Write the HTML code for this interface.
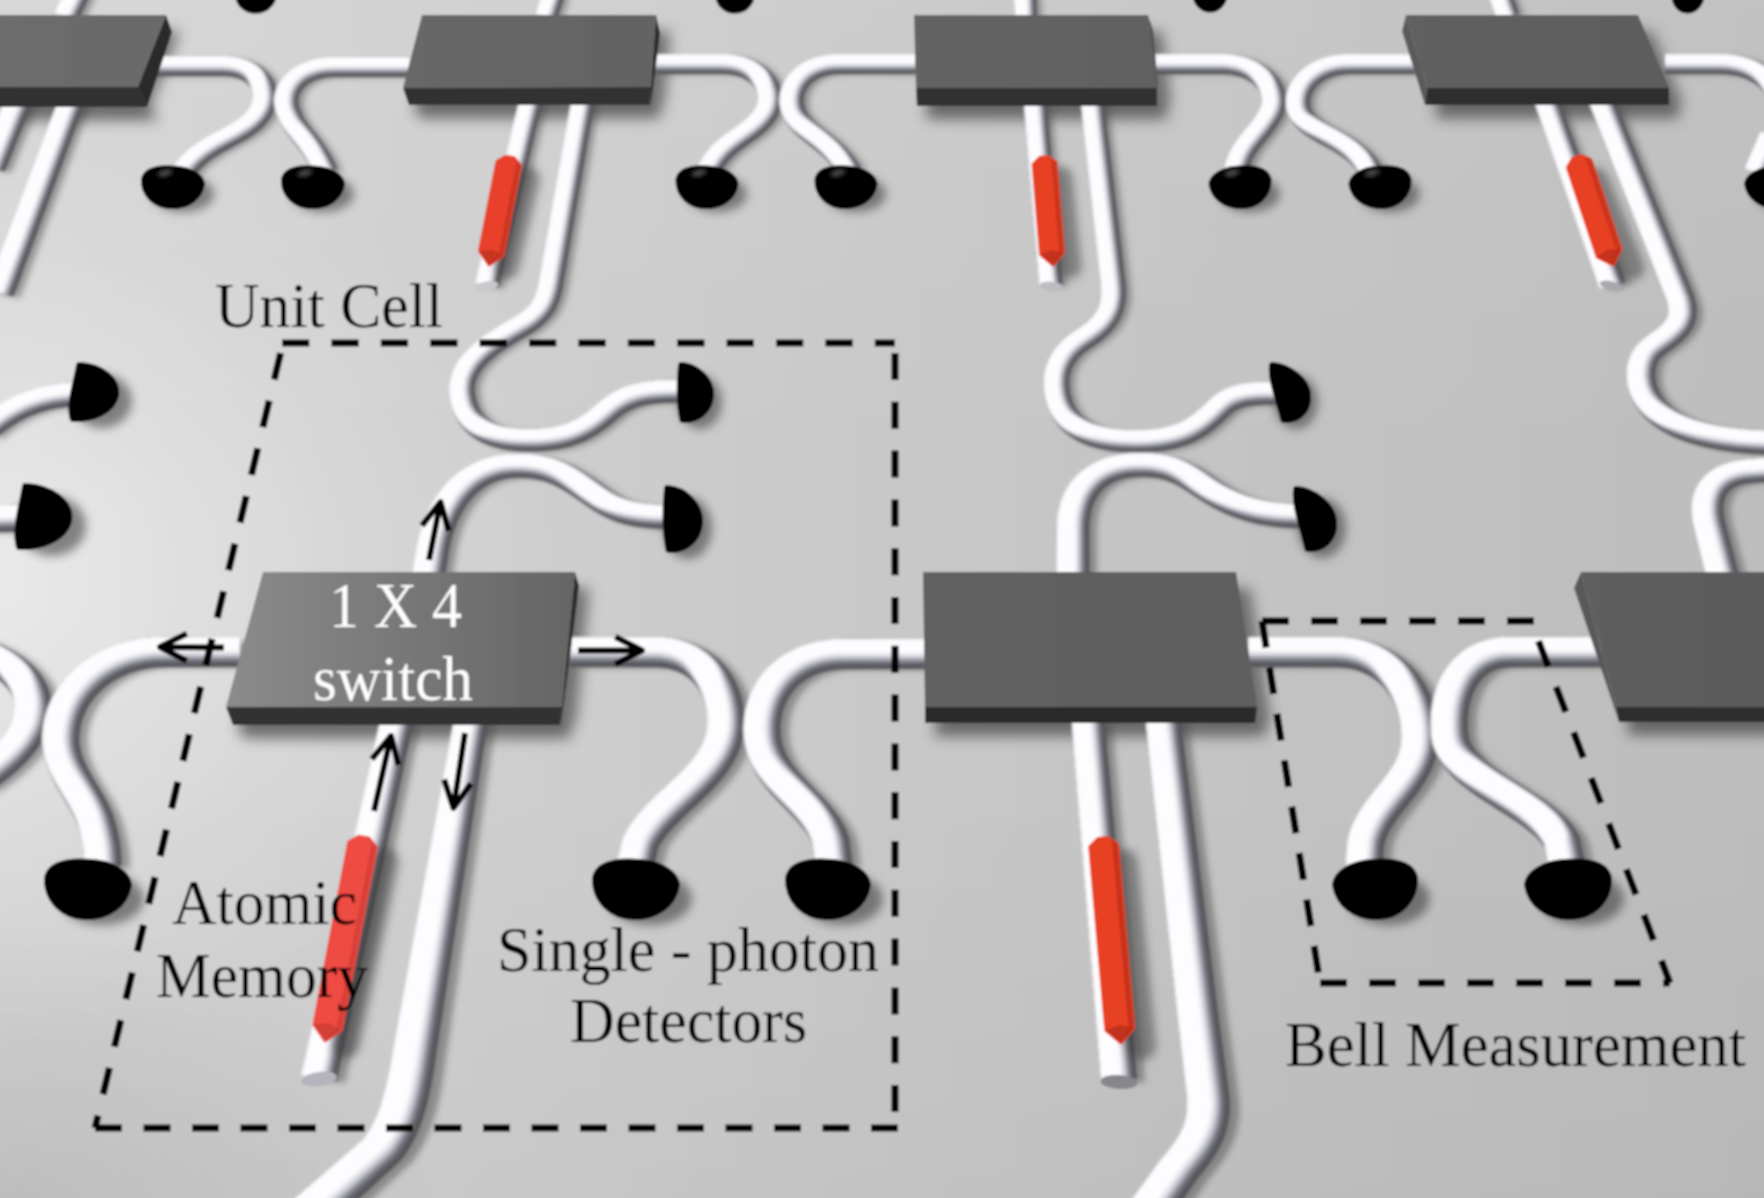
<!DOCTYPE html>
<html><head><meta charset="utf-8"><title>Photonic circuit unit cell</title>
<style>
html,body{margin:0;padding:0;background:#c4c4c4;}
body{width:1764px;height:1198px;overflow:hidden;font-family:"Liberation Serif",serif;}
svg{display:block;}
</style></head><body>
<svg width="1764" height="1198" viewBox="0 0 1764 1198">
<defs>
<linearGradient id="bg" x1="0" y1="0" x2="1" y2="0"><stop offset="0" stop-color="#d5d5d5"/><stop offset="0.3" stop-color="#cecece"/><stop offset="0.55" stop-color="#c7c7c7"/><stop offset="0.8" stop-color="#c1c1c1"/><stop offset="1" stop-color="#bdbdbd"/></linearGradient>
<radialGradient id="bgh" gradientUnits="userSpaceOnUse" cx="0" cy="0" r="1" gradientTransform="translate(-30 575) scale(600 470)"><stop offset="0" stop-color="#fff" stop-opacity="0.5"/><stop offset="0.35" stop-color="#fff" stop-opacity="0.3"/><stop offset="0.7" stop-color="#fff" stop-opacity="0.1"/><stop offset="1" stop-color="#fff" stop-opacity="0"/></radialGradient>
<linearGradient id="bg2" x1="0" y1="0" x2="0" y2="1"><stop offset="0" stop-color="#fff" stop-opacity="0.07"/><stop offset="0.4" stop-color="#fff" stop-opacity="0"/><stop offset="0.65" stop-color="#000" stop-opacity="0"/><stop offset="1" stop-color="#000" stop-opacity="0.03"/></linearGradient>
<radialGradient id="bg3" gradientUnits="userSpaceOnUse" cx="0" cy="0" r="1" gradientTransform="translate(-50 1250) scale(500 350)"><stop offset="0" stop-color="#000" stop-opacity="0.1"/><stop offset="1" stop-color="#000" stop-opacity="0"/></radialGradient>
<filter id="b4" x="-20%" y="-20%" width="140%" height="140%"><feGaussianBlur stdDeviation="4"/></filter>
<filter id="b3" x="-20%" y="-20%" width="140%" height="140%"><feGaussianBlur stdDeviation="3"/></filter>
<filter id="b5" x="-20%" y="-20%" width="140%" height="140%"><feGaussianBlur stdDeviation="5"/></filter>
<filter id="b7" x="-20%" y="-20%" width="140%" height="140%"><feGaussianBlur stdDeviation="7"/></filter>
<filter id="b1" x="-5%" y="-5%" width="110%" height="110%"><feGaussianBlur stdDeviation="1.1"/></filter>
<filter id="b2" x="-5%" y="-5%" width="110%" height="110%"><feGaussianBlur stdDeviation="2"/></filter>
<filter id="soft" x="0" y="0" width="100%" height="100%"><feGaussianBlur stdDeviation="0.9"/></filter>
</defs>
<g filter="url(#soft)">
<rect x="-5" y="-5" width="1774" height="1208" fill="url(#bg)"/>
<rect x="-5" y="-5" width="1774" height="1208" fill="url(#bg2)"/>
<rect x="-5" y="-5" width="1774" height="1208" fill="url(#bgh)"/>
<rect x="-5" y="-5" width="1774" height="1208" fill="url(#bg3)"/>
<g filter="url(#b7)" opacity="0.7">
<polygon points="9,31 180,31 152,103 9,103" fill="#4a4a4a"/>
<polygon points="5,100 148,100 157,120 5,120" fill="#3a3a3a"/>
<polygon points="436,31 670,31 665,103 417,104" fill="#4a4a4a"/>
<polygon points="413,101 661,100 660,118 419,118" fill="#3a3a3a"/>
<polygon points="928,31 1162,31 1171,104 930,104" fill="#4a4a4a"/>
<polygon points="926,101 1167,101 1167,119 927,119" fill="#3a3a3a"/>
<polygon points="1420,31 1652,31 1683,104 1441,104" fill="#4a4a4a"/>
<polygon points="1437,101 1679,101 1679,118 1435,118" fill="#3a3a3a"/>
<polygon points="277,588 589,588 576,723 240,723" fill="#4a4a4a"/>
<polygon points="236,720 572,720 570,738 243,738" fill="#3a3a3a"/>
<polygon points="937,588 1250,588 1271,723 939,723" fill="#4a4a4a"/>
<polygon points="935,720 1267,720 1265,736 935,736" fill="#3a3a3a"/>
<polygon points="1595,588 1784,588 1784,723 1630,723" fill="#4a4a4a"/>
<polygon points="1626,720 1780,720 1780,735 1629,735" fill="#3a3a3a"/>
</g>
<g filter="url(#b3)" opacity="0.5" fill="#4c4c4c">
<path d="M83.3,22.6L95.3,-2.4L75.7,-9.7L63.7,15.3Z"/>
<path d="M561.5,21.8L569.5,-3.2L551.7,-8.9L543.7,16.1Z"/>
<path d="M1041.9,18.6L1040.9,-6.4L1022.3,-5.6L1023.3,19.4Z"/>
<path d="M1524.1,15.9L1515.1,-9.1L1496.7,-3.0L1505.7,22.0Z"/>
<path d="M157.2,76.3L229.2,76.3L235.7,76.6L241.2,77.4L246.0,78.7L250.0,80.3L253.2,82.2L255.9,84.3L258.1,86.7L259.7,89.2L260.9,92.0L261.6,95.0L261.8,98.2L261.5,101.5L260.6,104.9L259.2,108.3L257.3,111.7L255.0,114.8L252.3,117.5L249.2,120.2L245.7,122.8L241.8,125.3L237.5,127.8L232.8,130.3L227.9,132.9L222.7,135.6L217.4,138.6L212.0,141.7L206.6,145.2L201.1,149.1L195.8,153.4L190.7,158.2L185.9,163.6L181.3,169.6L199.1,178.0L202.6,173.3L206.5,169.0L210.6,165.2L214.9,161.7L219.4,158.5L224.1,155.5L228.9,152.6L233.8,149.9L238.8,147.3L243.8,144.6L248.8,141.9L253.8,139.0L258.6,135.9L263.2,132.6L267.6,128.8L271.6,124.6L275.1,119.9L278.1,114.8L280.3,109.4L281.7,104.0L282.2,98.5L281.8,93.0L280.6,87.6L278.4,82.4L275.3,77.5L271.2,73.0L266.1,69.0L260.2,65.6L253.5,62.9L246.1,60.9L238.0,59.7L229.2,59.3L157.2,59.3Z"/>
<path d="M417.2,60.3L342.2,60.3L333.6,60.7L325.6,61.8L318.1,63.6L311.2,66.0L305.0,69.1L299.4,72.7L294.7,76.8L290.7,81.4L287.5,86.3L285.2,91.4L283.8,96.8L283.2,102.3L283.5,107.8L284.6,113.4L286.5,118.6L288.7,123.5L291.3,128.3L294.1,132.8L297.2,137.0L300.4,141.0L303.6,145.0L306.9,149.2L310.2,153.6L313.6,158.4L316.9,163.8L320.3,169.9L323.7,176.8L342.7,170.8L339.0,163.1L335.2,156.3L331.4,150.2L327.7,144.8L324.0,140.0L320.6,135.6L317.3,131.6L314.4,127.8L311.8,124.3L309.5,120.8L307.6,117.2L305.9,113.0L304.5,109.4L303.8,106.0L303.6,102.7L303.9,99.4L304.8,96.3L306.1,93.3L308.0,90.4L310.3,87.8L313.1,85.3L316.5,83.1L320.4,81.2L324.9,79.6L330.0,78.4L335.8,77.6L342.2,77.3L417.2,77.3Z"/>
<path d="M662.2,74.3L729.2,74.3L735.3,74.6L740.8,75.3L745.7,76.5L750.0,78.1L753.8,79.9L757.0,82.1L759.8,84.5L762.1,87.1L764.0,89.8L765.4,92.7L766.4,95.7L766.8,98.8L766.8,102.0L766.4,105.1L765.4,108.2L764.0,111.1L761.6,114.6L758.8,117.8L755.6,120.9L752.1,123.9L748.3,126.8L744.2,129.8L739.8,132.9L735.3,136.1L730.6,139.7L725.9,143.5L721.3,147.9L716.9,152.7L712.8,158.1L709.0,164.2L705.6,170.9L724.8,176.7L727.4,171.4L730.4,166.7L733.6,162.5L737.1,158.7L740.8,155.2L744.6,152.0L748.7,148.9L753.0,145.8L757.4,142.8L761.8,139.6L766.3,136.2L770.6,132.5L774.8,128.3L778.8,123.8L782.4,118.5L784.8,113.4L786.4,108.3L787.2,103.0L787.2,97.7L786.4,92.5L784.8,87.4L782.4,82.5L779.3,77.8L775.3,73.4L770.7,69.4L765.3,65.9L759.3,62.9L752.6,60.5L745.3,58.8L737.5,57.7L729.2,57.3L662.2,57.3Z"/>
<path d="M923.2,57.3L847.2,57.3L838.3,57.7L830.1,59.0L822.5,61.0L815.5,63.7L809.3,67.1L803.9,71.0L799.3,75.4L795.5,80.2L792.6,85.2L790.4,90.5L789.0,96.0L788.5,101.4L788.7,106.9L789.8,112.4L791.6,117.7L794.3,122.9L797.7,127.7L801.5,132.1L805.6,136.0L809.9,139.7L814.4,143.3L818.9,146.8L823.4,150.3L827.8,154.0L832.2,157.9L836.4,162.1L840.5,166.7L844.4,171.8L848.0,177.5L866.4,170.1L862.0,163.2L857.3,157.1L852.4,151.5L847.4,146.6L842.4,142.1L837.5,138.0L832.8,134.3L828.3,130.9L824.2,127.6L820.6,124.5L817.4,121.4L814.7,118.4L812.5,115.3L810.8,111.9L809.7,108.7L809.0,105.3L808.9,101.8L809.2,98.4L810.1,95.0L811.4,91.7L813.2,88.6L815.6,85.7L818.3,83.0L821.6,80.6L825.5,78.5L829.9,76.8L835.0,75.5L840.7,74.6L847.2,74.3L923.2,74.3Z"/>
<path d="M1162.2,74.3L1229.2,74.3L1235.4,74.6L1241.0,75.3L1246.2,76.6L1250.8,78.2L1255.0,80.1L1258.7,82.3L1261.9,84.8L1264.7,87.5L1266.9,90.4L1268.7,93.3L1269.9,96.4L1270.7,99.5L1271.0,102.6L1270.8,105.6L1270.1,108.5L1268.8,111.4L1266.0,116.4L1263.0,120.9L1259.7,125.3L1256.3,129.5L1252.8,133.7L1249.2,138.1L1245.7,142.7L1242.3,147.7L1239.3,153.1L1236.6,159.1L1234.5,165.6L1233.1,172.8L1253.3,174.8L1254.5,169.2L1256.1,164.2L1258.1,159.7L1260.4,155.5L1263.2,151.5L1266.2,147.5L1269.5,143.4L1273.1,139.1L1276.8,134.6L1280.5,129.6L1284.1,124.2L1287.6,118.2L1289.7,113.0L1291.0,107.7L1291.4,102.4L1290.9,97.1L1289.6,91.9L1287.5,86.8L1284.6,81.9L1281.0,77.3L1276.7,73.1L1271.7,69.2L1266.0,65.8L1259.7,62.9L1252.9,60.5L1245.5,58.7L1237.6,57.7L1229.2,57.3L1162.2,57.3Z"/>
<path d="M1422.2,57.3L1357.2,57.3L1348.9,57.7L1341.0,58.7L1333.6,60.5L1326.8,62.9L1320.5,65.8L1314.9,69.2L1309.9,73.1L1305.7,77.3L1302.0,81.9L1299.1,86.7L1297.0,91.7L1295.5,96.9L1294.9,102.1L1295.0,107.3L1295.9,112.6L1297.7,117.8L1300.7,123.0L1304.3,127.4L1308.5,131.4L1313.0,134.9L1317.8,138.1L1322.7,141.1L1327.7,143.9L1332.7,146.7L1337.7,149.4L1342.6,152.2L1347.3,155.0L1351.7,158.1L1355.8,161.3L1359.7,164.7L1363.1,168.4L1366.2,172.5L1368.8,177.1L1387.6,170.5L1384.0,164.3L1379.9,158.7L1375.2,153.7L1370.3,149.2L1365.0,145.2L1359.7,141.6L1354.3,138.3L1349.0,135.3L1343.9,132.4L1338.9,129.7L1334.3,127.1L1330.1,124.6L1326.3,122.1L1323.1,119.5L1320.4,117.0L1318.3,114.4L1316.7,111.8L1315.8,109.0L1315.3,106.0L1315.2,102.9L1315.6,99.7L1316.5,96.5L1317.9,93.4L1319.7,90.4L1322.0,87.5L1324.7,84.8L1327.9,82.3L1331.6,80.1L1335.7,78.1L1340.3,76.5L1345.4,75.3L1351.0,74.6L1357.2,74.3L1422.2,74.3Z"/>
<path d="M1672.2,74.3L1727.2,74.3L1733.5,74.5L1739.5,75.2L1745.1,76.4L1750.3,77.9L1755.1,79.7L1759.6,81.9L1763.6,84.4L1767.1,87.1L1770.1,90.0L1772.6,93.1L1774.7,96.4L1776.2,99.7L1777.1,103.2L1797.3,100.4L1795.7,94.8L1793.3,89.4L1790.1,84.4L1786.3,79.6L1781.7,75.3L1776.6,71.3L1770.9,67.8L1764.6,64.7L1757.9,62.1L1750.8,60.1L1743.3,58.5L1735.4,57.6L1727.2,57.3L1672.2,57.3Z"/>
<path d="M1769.6,133.9L1753.6,170.9L1772.8,176.7L1788.8,139.7Z"/>
<path d="M16.2,99.1L-10.8,167.1L11.0,172.9L38.0,104.9Z"/>
<path d="M69.3,99.2L45.2,163.5L21.1,227.9L-3.0,292.2L19.8,297.9L43.3,233.6L66.8,169.2L90.3,104.8Z"/>
<path d="M528.3,100.0L513.6,161.7L498.9,223.4L484.2,285.1L504.2,288.7L518.6,227.1L533.0,165.4L547.5,103.8Z"/>
<path d="M1032.2,102.6L1037.5,164.3L1042.8,225.9L1048.2,287.6L1067.6,286.2L1062.3,224.5L1057.0,162.9L1051.6,101.2Z"/>
<path d="M1543.4,104.5L1565.3,166.2L1587.1,227.9L1609.0,289.5L1631.5,284.4L1608.8,222.7L1586.0,161.0L1563.3,99.3Z"/>
<path d="M580.2,100.5L569.5,161.5L558.8,222.5L548.1,283.5L546.9,289.3L545.5,294.4L543.9,298.9L542.0,302.8L539.8,306.3L537.2,309.5L534.1,312.6L530.2,315.6L525.5,318.8L519.9,322.1L512.7,326.1L506.0,330.1L499.7,334.2L493.8,338.2L488.2,342.3L483.1,346.5L478.4,350.8L474.2,355.2L470.4,359.7L467.1,364.4L464.3,369.2L462.0,374.2L460.3,379.4L459.2,384.7L458.7,390.1L458.9,395.7L459.9,402.9L461.5,409.6L463.9,415.9L466.9,421.6L470.5,426.9L474.7,431.7L479.4,435.9L484.6,439.6L490.2,442.8L496.2,445.4L502.4,447.5L508.9,449.1L515.5,450.3L522.4,451.1L529.3,451.5L538.8,451.7L547.8,451.5L556.1,450.9L563.9,449.8L571.2,448.4L578.0,446.7L584.3,444.6L590.2,442.2L595.7,439.6L600.8,436.8L605.5,433.8L610.0,430.7L614.2,427.5L618.2,424.3L622.1,421.1L625.7,418.0L629.7,415.1L633.6,412.6L637.6,410.5L641.6,408.7L645.8,407.2L650.2,406.0L654.9,405.0L659.9,404.2L665.4,403.7L671.3,403.3L677.7,403.0L684.6,402.9L692.1,402.8L692.1,383.3L684.3,383.3L676.9,383.5L669.8,383.8L663.1,384.3L656.5,385.0L650.1,386.0L644.0,387.3L637.9,389.0L632.1,391.1L626.4,393.7L620.9,396.6L615.5,400.1L610.1,404.1L606.3,407.3L602.7,410.4L599.1,413.3L595.5,416.0L591.8,418.6L588.1,420.9L584.2,423.1L580.0,425.1L575.6,426.9L570.8,428.5L565.5,429.9L559.8,431.0L553.4,431.9L546.4,432.4L538.7,432.6L530.2,432.5L524.5,432.2L519.1,431.6L514.1,430.7L509.4,429.5L505.0,428.0L501.0,426.3L497.3,424.3L494.0,422.0L491.0,419.3L488.4,416.3L486.0,412.9L484.0,409.1L482.3,404.7L481.1,399.8L480.3,394.3L480.2,390.6L480.5,387.1L481.1,383.6L482.2,380.3L483.7,376.9L485.6,373.6L488.0,370.2L490.8,366.8L494.1,363.4L497.9,359.9L502.2,356.3L507.0,352.7L512.3,349.1L518.0,345.4L524.3,341.6L530.9,337.8L537.6,334.0L543.5,329.9L548.8,325.6L553.4,321.1L557.4,316.2L560.6,310.9L563.3,305.3L565.4,299.4L567.1,293.1L568.5,286.4L578.8,225.3L589.2,164.3L599.6,103.3Z"/>
<path d="M1089.2,102.8L1096.1,163.8L1103.1,224.9L1110.0,285.9L1110.5,293.3L1110.2,299.7L1109.2,305.2L1107.7,310.0L1105.7,314.1L1103.2,317.8L1100.4,321.2L1097.2,324.3L1093.7,327.1L1090.0,329.9L1086.3,332.4L1079.8,336.7L1073.9,341.4L1068.8,346.4L1064.3,351.6L1060.6,357.2L1057.7,363.0L1055.5,369.0L1054.1,375.1L1053.4,381.4L1053.3,387.7L1053.9,394.1L1054.9,400.3L1056.5,406.3L1058.5,412.1L1061.1,417.4L1064.2,422.5L1067.8,427.1L1071.9,431.4L1076.5,435.3L1081.5,438.7L1086.8,441.7L1092.5,444.4L1098.6,446.6L1104.9,448.5L1111.6,450.0L1118.5,451.1L1125.7,452.0L1133.1,452.5L1143.1,452.9L1152.4,452.8L1161.1,452.2L1169.2,451.4L1176.7,450.1L1183.7,448.5L1190.2,446.6L1196.2,444.4L1201.7,441.9L1206.9,439.2L1211.6,436.4L1215.9,433.4L1219.9,430.4L1223.6,427.3L1227.0,424.3L1230.3,421.3L1233.4,418.4L1236.3,415.6L1239.3,413.1L1242.3,411.1L1245.5,409.4L1248.8,408.2L1252.6,407.1L1256.9,406.3L1261.9,405.7L1267.5,405.2L1273.9,405.0L1281.1,404.9L1289.1,404.8L1289.1,385.3L1280.9,385.3L1273.2,385.5L1266.0,385.8L1259.2,386.3L1252.8,387.2L1246.6,388.4L1240.6,390.1L1234.9,392.3L1229.5,395.1L1224.4,398.5L1219.6,402.5L1216.6,405.4L1213.6,408.3L1210.6,411.1L1207.6,413.7L1204.6,416.3L1201.4,418.7L1198.1,421.0L1194.6,423.2L1190.8,425.2L1186.7,427.0L1182.1,428.7L1177.2,430.2L1171.7,431.4L1165.6,432.5L1158.9,433.2L1151.5,433.7L1143.3,433.8L1134.4,433.5L1128.0,433.1L1122.0,432.4L1116.4,431.4L1111.1,430.3L1106.3,428.9L1101.8,427.2L1097.8,425.4L1094.1,423.3L1090.7,421.0L1087.7,418.5L1085.1,415.7L1082.7,412.7L1080.5,409.3L1078.7,405.6L1077.2,401.5L1076.0,396.9L1075.2,391.9L1074.7,386.9L1074.7,382.3L1075.1,377.9L1076.1,373.7L1077.5,369.6L1079.5,365.7L1082.0,361.9L1085.1,358.2L1088.8,354.6L1093.2,351.1L1098.6,347.5L1103.1,344.4L1107.6,341.1L1112.1,337.3L1116.5,333.0L1120.6,328.1L1124.2,322.5L1127.3,316.2L1129.5,309.2L1130.9,301.5L1131.2,293.1L1130.5,284.0L1123.2,223.0L1115.9,162.0L1108.6,101.0Z"/>
<path d="M1598.3,104.6L1624.6,170.7L1650.8,236.8L1677.1,302.9L1678.7,308.3L1679.2,312.9L1678.9,316.7L1677.8,320.1L1676.2,323.2L1673.9,326.1L1671.1,329.0L1667.7,331.9L1663.8,334.8L1659.7,337.8L1655.5,340.8L1649.4,345.9L1644.6,351.8L1641.1,358.1L1638.8,364.7L1637.6,371.4L1637.3,378.2L1637.9,384.9L1639.3,391.5L1641.5,398.0L1644.4,404.1L1648.0,409.9L1651.1,414.0L1654.6,418.0L1658.4,421.7L1662.5,425.1L1667.0,428.4L1671.7,431.4L1676.6,434.2L1681.8,436.7L1687.2,439.1L1692.9,441.3L1698.7,443.2L1704.7,445.0L1710.9,446.7L1717.3,448.1L1723.8,449.5L1730.5,450.6L1737.3,451.6L1744.3,452.5L1751.4,453.3L1758.7,453.9L1766.0,454.4L1773.5,454.9L1781.1,455.2L1788.7,455.4L1789.3,435.0L1782.0,434.8L1774.9,434.6L1767.9,434.2L1761.1,433.8L1754.4,433.2L1747.9,432.6L1741.5,431.8L1735.4,430.9L1729.4,429.9L1723.7,428.8L1718.2,427.5L1712.9,426.2L1707.8,424.7L1703.0,423.1L1698.5,421.4L1694.2,419.5L1690.2,417.6L1686.4,415.5L1682.9,413.3L1679.7,411.0L1676.7,408.5L1674.0,405.9L1671.6,403.2L1669.3,400.3L1666.8,396.3L1664.7,391.9L1663.1,387.3L1662.1,382.5L1661.6,377.7L1661.7,373.0L1662.5,368.6L1663.8,364.6L1665.8,361.0L1668.2,358.0L1671.4,355.3L1675.6,352.2L1680.0,349.1L1684.6,345.5L1689.1,341.6L1693.5,337.1L1697.3,332.0L1700.4,326.2L1702.3,319.8L1702.9,312.7L1702.0,305.2L1699.6,297.2L1672.8,231.1L1646.1,165.1L1619.3,99.2Z"/>
<path d="M451.8,581.4L456.6,551.5L457.6,546.6L458.7,541.7L460.0,536.8L461.5,532.0L463.2,527.2L465.1,522.6L467.2,518.0L469.5,513.7L472.0,509.5L474.6,505.5L477.5,501.7L480.5,498.1L483.7,494.9L487.1,491.8L490.6,489.1L494.4,486.7L498.2,484.5L502.3,482.7L506.6,481.1L511.1,479.9L515.8,478.9L520.8,478.3L527.4,478.1L533.5,478.2L539.2,478.6L544.5,479.3L549.4,480.3L554.1,481.6L558.5,483.1L562.8,484.9L567.0,486.9L571.1,489.1L575.2,491.5L579.3,494.1L583.4,496.8L587.5,499.7L591.8,502.7L596.1,505.7L600.6,508.8L606.1,512.5L611.9,515.8L617.8,518.7L623.9,521.2L630.1,523.4L636.5,525.2L643.1,526.6L649.9,527.7L656.8,528.4L663.9,529.0L671.3,529.3L679.0,529.4L679.0,509.0L672.1,508.9L665.7,508.6L659.8,508.2L654.2,507.6L649.0,506.7L644.2,505.7L639.6,504.4L635.1,502.9L630.8,501.0L626.5,498.9L622.2,496.4L617.8,493.5L613.6,490.5L609.4,487.6L605.1,484.5L600.7,481.5L596.2,478.4L591.5,475.5L586.6,472.6L581.4,469.8L575.9,467.2L570.1,464.8L563.9,462.7L557.3,460.9L550.3,459.4L542.9,458.4L535.1,457.8L526.9,457.7L518.2,458.0L510.4,458.9L503.0,460.4L496.1,462.3L489.5,464.7L483.2,467.5L477.4,470.7L472.0,474.3L467.0,478.1L462.3,482.2L458.0,486.6L454.1,491.1L450.5,495.9L447.2,500.8L444.1,505.8L441.4,511.0L438.9,516.2L436.7,521.6L434.7,527.0L433.0,532.4L431.5,537.9L430.1,543.3L429.0,548.9L424.0,578.9Z"/>
<path d="M1096.9,580.2L1096.6,532.2L1096.8,526.1L1097.3,520.5L1098.1,515.2L1099.3,510.3L1100.9,505.7L1102.7,501.6L1104.8,497.8L1107.1,494.4L1109.7,491.3L1112.6,488.6L1115.6,486.3L1118.9,484.2L1122.5,482.4L1126.3,480.8L1130.5,479.5L1135.1,478.5L1140.0,477.8L1145.3,477.3L1152.5,477.2L1158.9,477.5L1164.6,478.1L1169.7,479.0L1174.4,480.2L1178.8,481.7L1183.0,483.4L1187.0,485.4L1191.1,487.7L1195.1,490.2L1199.3,492.9L1203.7,495.8L1208.2,498.8L1213.1,502.0L1218.4,505.3L1224.9,508.9L1231.3,512.1L1237.7,515.0L1244.1,517.5L1250.5,519.8L1256.9,521.7L1263.4,523.4L1270.0,524.8L1276.6,526.0L1283.3,526.9L1290.0,527.6L1296.9,528.0L1303.9,528.3L1311.0,528.4L1311.0,508.0L1304.6,507.9L1298.5,507.7L1292.7,507.3L1287.0,506.7L1281.5,506.0L1276.1,505.0L1270.8,503.9L1265.6,502.5L1260.5,501.0L1255.3,499.1L1250.1,497.0L1244.8,494.6L1239.5,492.0L1234.1,489.0L1229.7,486.3L1225.3,483.4L1220.9,480.4L1216.5,477.4L1211.9,474.4L1207.0,471.4L1201.9,468.6L1196.4,465.8L1190.5,463.4L1184.0,461.2L1177.0,459.4L1169.5,458.0L1161.5,457.2L1152.9,456.8L1143.6,457.0L1136.0,457.6L1128.7,458.7L1121.6,460.3L1114.9,462.3L1108.5,464.8L1102.6,467.9L1097.1,471.3L1092.0,475.2L1087.5,479.5L1083.5,484.1L1080.0,489.1L1077.0,494.4L1074.5,500.0L1072.5,505.9L1070.9,512.0L1069.8,518.5L1069.2,525.2L1068.9,532.2L1068.9,580.2Z"/>
<path d="M1746.7,578.3L1733.0,527.2L1731.7,521.8L1730.8,516.7L1730.4,512.0L1730.5,507.6L1731.1,503.6L1732.0,500.0L1733.3,496.9L1735.0,494.2L1737.0,491.8L1739.4,489.8L1742.2,488.0L1745.6,486.4L1749.7,485.1L1754.6,484.0L1760.4,483.3L1790.1,481.3L1787.9,461.0L1758.0,463.0L1749.3,464.0L1741.3,465.7L1733.9,468.1L1727.2,471.2L1721.2,474.9L1716.1,479.2L1711.9,484.0L1708.6,489.2L1706.2,494.7L1704.6,500.3L1703.7,506.2L1703.5,512.2L1703.9,518.4L1704.8,524.7L1706.2,531.1L1719.1,582.0Z"/>
<path d="M2.1,439.5L5.8,436.3L9.6,433.3L13.5,430.3L17.6,427.5L21.7,424.8L26.0,422.3L30.5,419.9L35.1,417.7L39.9,415.6L45.0,413.7L50.3,412.0L55.8,410.5L61.7,409.2L67.8,408.1L74.3,407.2L81.2,406.7L88.4,406.4L87.8,386.0L79.5,386.3L71.6,387.0L64.0,388.0L56.7,389.2L49.7,390.8L43.0,392.6L36.6,394.7L30.4,397.0L24.6,399.5L19.0,402.2L13.7,405.1L8.6,408.1L3.7,411.3L-1.0,414.6L-5.5,417.9L-9.8,421.4L-13.9,424.8Z"/>
<path d="M-2.6,532.9L35.4,531.9L34.6,509.0L-3.4,510.0Z"/>
<path d="M-18.8,666.8L-13.8,668.3L-8.8,670.1L-3.9,672.1L0.7,674.3L5.2,676.8L9.3,679.4L13.1,682.2L16.6,685.2L19.6,688.3L22.2,691.5L24.4,694.8L26.1,698.1L27.4,701.5L28.1,705.1L28.4,708.7L28.2,713.2L27.5,717.6L26.5,721.8L25.1,725.9L23.2,729.9L21.0,733.9L18.4,737.8L15.5,741.7L12.1,745.6L8.4,749.5L4.3,753.4L-0.2,757.2L-4.9,761.2L-10.0,765.1L-15.4,769.0L-21.1,773.0L-0.7,792.4L5.4,788.1L11.3,783.8L17.0,779.4L22.5,774.9L27.8,770.3L32.7,765.6L37.4,760.7L41.7,755.7L45.7,750.5L49.2,745.1L52.3,739.6L55.0,733.8L57.1,727.8L58.6,721.6L59.5,715.2L59.8,708.7L59.4,702.1L58.0,695.7L55.8,689.6L52.8,683.8L49.2,678.4L45.0,673.2L40.3,668.5L35.2,664.0L29.6,659.9L23.8,656.2L17.6,652.8L11.2,649.7L4.6,647.0L-2.1,644.6L-9.0,642.6Z"/>
<path d="M251.1,642.0L176.1,641.8L168.3,642.0L160.7,642.5L153.3,643.5L146.1,644.7L139.0,646.3L132.2,648.3L125.7,650.5L119.3,653.1L113.2,655.9L107.4,659.1L101.9,662.5L96.6,666.1L91.6,670.0L87.0,674.1L82.6,678.4L78.5,682.9L74.8,687.6L71.3,692.4L68.2,697.5L65.5,702.6L63.1,707.9L61.0,713.4L59.3,718.9L58.0,724.5L57.0,730.3L56.4,736.0L56.2,743.3L56.7,750.4L57.8,757.3L59.5,763.9L61.7,770.2L64.2,776.3L67.0,782.1L69.9,787.7L73.0,793.1L76.1,798.3L79.1,803.4L82.0,808.3L84.8,813.1L87.3,817.8L89.5,822.3L91.4,826.8L92.8,831.1L94.1,836.1L95.3,840.9L96.2,845.5L97.0,849.8L97.6,854.2L98.0,858.7L98.3,863.5L98.4,868.9L129.8,868.9L129.7,862.7L129.4,857.0L128.9,851.5L128.2,846.2L127.3,841.0L126.2,835.8L124.9,830.4L123.4,824.7L121.2,818.4L118.8,812.6L116.1,806.9L113.2,801.5L110.1,796.2L107.1,791.1L104.1,786.1L101.2,781.2L98.4,776.3L95.9,771.5L93.6,766.8L91.6,762.1L90.0,757.3L88.8,752.6L88.0,747.8L87.6,742.8L87.8,737.7L88.2,733.3L89.0,729.0L90.0,724.8L91.2,720.7L92.8,716.7L94.5,712.7L96.6,708.9L98.9,705.2L101.4,701.6L104.2,698.1L107.2,694.8L110.4,691.6L113.8,688.6L117.4,685.7L121.3,683.1L125.3,680.6L129.6,678.3L134.0,676.2L138.6,674.3L143.4,672.6L148.4,671.2L153.6,669.9L158.9,669.0L164.5,668.3L170.2,667.8L176.1,667.7L251.1,667.5Z"/>
<path d="M581.1,667.5L666.1,667.7L671.0,667.9L675.7,668.4L680.1,669.2L684.3,670.2L688.3,671.6L692.1,673.2L695.7,675.1L699.1,677.3L702.4,679.8L705.4,682.5L708.2,685.5L710.7,688.7L713.1,692.3L715.2,696.1L717.0,700.2L718.5,704.6L719.7,709.3L720.6,714.2L721.2,719.4L721.4,724.8L721.2,729.4L720.6,733.8L719.7,738.1L718.4,742.2L716.8,746.2L714.9,750.1L712.8,754.0L710.3,757.8L707.6,761.5L704.6,765.3L701.4,769.0L698.0,772.7L694.4,776.4L690.6,780.2L686.7,783.9L682.8,787.6L678.7,791.4L674.6,795.2L670.4,799.1L666.3,803.1L662.2,807.2L658.2,811.3L654.3,815.6L650.5,820.0L647.0,824.6L643.6,829.4L640.5,834.3L637.1,840.8L630.7,866.0L661.5,871.8L667.1,849.0L668.6,846.5L670.9,842.8L673.4,839.2L676.3,835.5L679.4,831.9L682.7,828.2L686.3,824.5L690.0,820.8L693.8,817.1L697.8,813.3L701.9,809.5L706.0,805.7L710.2,801.8L714.3,797.8L718.5,793.6L722.5,789.4L726.5,785.1L730.4,780.6L734.0,775.9L737.5,771.1L740.8,766.1L743.7,760.8L746.3,755.4L748.6,749.7L750.4,743.8L751.7,737.7L752.5,731.3L752.8,724.8L752.6,717.8L751.9,711.0L750.7,704.5L749.0,698.1L746.8,692.0L744.2,686.1L741.2,680.5L737.7,675.2L733.7,670.2L729.3,665.6L724.5,661.2L719.3,657.3L713.7,653.8L707.8,650.6L701.5,648.0L694.9,645.8L688.0,644.0L680.9,642.8L673.6,642.0L666.1,641.8L581.1,642.0Z"/>
<path d="M938.1,644.0L856.1,643.8L848.6,644.0L841.3,644.6L834.2,645.6L827.3,647.0L820.7,648.8L814.2,650.9L808.1,653.5L802.2,656.4L796.6,659.6L791.4,663.2L786.5,667.1L781.9,671.3L777.8,675.7L773.9,680.5L770.5,685.5L767.5,690.7L764.8,696.2L762.5,701.8L760.7,707.7L759.2,713.7L758.2,719.9L757.6,726.3L757.4,732.8L757.7,739.9L758.6,746.7L760.0,753.2L761.9,759.4L764.3,765.3L767.1,770.9L770.2,776.3L773.5,781.4L777.1,786.3L780.8,790.9L784.6,795.4L788.5,799.7L792.4,803.8L796.3,807.8L800.1,811.7L803.8,815.5L807.4,819.3L810.7,823.0L813.9,826.6L816.8,830.3L819.5,833.9L821.8,837.5L823.8,841.1L825.6,844.8L826.7,847.4L829.5,870.3L860.7,867.4L857.5,842.3L855.1,835.5L852.6,830.1L849.7,825.0L846.5,820.1L843.1,815.4L839.5,810.9L835.7,806.6L831.9,802.5L828.1,798.5L824.3,794.5L820.5,790.6L816.8,786.8L813.2,783.0L809.7,779.3L806.5,775.5L803.4,771.7L800.6,767.8L798.0,763.9L795.7,760.0L793.7,755.9L792.1,751.7L790.7,747.3L789.7,742.7L789.0,737.9L788.8,732.8L789.0,727.7L789.5,722.8L790.3,718.2L791.3,713.7L792.7,709.4L794.3,705.3L796.2,701.4L798.3,697.8L800.7,694.3L803.2,691.1L806.0,688.1L809.1,685.3L812.3,682.7L815.7,680.4L819.3,678.2L823.2,676.3L827.2,674.6L831.5,673.2L835.9,672.0L840.6,671.0L845.6,670.3L850.7,669.8L856.1,669.7L938.1,669.5Z"/>
<path d="M1259.1,667.5L1346.1,667.7L1351.5,667.9L1356.5,668.3L1361.4,669.1L1365.9,670.1L1370.3,671.4L1374.4,672.9L1378.4,674.7L1382.1,676.7L1385.7,678.9L1389.1,681.3L1392.3,684.0L1395.3,686.9L1398.1,690.0L1400.8,693.3L1403.2,696.7L1405.5,700.4L1407.5,704.3L1409.3,708.3L1410.9,712.4L1412.2,716.7L1413.4,721.2L1414.2,725.7L1414.9,730.3L1415.2,735.0L1415.4,739.8L1415.2,744.8L1414.5,749.5L1413.5,753.9L1412.1,758.2L1410.4,762.4L1408.4,766.5L1406.1,770.5L1403.5,774.5L1400.7,778.6L1397.6,782.6L1394.4,786.7L1391.1,790.9L1387.7,795.1L1384.2,799.5L1380.8,804.1L1377.4,808.8L1374.1,813.7L1371.0,818.8L1368.1,824.3L1365.5,830.0L1363.4,836.0L1361.5,843.1L1359.4,867.9L1390.8,869.9L1392.7,846.6L1393.7,843.1L1395.2,838.9L1397.1,834.7L1399.2,830.7L1401.7,826.6L1404.4,822.6L1407.3,818.5L1410.4,814.4L1413.7,810.3L1417.1,806.1L1420.5,801.7L1424.0,797.2L1427.4,792.6L1430.8,787.8L1434.0,782.8L1437.0,777.5L1439.8,771.9L1442.1,766.1L1444.1,760.0L1445.6,753.5L1446.5,746.8L1446.8,739.8L1446.7,733.8L1446.2,727.9L1445.4,722.1L1444.3,716.3L1442.8,710.6L1441.1,705.0L1439.0,699.6L1436.6,694.3L1433.9,689.1L1430.8,684.1L1427.4,679.3L1423.7,674.7L1419.6,670.2L1415.2,666.1L1410.5,662.1L1405.4,658.5L1400.0,655.2L1394.2,652.1L1388.2,649.5L1381.8,647.2L1375.2,645.2L1368.3,643.7L1361.1,642.7L1353.7,642.0L1346.1,641.8L1259.1,642.0Z"/>
<path d="M1613.1,642.0L1521.1,641.8L1513.5,642.1L1506.2,643.0L1499.2,644.5L1492.6,646.7L1486.3,649.3L1480.5,652.5L1475.2,656.1L1470.3,660.2L1465.9,664.6L1462.0,669.3L1458.5,674.3L1455.4,679.5L1452.8,684.9L1450.5,690.6L1448.6,696.4L1447.1,702.4L1446.0,708.6L1445.2,714.9L1444.7,721.3L1444.6,727.8L1444.9,734.4L1445.5,741.1L1446.6,747.2L1448.4,752.8L1450.9,758.3L1453.8,763.4L1457.2,768.2L1461.0,772.9L1465.1,777.2L1469.5,781.4L1474.1,785.4L1478.8,789.2L1483.8,792.8L1488.8,796.4L1493.9,799.9L1499.1,803.2L1504.3,806.6L1509.4,809.8L1514.5,813.0L1519.5,816.2L1524.4,819.4L1529.1,822.6L1533.6,825.7L1537.9,828.9L1541.9,832.0L1545.7,835.1L1549.1,838.3L1552.1,841.4L1554.7,844.5L1557.0,847.6L1558.1,849.0L1562.6,871.3L1593.6,866.5L1588.1,840.8L1584.2,834.0L1580.7,829.2L1576.8,824.7L1572.6,820.4L1568.2,816.3L1563.5,812.4L1558.7,808.6L1553.7,805.0L1548.7,801.5L1543.5,798.1L1538.4,794.8L1533.2,791.5L1528.1,788.3L1523.0,785.1L1518.1,781.9L1513.2,778.8L1508.6,775.7L1504.2,772.5L1500.0,769.4L1496.0,766.3L1492.4,763.2L1489.1,760.1L1486.2,757.0L1483.7,753.9L1481.5,750.8L1479.8,747.8L1478.4,744.7L1477.4,741.6L1476.7,738.4L1476.3,733.0L1476.1,727.6L1476.2,722.2L1476.5,717.0L1477.2,712.0L1478.1,707.1L1479.2,702.5L1480.6,698.1L1482.3,694.0L1484.1,690.1L1486.2,686.5L1488.5,683.3L1491.0,680.3L1493.6,677.7L1496.3,675.4L1499.2,673.4L1502.3,671.8L1505.5,670.4L1509.0,669.2L1512.7,668.4L1516.7,667.9L1521.1,667.7L1613.1,667.5Z"/>
<path d="M393.1,720.4L380.0,780.0L367.0,839.7L353.9,899.4L340.9,959.1L327.8,1018.7L314.7,1078.4L344.9,1083.0L357.5,1023.3L370.1,963.5L382.8,903.8L395.4,844.1L408.1,784.4L420.7,724.7Z"/>
<path d="M466.9,720.9L455.5,786.9L444.0,853.0L432.6,919.0L421.2,985.1L409.7,1051.3L408.7,1057.9L407.6,1064.4L406.5,1070.7L405.4,1076.8L404.2,1082.9L402.9,1088.7L401.6,1094.5L400.2,1100.0L398.6,1105.4L397.0,1110.6L395.2,1115.6L393.3,1120.5L391.3,1125.1L389.2,1129.5L386.9,1133.7L384.5,1137.7L381.9,1141.5L380.1,1144.1L309.0,1206.8L340.4,1228.0L411.7,1162.4L416.2,1156.5L419.5,1151.4L422.5,1146.1L425.3,1140.8L427.8,1135.3L430.1,1129.7L432.2,1123.9L434.1,1118.1L435.8,1112.2L437.4,1106.2L438.8,1100.1L440.1,1093.8L441.4,1087.5L442.5,1081.2L443.5,1074.7L444.5,1068.1L445.4,1061.5L446.3,1054.9L456.1,988.8L466.0,922.7L475.8,856.5L485.7,790.3L495.5,724.2Z"/>
<path d="M1083.9,723.4L1089.0,783.4L1094.1,843.5L1099.2,903.5L1104.3,963.5L1109.4,1023.6L1114.5,1083.6L1145.1,1081.8L1139.5,1021.8L1134.0,961.7L1128.5,901.7L1122.9,841.7L1117.4,781.7L1111.9,721.7Z"/>
<path d="M1158.7,723.6L1167.3,797.8L1175.8,871.9L1184.4,946.0L1193.0,1020.2L1202.8,1099.3L1203.2,1105.6L1203.2,1111.6L1202.7,1117.1L1201.7,1122.2L1200.4,1127.0L1198.8,1131.5L1196.9,1135.8L1194.7,1140.0L1192.3,1144.0L1189.7,1147.9L1186.8,1151.7L1183.8,1155.5L1180.7,1159.3L1177.2,1163.6L1144.8,1209.0L1178.2,1223.3L1209.2,1178.6L1212.0,1175.1L1215.4,1170.9L1218.7,1166.5L1222.1,1161.8L1225.3,1156.8L1228.4,1151.6L1231.3,1146.0L1233.8,1140.0L1235.9,1133.7L1237.6,1127.1L1238.8,1120.1L1239.4,1112.7L1239.3,1104.9L1238.6,1096.7L1227.5,1017.6L1217.7,943.6L1207.9,869.5L1198.1,795.5L1188.3,721.4Z"/>
</g>
<g filter="url(#b5)" opacity="0.55" fill="#333">
<ellipse cx="183" cy="194" rx="31" ry="18"/>
<ellipse cx="323" cy="194" rx="31" ry="18"/>
<ellipse cx="717" cy="194" rx="30" ry="18"/>
<ellipse cx="856" cy="194" rx="30" ry="18"/>
<ellipse cx="1250" cy="194" rx="30" ry="18"/>
<ellipse cx="1390" cy="194" rx="30" ry="18"/>
<ellipse cx="1788" cy="194" rx="32" ry="18"/>
<ellipse cx="102" cy="899" rx="42" ry="26"/>
<ellipse cx="650" cy="899" rx="42" ry="26"/>
<ellipse cx="842" cy="899" rx="41" ry="26"/>
<ellipse cx="1389" cy="899" rx="41" ry="26"/>
<ellipse cx="1582" cy="899" rx="42" ry="26"/>
<ellipse cx="102" cy="401" rx="30" ry="27"/>
<ellipse cx="52" cy="526" rx="34" ry="30"/>
<ellipse cx="700" cy="402" rx="22" ry="27"/>
<ellipse cx="688" cy="528" rx="24" ry="31"/>
<ellipse cx="1296" cy="402" rx="22" ry="27"/>
<ellipse cx="1322" cy="528" rx="24" ry="30"/>
</g>
<g filter="url(#b1)">
<g fill="#525258">
<path d="M77.5,21.3L89.5,-3.7L66.5,-12.3L54.5,12.7Z"/>
<path d="M556.5,20.4L564.5,-4.6L543.5,-11.4L535.5,13.6Z"/>
<path d="M1037.0,16.6L1036.0,-8.4L1014.0,-7.6L1015.0,17.4Z"/>
<path d="M1518.9,13.4L1509.9,-11.6L1488.1,-4.4L1497.1,20.6Z"/>
<path d="M150.0,76.0L222.0,76.0L228.2,76.3L233.6,77.1L238.1,78.3L241.8,79.8L244.9,81.5L247.4,83.5L249.3,85.7L250.9,88.0L252.0,90.6L252.6,93.4L252.8,96.4L252.5,99.5L251.7,102.7L250.4,105.9L248.5,109.2L246.3,112.1L243.8,114.8L240.8,117.3L237.4,119.8L233.5,122.3L229.3,124.7L224.7,127.2L219.7,129.8L214.6,132.6L209.2,135.5L203.8,138.7L198.2,142.3L192.7,146.2L187.3,150.6L182.1,155.5L177.2,161.0L172.6,167.0L193.4,177.0L196.9,172.3L200.7,168.2L204.7,164.4L208.9,161.0L213.3,157.8L217.9,154.9L222.7,152.1L227.6,149.4L232.6,146.7L237.6,144.1L242.6,141.3L247.6,138.4L252.5,135.3L257.3,131.8L261.8,128.0L265.9,123.6L269.5,118.8L272.6,113.5L274.8,108.0L276.2,102.4L276.8,96.7L276.4,91.0L275.1,85.4L272.9,80.0L269.6,74.9L265.3,70.2L260.1,66.0L253.9,62.5L247.0,59.7L239.3,57.6L231.0,56.4L222.0,56.0L150.0,56.0Z"/>
<path d="M410.0,57.0L335.0,57.0L326.2,57.4L318.0,58.5L310.3,60.4L303.2,62.9L296.7,66.0L291.0,69.8L286.1,74.1L282.0,78.8L278.7,83.8L276.3,89.2L274.8,94.7L274.2,100.4L274.5,106.2L275.7,111.9L277.6,117.2L279.8,122.3L282.5,127.2L285.4,131.7L288.5,136.0L291.7,140.0L294.9,144.1L298.2,148.2L301.5,152.6L304.8,157.4L308.1,162.7L311.5,168.7L314.8,175.5L337.2,168.5L333.5,160.7L329.6,153.8L325.8,147.7L322.0,142.2L318.3,137.3L314.8,132.9L311.6,128.9L308.7,125.2L306.2,121.7L303.9,118.3L302.1,114.8L300.4,110.8L299.0,107.2L298.4,104.0L298.2,100.9L298.5,97.8L299.3,94.9L300.6,92.1L302.3,89.4L304.5,86.9L307.1,84.6L310.3,82.5L314.0,80.7L318.3,79.2L323.2,78.0L328.8,77.3L335.0,77.0L410.0,77.0Z"/>
<path d="M655.0,74.0L722.0,74.0L727.9,74.3L733.2,75.0L737.9,76.1L742.0,77.6L745.6,79.4L748.6,81.4L751.3,83.6L753.4,86.1L755.2,88.7L756.5,91.4L757.4,94.2L757.8,97.1L757.8,100.1L757.4,103.0L756.5,105.9L755.2,108.6L752.9,111.9L750.2,115.1L747.1,118.1L743.7,121.0L739.9,123.9L735.8,126.9L731.4,129.9L726.9,133.2L722.2,136.8L717.4,140.7L712.8,145.1L708.2,150.0L704.0,155.6L700.1,161.7L696.7,168.6L719.3,175.4L721.9,170.2L724.8,165.6L727.9,161.5L731.3,157.9L734.9,154.5L738.7,151.3L742.7,148.2L747.0,145.2L751.3,142.1L755.8,138.9L760.3,135.5L764.8,131.7L769.1,127.5L773.1,122.8L776.8,117.4L779.3,112.1L781.0,106.7L781.8,101.3L781.8,95.8L780.9,90.4L779.3,85.1L776.8,80.0L773.6,75.2L769.5,70.7L764.7,66.5L759.1,62.9L752.9,59.8L746.0,57.3L738.5,55.5L730.5,54.4L722.0,54.0L655.0,54.0Z"/>
<path d="M916.0,54.0L840.0,54.0L830.9,54.4L822.5,55.7L814.6,57.8L807.5,60.6L801.1,64.1L795.5,68.1L790.7,72.7L786.8,77.6L783.7,82.9L781.5,88.3L780.1,93.9L779.5,99.6L779.7,105.3L780.8,110.9L782.7,116.4L785.5,121.8L789.0,126.8L792.9,131.2L797.1,135.3L801.5,139.0L805.9,142.6L810.4,146.1L814.9,149.6L819.3,153.2L823.6,157.1L827.8,161.2L831.8,165.7L835.6,170.7L839.2,176.4L860.8,167.6L856.4,160.7L851.6,154.4L846.6,148.8L841.6,143.8L836.5,139.3L831.6,135.2L826.8,131.4L822.4,128.0L818.3,124.7L814.7,121.7L811.6,118.7L809.0,115.7L806.9,112.8L805.3,109.6L804.2,106.6L803.6,103.3L803.5,100.1L803.8,96.8L804.6,93.6L805.9,90.5L807.6,87.5L809.8,84.8L812.4,82.3L815.5,80.0L819.2,78.0L823.4,76.4L828.2,75.1L833.7,74.3L840.0,74.0L916.0,74.0Z"/>
<path d="M1155.0,74.0L1222.0,74.0L1228.0,74.3L1233.4,75.0L1238.4,76.2L1242.9,77.7L1246.8,79.6L1250.4,81.7L1253.4,84.1L1256.0,86.6L1258.1,89.3L1259.8,92.1L1261.0,95.0L1261.7,97.9L1262.0,100.8L1261.8,103.6L1261.1,106.3L1260.0,109.0L1257.2,113.9L1254.2,118.4L1251.0,122.7L1247.6,126.8L1244.1,131.1L1240.5,135.5L1236.9,140.2L1233.5,145.2L1230.4,150.7L1227.7,156.8L1225.6,163.5L1224.1,170.8L1247.9,173.2L1249.0,167.7L1250.6,162.9L1252.5,158.5L1254.8,154.4L1257.5,150.5L1260.5,146.5L1263.8,142.5L1267.4,138.2L1271.1,133.6L1274.8,128.6L1278.5,123.1L1282.0,117.0L1284.3,111.6L1285.6,106.1L1286.0,100.6L1285.5,95.1L1284.1,89.7L1281.9,84.4L1279.0,79.4L1275.2,74.6L1270.8,70.2L1265.6,66.2L1259.8,62.7L1253.3,59.7L1246.2,57.3L1238.6,55.5L1230.5,54.4L1222.0,54.0L1155.0,54.0Z"/>
<path d="M1415.0,54.0L1350.0,54.0L1341.5,54.4L1333.4,55.5L1325.8,57.3L1318.8,59.7L1312.4,62.7L1306.6,66.3L1301.4,70.3L1297.0,74.6L1293.3,79.3L1290.3,84.3L1288.0,89.5L1286.6,94.8L1285.9,100.2L1286.0,105.7L1286.9,111.1L1288.8,116.5L1291.9,121.9L1295.7,126.5L1300.0,130.6L1304.6,134.3L1309.5,137.5L1314.5,140.5L1319.5,143.4L1324.5,146.1L1329.5,148.8L1334.3,151.6L1339.0,154.4L1343.3,157.4L1347.4,160.5L1351.1,163.9L1354.4,167.5L1357.4,171.5L1359.9,175.8L1382.1,168.2L1378.4,161.8L1374.1,156.1L1369.4,151.0L1364.3,146.4L1359.0,142.3L1353.6,138.6L1348.2,135.3L1342.8,132.2L1337.7,129.4L1332.7,126.7L1328.1,124.1L1324.0,121.6L1320.3,119.1L1317.2,116.7L1314.6,114.3L1312.6,111.8L1311.2,109.5L1310.4,106.9L1309.9,104.1L1309.8,101.1L1310.2,98.2L1311.1,95.2L1312.3,92.2L1314.1,89.4L1316.2,86.6L1318.8,84.0L1321.9,81.7L1325.4,79.5L1329.3,77.7L1333.7,76.2L1338.6,75.0L1344.0,74.3L1350.0,74.0L1415.0,74.0Z"/>
<path d="M1665.0,74.0L1720.0,74.0L1726.1,74.2L1731.9,74.9L1737.4,76.0L1742.4,77.5L1747.1,79.3L1751.4,81.4L1755.2,83.7L1758.6,86.3L1761.5,89.1L1763.9,92.1L1765.8,95.2L1767.2,98.4L1768.2,101.6L1791.8,98.4L1790.2,92.6L1787.7,87.0L1784.5,81.8L1780.5,76.9L1775.8,72.4L1770.5,68.3L1764.7,64.7L1758.3,61.6L1751.4,58.9L1744.1,56.8L1736.4,55.3L1728.4,54.3L1720.0,54.0L1665.0,54.0Z"/>
<path d="M1760.7,131.6L1744.7,168.6L1767.3,175.4L1783.3,138.4Z"/>
<path d="M6.2,96.6L-20.8,164.6L4.8,171.4L31.8,103.4Z"/>
<path d="M59.6,96.7L35.3,161.0L10.9,225.3L-13.4,289.6L13.4,296.4L37.1,232.0L60.7,167.7L84.4,103.3Z"/>
<path d="M519.8,97.8L504.9,159.5L490.1,221.2L475.3,282.9L498.7,287.1L513.2,225.5L527.7,163.9L542.2,102.2Z"/>
<path d="M1023.5,100.8L1028.9,162.5L1034.2,224.2L1039.5,285.8L1062.5,284.2L1057.1,222.5L1051.8,160.8L1046.5,99.2Z"/>
<path d="M1534.3,103.1L1555.8,164.7L1577.3,226.4L1598.8,288.0L1625.2,282.0L1602.7,220.3L1580.2,158.6L1557.7,96.9Z"/>
<path d="M571.6,98.3L560.8,159.3L549.9,220.3L539.0,281.3L537.8,287.0L536.4,292.1L534.8,296.4L533.0,300.1L530.9,303.4L528.4,306.5L525.4,309.4L521.7,312.4L517.1,315.5L511.5,318.7L504.3,322.8L497.5,326.8L491.1,330.9L485.1,335.0L479.5,339.1L474.3,343.4L469.6,347.7L465.2,352.1L461.3,356.8L457.9,361.6L455.0,366.5L452.7,371.7L450.9,377.0L449.8,382.5L449.3,388.1L449.4,393.8L450.4,401.2L452.1,408.0L454.5,414.5L457.5,420.4L461.3,425.9L465.6,430.8L470.5,435.2L475.8,439.0L481.6,442.2L487.7,444.9L494.1,447.1L500.7,448.7L507.5,450.0L514.4,450.8L521.5,451.2L531.1,451.4L540.1,451.2L548.6,450.5L556.5,449.5L563.9,448.0L570.8,446.2L577.2,444.1L583.2,441.7L588.8,439.0L594.0,436.1L598.9,433.1L603.4,429.9L607.6,426.7L611.7,423.5L615.5,420.3L619.2,417.2L622.9,414.4L626.8,412.0L630.6,409.9L634.5,408.2L638.5,406.8L642.7,405.6L647.3,404.6L652.2,403.9L657.6,403.3L663.4,402.9L669.7,402.7L676.6,402.5L684.0,402.5L684.0,379.5L676.2,379.6L668.8,379.7L661.7,380.0L654.8,380.5L648.2,381.3L641.7,382.3L635.4,383.6L629.2,385.4L623.2,387.5L617.4,390.1L611.8,393.2L606.3,396.7L600.8,400.8L597.0,404.1L593.4,407.1L589.9,410.0L586.3,412.7L582.7,415.2L579.1,417.5L575.3,419.6L571.3,421.6L567.0,423.3L562.3,424.9L557.2,426.2L551.6,427.3L545.4,428.2L538.5,428.7L530.9,428.9L522.5,428.8L517.0,428.5L511.7,427.9L506.8,427.0L502.3,425.9L498.1,424.5L494.2,422.8L490.8,420.9L487.6,418.7L484.8,416.2L482.3,413.4L480.1,410.2L478.2,406.5L476.6,402.3L475.4,397.5L474.6,392.2L474.5,388.7L474.8,385.3L475.4,382.0L476.5,378.8L477.9,375.6L479.7,372.4L482.0,369.2L484.8,365.9L488.0,362.5L491.8,359.1L496.0,355.6L500.7,352.0L506.0,348.4L511.7,344.8L517.9,341.0L524.5,337.3L531.2,333.3L537.3,329.2L542.7,324.8L547.5,320.1L551.6,315.1L555.0,309.7L557.7,303.9L559.9,297.9L561.6,291.5L563.0,284.7L573.4,223.7L583.9,162.7L594.4,101.7Z"/>
<path d="M1080.6,101.1L1087.3,162.1L1094.1,223.1L1100.9,284.1L1101.4,291.4L1101.1,297.6L1100.1,302.9L1098.6,307.5L1096.7,311.4L1094.3,315.0L1091.6,318.2L1088.5,321.1L1085.1,323.9L1081.4,326.6L1077.8,329.1L1071.2,333.5L1065.2,338.2L1059.9,343.3L1055.3,348.7L1051.5,354.4L1048.4,360.4L1046.2,366.6L1044.7,372.9L1043.9,379.3L1043.9,385.8L1044.5,392.3L1045.5,398.6L1047.1,404.8L1049.2,410.6L1051.8,416.1L1055.0,421.3L1058.7,426.1L1062.9,430.5L1067.6,434.5L1072.7,438.1L1078.2,441.2L1084.1,443.9L1090.2,446.2L1096.7,448.1L1103.4,449.6L1110.5,450.8L1117.7,451.6L1125.3,452.2L1135.3,452.5L1144.7,452.4L1153.5,451.9L1161.7,451.0L1169.3,449.7L1176.4,448.1L1183.0,446.1L1189.2,443.9L1194.8,441.4L1200.1,438.6L1204.9,435.7L1209.3,432.7L1213.3,429.6L1217.1,426.5L1220.5,423.4L1223.8,420.4L1226.9,417.5L1229.8,414.7L1232.7,412.3L1235.5,410.4L1238.4,408.9L1241.5,407.7L1245.1,406.7L1249.2,405.9L1254.1,405.3L1259.6,404.9L1265.9,404.6L1273.1,404.5L1281.0,404.5L1281.0,381.5L1272.8,381.5L1265.1,381.7L1257.8,382.0L1250.9,382.6L1244.4,383.4L1238.0,384.7L1231.8,386.4L1225.9,388.7L1220.3,391.7L1215.1,395.2L1210.2,399.3L1207.1,402.3L1204.2,405.1L1201.2,407.9L1198.3,410.5L1195.3,413.0L1192.2,415.4L1189.0,417.6L1185.6,419.7L1181.9,421.6L1177.9,423.4L1173.6,425.1L1168.8,426.5L1163.4,427.7L1157.5,428.8L1150.9,429.5L1143.6,430.0L1135.6,430.1L1126.7,429.8L1120.5,429.4L1114.6,428.7L1109.1,427.8L1104.0,426.7L1099.3,425.3L1095.0,423.7L1091.1,422.0L1087.5,420.0L1084.4,417.8L1081.5,415.4L1079.0,412.7L1076.7,409.8L1074.7,406.6L1072.9,403.0L1071.5,399.0L1070.3,394.6L1069.5,389.7L1069.0,384.9L1069.0,380.4L1069.5,376.1L1070.4,372.1L1071.8,368.2L1073.7,364.5L1076.1,360.9L1079.0,357.3L1082.6,353.8L1087.0,350.4L1092.2,346.9L1096.8,343.7L1101.4,340.4L1106.0,336.5L1110.5,332.1L1114.7,327.0L1118.5,321.3L1121.7,314.8L1124.0,307.6L1125.4,299.7L1125.8,291.1L1125.1,281.9L1117.9,220.9L1110.7,159.9L1103.4,98.9Z"/>
<path d="M1588.6,103.2L1614.7,169.3L1640.7,235.3L1666.7,301.4L1668.3,306.6L1668.7,310.9L1668.4,314.5L1667.4,317.5L1665.9,320.4L1663.8,323.1L1661.0,325.9L1657.7,328.7L1654.0,331.5L1649.8,334.5L1645.6,337.5L1639.3,342.8L1634.2,348.9L1630.5,355.4L1628.1,362.3L1626.9,369.2L1626.6,376.2L1627.2,383.1L1628.6,389.8L1630.8,396.4L1633.8,402.7L1637.4,408.6L1640.6,412.9L1644.2,416.9L1648.1,420.7L1652.3,424.3L1656.8,427.6L1661.6,430.7L1666.7,433.5L1672.0,436.2L1677.5,438.6L1683.2,440.8L1689.1,442.8L1695.2,444.6L1701.5,446.2L1707.9,447.7L1714.5,449.1L1721.2,450.2L1728.1,451.3L1735.1,452.2L1742.2,452.9L1749.5,453.6L1756.9,454.1L1764.4,454.5L1772.0,454.8L1779.7,455.0L1780.3,431.0L1773.1,430.9L1766.0,430.6L1759.1,430.3L1752.3,429.8L1745.7,429.3L1739.3,428.7L1733.0,427.9L1726.9,427.0L1721.1,426.0L1715.4,424.9L1710.0,423.7L1704.8,422.4L1699.9,421.0L1695.2,419.4L1690.7,417.7L1686.5,415.9L1682.6,414.0L1679.0,412.0L1675.6,409.9L1672.5,407.6L1669.7,405.3L1667.1,402.8L1664.7,400.2L1662.6,397.4L1660.2,393.5L1658.2,389.3L1656.6,384.8L1655.6,380.2L1655.2,375.6L1655.3,371.1L1656.0,366.9L1657.3,363.1L1659.1,359.8L1661.4,357.0L1664.4,354.5L1668.6,351.5L1673.0,348.3L1677.6,344.7L1682.3,340.7L1686.8,336.1L1690.8,330.8L1693.9,324.7L1696.0,318.0L1696.6,310.7L1695.7,302.9L1693.3,294.6L1666.6,228.7L1640.0,162.7L1613.4,96.8Z"/>
<path d="M444.4,579.4L449.2,549.5L450.2,544.7L451.3,539.9L452.6,535.0L454.1,530.2L455.8,525.5L457.7,521.0L459.8,516.5L462.0,512.2L464.5,508.1L467.1,504.2L469.9,500.5L472.9,497.0L476.0,493.8L479.3,490.9L482.7,488.3L486.3,485.9L490.0,483.9L493.9,482.1L498.0,480.6L502.3,479.4L506.8,478.5L511.6,477.9L517.9,477.7L523.9,477.8L529.5,478.2L534.6,478.9L539.3,479.9L543.8,481.1L548.1,482.6L552.3,484.3L556.4,486.2L560.5,488.4L564.5,490.7L568.5,493.3L572.6,496.0L576.7,498.9L581.0,501.8L585.4,504.9L589.9,508.0L595.5,511.7L601.4,515.1L607.5,518.1L613.8,520.7L620.2,522.9L626.8,524.7L633.5,526.2L640.4,527.3L647.5,528.1L654.7,528.6L662.2,528.9L670.0,529.0L670.0,505.0L663.2,504.9L656.8,504.7L651.0,504.2L645.5,503.6L640.5,502.8L635.7,501.8L631.3,500.6L627.0,499.1L622.8,497.3L618.6,495.3L614.5,492.9L610.1,490.0L605.9,487.0L601.7,484.1L597.4,481.0L593.0,478.0L588.4,474.9L583.7,471.9L578.7,468.9L573.4,466.1L567.8,463.5L561.8,461.0L555.4,458.8L548.6,457.0L541.4,455.5L533.9,454.5L525.9,453.8L517.4,453.7L508.4,454.1L500.4,455.0L492.8,456.5L485.6,458.5L478.8,461.0L472.3,463.9L466.3,467.2L460.8,470.8L455.6,474.7L450.8,478.9L446.4,483.4L442.4,488.0L438.7,492.9L435.3,497.8L432.2,503.0L429.4,508.2L426.9,513.5L424.6,518.9L422.6,524.4L420.8,529.9L419.3,535.4L417.9,540.9L416.8,546.5L411.6,576.6Z"/>
<path d="M1089.5,578.0L1089.3,530.0L1089.4,524.1L1090.0,518.5L1090.8,513.3L1092.0,508.5L1093.5,504.1L1095.3,500.0L1097.3,496.4L1099.6,493.1L1102.1,490.2L1104.7,487.7L1107.6,485.4L1110.7,483.4L1114.1,481.7L1117.8,480.3L1121.7,479.1L1126.1,478.1L1130.9,477.4L1136.0,477.0L1143.0,476.8L1149.2,477.1L1154.7,477.7L1159.7,478.6L1164.2,479.7L1168.4,481.2L1172.4,482.8L1176.4,484.7L1180.3,486.9L1184.3,489.4L1188.5,492.1L1192.8,495.0L1197.4,498.1L1202.3,501.2L1207.7,504.6L1214.4,508.2L1220.9,511.5L1227.4,514.4L1233.9,517.0L1240.4,519.3L1247.0,521.3L1253.6,523.0L1260.3,524.4L1267.1,525.6L1273.9,526.5L1280.7,527.2L1287.7,527.7L1294.8,527.9L1302.0,528.0L1302.0,504.0L1295.7,503.9L1289.7,503.7L1283.8,503.3L1278.2,502.8L1272.8,502.0L1267.5,501.1L1262.4,500.0L1257.3,498.7L1252.2,497.1L1247.1,495.3L1242.0,493.3L1236.8,490.9L1231.5,488.3L1226.3,485.4L1221.9,482.7L1217.6,479.8L1213.2,476.9L1208.7,473.9L1204.0,470.8L1199.1,467.8L1193.9,464.9L1188.2,462.1L1182.1,459.6L1175.5,457.4L1168.3,455.5L1160.6,454.1L1152.3,453.2L1143.5,452.8L1134.0,453.0L1126.1,453.7L1118.6,454.8L1111.3,456.4L1104.3,458.5L1097.7,461.1L1091.5,464.3L1085.8,467.8L1080.6,471.9L1075.9,476.3L1071.8,481.1L1068.2,486.2L1065.1,491.6L1062.5,497.3L1060.4,503.3L1058.8,509.6L1057.7,516.1L1057.0,522.9L1056.7,530.0L1056.5,578.0Z"/>
<path d="M1739.2,575.8L1725.7,524.7L1724.4,519.4L1723.6,514.4L1723.3,509.8L1723.4,505.6L1723.9,501.7L1724.9,498.4L1726.1,495.4L1727.7,492.9L1729.5,490.8L1731.6,488.9L1734.2,487.3L1737.4,485.8L1741.2,484.6L1745.9,483.6L1751.4,482.9L1781.2,481.0L1778.8,457.0L1748.6,459.1L1739.6,460.1L1731.3,461.9L1723.6,464.3L1716.6,467.6L1710.3,471.5L1704.9,476.0L1700.5,481.0L1697.0,486.4L1694.5,492.0L1692.8,497.9L1691.9,503.9L1691.6,510.1L1691.9,516.4L1692.8,522.8L1694.3,529.3L1706.8,580.2Z"/>
<path d="M-4.6,438.6L-0.9,435.5L2.9,432.5L6.7,429.6L10.7,426.8L14.8,424.2L19.0,421.6L23.4,419.3L27.9,417.1L32.6,415.1L37.6,413.2L42.8,411.5L48.3,410.0L54.0,408.8L60.1,407.7L66.5,406.9L73.2,406.3L80.3,406.0L79.7,382.0L71.3,382.4L63.2,383.0L55.5,384.0L48.1,385.3L41.0,386.9L34.2,388.8L27.7,390.9L21.5,393.2L15.6,395.7L9.9,398.5L4.5,401.4L-0.7,404.5L-5.6,407.7L-10.4,411.0L-14.9,414.4L-19.2,417.9L-23.4,421.4Z"/>
<path d="M-11.6,532.5L26.4,531.5L25.6,504.5L-12.4,505.5Z"/>
<path d="M-30.8,666.2L-25.9,667.7L-21.1,669.4L-16.4,671.3L-11.9,673.5L-7.6,675.9L-3.6,678.4L0.1,681.1L3.4,684.0L6.3,686.9L8.8,689.9L10.8,693.0L12.4,696.2L13.6,699.3L14.3,702.6L14.5,706.0L14.3,710.4L13.7,714.5L12.7,718.6L11.3,722.5L9.6,726.3L7.4,730.2L4.9,734.0L2.1,737.7L-1.2,741.5L-4.9,745.3L-8.9,749.2L-13.3,753.0L-18.0,756.8L-23.0,760.7L-28.3,764.6L-34.0,768.6L-10.0,791.4L-3.9,787.1L2.1,782.8L7.9,778.3L13.4,773.8L18.8,769.1L23.8,764.3L28.5,759.4L32.9,754.3L37.0,748.9L40.6,743.4L43.8,737.7L46.5,731.8L48.6,725.6L50.2,719.3L51.2,712.7L51.5,706.0L51.0,699.1L49.6,692.5L47.3,686.2L44.2,680.2L40.5,674.5L36.2,669.2L31.3,664.3L26.0,659.7L20.3,655.5L14.3,651.7L8.0,648.2L1.5,645.0L-5.3,642.3L-12.2,639.8L-19.2,637.8Z"/>
<path d="M240.0,637.0L165.0,636.8L157.1,637.0L149.3,637.5L141.7,638.5L134.3,639.7L127.1,641.4L120.1,643.4L113.4,645.7L106.9,648.3L100.7,651.2L94.8,654.4L89.1,657.9L83.7,661.6L78.6,665.6L73.8,669.7L69.3,674.2L65.2,678.8L61.3,683.6L57.8,688.5L54.6,693.7L51.8,698.9L49.4,704.4L47.2,709.9L45.5,715.6L44.1,721.3L43.1,727.2L42.5,733.0L42.3,740.5L42.8,747.8L44.0,754.9L45.7,761.7L47.9,768.1L50.5,774.3L53.3,780.2L56.3,785.9L59.4,791.3L62.5,796.5L65.5,801.6L68.4,806.5L71.2,811.3L73.6,815.9L75.8,820.3L77.6,824.7L79.0,828.8L80.3,833.8L81.5,838.5L82.4,843.0L83.2,847.3L83.7,851.5L84.2,856.0L84.4,860.7L84.5,866.0L121.5,866.0L121.4,859.8L121.1,853.9L120.6,848.4L119.8,843.0L118.9,837.7L117.8,832.4L116.5,827.1L115.0,821.2L112.8,814.8L110.3,808.8L107.5,803.1L104.6,797.6L101.5,792.3L98.5,787.2L95.4,782.2L92.5,777.3L89.8,772.5L87.3,767.8L85.1,763.1L83.2,758.5L81.6,753.9L80.4,749.3L79.6,744.7L79.3,740.0L79.5,735.0L79.9,730.7L80.6,726.6L81.6,722.5L82.8,718.6L84.3,714.7L86.0,710.8L88.0,707.1L90.2,703.5L92.7,700.0L95.3,696.7L98.2,693.4L101.3,690.4L104.7,687.4L108.2,684.7L111.9,682.1L115.8,679.7L119.9,677.5L124.2,675.4L128.7,673.6L133.3,672.0L138.1,670.6L143.2,669.4L148.3,668.5L153.7,667.8L159.3,667.4L165.0,667.2L240.0,667.0Z"/>
<path d="M570.0,667.0L655.0,667.2L659.7,667.4L664.1,667.9L668.3,668.6L672.3,669.7L676.1,670.9L679.7,672.5L683.1,674.3L686.3,676.3L689.3,678.6L692.1,681.2L694.8,684.0L697.3,687.2L699.5,690.6L701.5,694.2L703.2,698.2L704.7,702.4L705.9,706.9L706.8,711.7L707.3,716.7L707.5,722.0L707.3,726.4L706.8,730.7L705.9,734.8L704.7,738.7L703.1,742.6L701.3,746.4L699.2,750.1L696.8,753.8L694.2,757.5L691.2,761.1L688.1,764.8L684.7,768.4L681.2,772.1L677.4,775.8L673.6,779.5L669.6,783.2L665.5,787.0L661.4,790.8L657.3,794.7L653.1,798.7L649.0,802.8L645.0,807.0L641.0,811.3L637.2,815.8L633.5,820.5L630.1,825.3L626.9,830.4L623.4,837.2L616.9,862.6L653.1,869.4L658.6,846.8L659.9,844.7L662.2,841.2L664.7,837.6L667.5,834.0L670.5,830.4L673.8,826.8L677.3,823.2L681.0,819.5L684.8,815.8L688.7,812.1L692.8,808.3L696.9,804.4L701.1,800.5L705.3,796.5L709.5,792.3L713.6,788.1L717.6,783.7L721.5,779.1L725.3,774.4L728.8,769.5L732.1,764.3L735.2,759.0L737.8,753.4L740.1,747.5L742.0,741.5L743.4,735.2L744.2,728.7L744.5,722.0L744.3,714.9L743.5,708.0L742.3,701.3L740.6,694.8L738.4,688.5L735.7,682.5L732.6,676.7L729.0,671.3L724.9,666.1L720.4,661.3L715.4,656.8L710.0,652.8L704.2,649.1L698.1,645.9L691.5,643.1L684.7,640.8L677.6,639.1L670.3,637.8L662.7,637.0L655.0,636.8L570.0,637.0Z"/>
<path d="M927.0,639.0L845.0,638.8L837.3,639.0L829.9,639.6L822.6,640.6L815.5,642.0L808.6,643.8L802.0,646.1L795.7,648.7L789.6,651.7L783.9,655.0L778.5,658.7L773.4,662.7L768.7,667.0L764.4,671.6L760.5,676.5L756.9,681.6L753.8,687.0L751.1,692.6L748.8,698.4L746.9,704.4L745.4,710.5L744.4,716.9L743.7,723.4L743.5,730.0L743.8,737.2L744.7,744.2L746.2,750.9L748.2,757.2L750.6,763.3L753.5,769.1L756.6,774.6L760.0,779.8L763.7,784.7L767.5,789.5L771.3,794.0L775.3,798.3L779.2,802.5L783.1,806.5L786.9,810.4L790.6,814.2L794.1,817.9L797.4,821.6L800.5,825.2L803.4,828.7L806.0,832.2L808.2,835.7L810.2,839.2L811.9,842.7L812.8,845.0L815.6,867.7L852.4,864.3L849.2,839.0L846.6,831.8L844.0,826.3L841.0,821.0L837.8,816.0L834.3,811.2L830.6,806.7L826.8,802.4L823.0,798.2L819.1,794.1L815.3,790.2L811.5,786.3L807.8,782.5L804.3,778.7L800.9,775.0L797.6,771.3L794.6,767.6L791.9,763.8L789.4,760.0L787.2,756.2L785.2,752.2L783.6,748.2L782.3,744.0L781.3,739.6L780.7,734.9L780.5,730.0L780.7,725.1L781.1,720.3L781.9,715.8L782.9,711.4L784.2,707.2L785.8,703.3L787.6,699.6L789.7,696.1L791.9,692.8L794.4,689.7L797.1,686.8L799.9,684.1L803.0,681.7L806.3,679.4L809.7,677.4L813.4,675.6L817.3,674.0L821.3,672.6L825.6,671.4L830.1,670.5L834.8,669.8L839.8,669.4L845.0,669.2L927.0,669.0Z"/>
<path d="M1248.0,667.0L1335.0,667.2L1340.2,667.4L1345.0,667.9L1349.7,668.6L1354.0,669.6L1358.2,670.8L1362.1,672.2L1365.9,673.9L1369.5,675.8L1372.9,677.9L1376.1,680.2L1379.2,682.8L1382.1,685.6L1384.8,688.5L1387.3,691.7L1389.7,695.1L1391.9,698.6L1393.8,702.4L1395.6,706.2L1397.1,710.3L1398.4,714.5L1399.5,718.8L1400.4,723.2L1401.0,727.7L1401.4,732.3L1401.5,737.0L1401.3,741.8L1400.7,746.3L1399.7,750.6L1398.4,754.7L1396.7,758.7L1394.7,762.7L1392.5,766.6L1390.0,770.5L1387.2,774.5L1384.2,778.5L1381.0,782.5L1377.7,786.7L1374.3,791.0L1370.8,795.4L1367.3,799.9L1363.9,804.7L1360.5,809.7L1357.4,814.9L1354.4,820.5L1351.8,826.3L1349.6,832.5L1347.7,839.9L1345.5,864.8L1382.5,867.2L1384.3,844.1L1385.3,840.8L1386.8,836.8L1388.5,832.8L1390.6,828.8L1393.0,824.9L1395.6,820.9L1398.5,817.0L1401.6,812.9L1404.9,808.8L1408.2,804.5L1411.7,800.2L1415.2,795.7L1418.7,791.0L1422.1,786.1L1425.4,781.0L1428.5,775.6L1431.3,770.0L1433.7,764.0L1435.7,757.7L1437.2,751.1L1438.2,744.2L1438.5,737.0L1438.3,730.9L1437.8,724.9L1437.0,718.9L1435.9,713.1L1434.4,707.3L1432.6,701.6L1430.5,696.0L1428.1,690.6L1425.3,685.3L1422.1,680.2L1418.7,675.3L1414.8,670.5L1410.7,666.0L1406.1,661.7L1401.3,657.7L1396.0,653.9L1390.4,650.5L1384.5,647.4L1378.3,644.6L1371.7,642.3L1364.9,640.3L1357.8,638.8L1350.4,637.6L1342.8,637.0L1335.0,636.8L1248.0,637.0Z"/>
<path d="M1602.0,637.0L1510.0,636.8L1502.2,637.1L1494.6,638.0L1487.3,639.6L1480.3,641.8L1473.8,644.6L1467.8,647.9L1462.2,651.7L1457.1,655.9L1452.6,660.4L1448.5,665.3L1444.9,670.4L1441.8,675.8L1439.0,681.4L1436.7,687.2L1434.8,693.1L1433.3,699.2L1432.1,705.5L1431.3,711.9L1430.9,718.4L1430.8,725.0L1431.0,731.7L1431.6,738.6L1432.8,744.9L1434.7,750.8L1437.2,756.4L1440.3,761.7L1443.8,766.7L1447.7,771.4L1451.9,775.9L1456.3,780.2L1461.0,784.2L1465.9,788.1L1470.9,791.8L1475.9,795.4L1481.1,798.9L1486.3,802.3L1491.5,805.6L1496.7,808.9L1501.7,812.1L1506.7,815.3L1511.6,818.4L1516.3,821.6L1520.8,824.7L1525.0,827.8L1528.9,830.9L1532.6,834.0L1535.9,837.0L1538.8,840.0L1541.4,843.0L1543.5,845.9L1544.4,846.8L1548.8,868.8L1585.2,863.2L1579.6,837.2L1575.5,829.9L1571.9,825.0L1567.9,820.3L1563.6,815.9L1559.0,811.8L1554.3,807.8L1549.4,804.0L1544.4,800.3L1539.3,796.8L1534.1,793.4L1528.9,790.0L1523.8,786.8L1518.6,783.5L1513.6,780.4L1508.6,777.2L1503.9,774.1L1499.2,771.0L1494.9,767.9L1490.7,764.9L1486.9,761.8L1483.3,758.8L1480.2,755.8L1477.3,752.8L1474.9,749.8L1472.9,746.9L1471.2,744.0L1469.9,741.2L1469.0,738.3L1468.4,735.4L1467.9,730.1L1467.8,724.7L1467.8,719.5L1468.2,714.4L1468.8,709.5L1469.7,704.8L1470.8,700.3L1472.2,696.0L1473.8,692.0L1475.6,688.3L1477.6,684.9L1479.7,681.7L1482.1,679.0L1484.5,676.5L1487.1,674.4L1489.8,672.5L1492.6,671.0L1495.5,669.7L1498.7,668.7L1502.1,667.9L1505.9,667.4L1510.0,667.2L1602.0,667.0Z"/>
<path d="M380.8,717.5L367.5,777.1L354.3,836.7L341.0,896.4L327.8,956.0L314.5,1015.7L301.3,1075.3L336.7,1080.7L349.5,1021.0L362.2,961.3L375.0,901.6L387.7,841.9L400.5,782.2L413.2,722.5Z"/>
<path d="M454.2,718.1L442.0,784.0L429.9,849.9L417.8,915.9L405.7,981.8L393.5,1047.9L392.4,1054.5L391.3,1060.9L390.1,1067.2L388.9,1073.3L387.7,1079.3L386.3,1085.1L384.9,1090.8L383.5,1096.3L381.9,1101.6L380.2,1106.8L378.4,1111.7L376.5,1116.4L374.5,1121.0L372.3,1125.3L370.0,1129.4L367.6,1133.3L365.1,1137.0L363.4,1139.2L291.5,1201.5L328.5,1226.5L400.6,1160.8L405.4,1154.5L408.8,1149.3L411.9,1144.0L414.8,1138.5L417.4,1132.9L419.7,1127.3L421.9,1121.5L423.8,1115.6L425.6,1109.6L427.3,1103.6L428.7,1097.4L430.1,1091.1L431.4,1084.8L432.5,1078.4L433.6,1071.9L434.6,1065.4L435.6,1058.7L436.5,1052.1L446.7,986.2L457.0,920.1L467.3,854.1L477.6,788.0L487.8,721.9Z"/>
<path d="M1071.5,721.0L1076.5,781.0L1081.4,841.0L1086.3,901.0L1091.2,961.1L1096.1,1021.1L1101.0,1081.1L1137.0,1078.9L1131.5,1018.9L1126.1,958.9L1120.7,899.0L1115.3,839.0L1109.9,779.0L1104.5,719.0Z"/>
<path d="M1145.6,721.3L1153.6,795.4L1161.6,869.4L1169.7,943.4L1177.7,1017.5L1186.9,1096.6L1187.3,1102.7L1187.2,1108.5L1186.6,1113.8L1185.7,1118.8L1184.4,1123.4L1182.8,1127.8L1180.9,1131.9L1178.8,1135.9L1176.4,1139.8L1173.8,1143.6L1170.9,1147.3L1167.9,1151.1L1164.8,1154.8L1161.2,1159.2L1128.3,1204.5L1167.7,1221.5L1198.8,1176.8L1201.7,1173.4L1205.0,1169.2L1208.4,1164.7L1211.9,1160.0L1215.2,1154.9L1218.4,1149.6L1221.3,1143.8L1224.0,1137.8L1226.2,1131.3L1227.9,1124.5L1229.2,1117.3L1229.8,1109.8L1229.8,1101.8L1229.1,1093.4L1218.3,1014.5L1208.8,940.6L1199.4,866.6L1189.9,792.6L1180.4,718.7Z"/>
</g>
<g fill="#5e5e66">
<path d="M75.6,20.6L87.6,-4.4L66.5,-12.3L54.5,12.7Z"/>
<path d="M554.8,19.8L562.8,-5.2L543.5,-11.4L535.5,13.6Z"/>
<path d="M1035.3,16.6L1034.3,-8.4L1014.0,-7.6L1015.0,17.4Z"/>
<path d="M1517.3,13.9L1508.3,-11.1L1488.2,-4.4L1497.2,20.6Z"/>
<path d="M150.0,74.1L222.0,74.1L228.5,74.4L234.1,75.4L238.8,76.8L242.6,78.7L245.6,80.9L247.8,83.2L249.7,85.5L251.0,88.0L252.0,90.6L252.6,93.4L252.8,96.4L252.5,99.5L251.7,102.7L250.4,105.9L248.5,109.2L246.3,112.1L243.8,114.8L240.8,117.3L237.4,119.8L233.5,122.3L229.3,124.7L224.7,127.2L219.7,129.8L214.6,132.6L209.2,135.5L203.8,138.7L198.2,142.3L192.7,146.2L187.3,150.6L182.1,155.5L177.2,161.0L172.6,167.0L191.6,176.1L195.2,171.3L199.0,167.0L203.1,163.1L207.4,159.6L211.9,156.4L216.6,153.3L221.4,150.5L226.4,147.8L231.3,145.1L236.4,142.5L241.4,139.8L246.3,136.9L251.1,133.9L255.8,130.5L260.1,126.8L264.2,122.6L267.7,118.0L270.7,112.9L272.9,107.6L274.4,102.2L274.9,96.7L274.6,91.2L273.4,85.8L271.4,80.5L268.6,75.4L264.7,70.6L259.8,66.3L253.8,62.7L246.9,59.8L239.3,57.7L231.0,56.5L222.0,56.0L150.0,56.0Z"/>
<path d="M410.0,57.0L335.0,57.0L326.2,57.4L318.0,58.5L310.3,60.4L303.2,62.9L296.7,66.0L291.0,69.8L286.1,74.1L282.0,78.8L278.7,83.8L276.3,89.2L274.8,94.8L274.2,100.4L274.5,106.2L275.8,111.9L277.8,117.2L279.9,122.2L282.7,127.1L285.6,131.6L288.8,135.8L292.0,139.8L295.2,143.9L298.5,148.0L301.8,152.4L305.0,157.2L308.3,162.6L311.6,168.6L314.9,175.5L335.7,169.0L332.0,161.3L328.3,154.4L324.6,148.2L320.9,142.8L317.4,137.9L313.9,133.5L310.7,129.4L307.7,125.8L305.0,122.3L302.6,118.8L300.6,115.3L298.7,111.2L297.3,107.6L296.5,104.2L296.3,100.9L296.6,97.6L297.4,94.4L298.7,91.4L300.5,88.5L302.8,85.8L305.6,83.3L309.0,81.0L313.0,79.0L317.5,77.4L322.7,76.1L328.5,75.3L335.0,75.1L410.0,75.1Z"/>
<path d="M655.0,72.1L722.0,72.1L728.2,72.4L733.7,73.3L738.5,74.6L742.7,76.4L746.3,78.5L749.2,80.9L751.7,83.3L753.7,85.9L755.4,88.6L756.6,91.4L757.4,94.2L757.9,97.1L757.9,100.1L757.4,103.0L756.5,105.9L755.2,108.6L752.9,111.9L750.2,115.1L747.1,118.1L743.7,121.0L739.9,123.9L735.8,126.9L731.4,129.9L726.9,133.2L722.2,136.8L717.4,140.7L712.8,145.1L708.2,150.0L704.0,155.6L700.1,161.7L696.7,168.6L717.4,174.9L720.0,169.5L723.0,164.7L726.1,160.5L729.6,156.7L733.3,153.2L737.2,150.0L741.3,146.8L745.5,143.8L749.9,140.7L754.3,137.5L758.8,134.1L763.2,130.4L767.4,126.4L771.3,121.8L774.9,116.7L777.5,111.6L779.1,106.4L779.9,101.2L779.9,95.9L779.2,90.7L777.7,85.6L775.5,80.6L772.6,75.7L768.9,71.1L764.3,66.9L758.9,63.2L752.8,60.0L746.0,57.4L738.5,55.6L730.5,54.4L722.0,54.0L655.0,54.0Z"/>
<path d="M916.0,54.0L840.0,54.0L830.9,54.5L822.5,55.7L814.6,57.8L807.5,60.6L801.1,64.1L795.5,68.1L790.7,72.7L786.8,77.6L783.7,82.9L781.5,88.3L780.1,93.9L779.5,99.6L779.8,105.3L780.9,110.9L782.8,116.3L785.7,121.7L789.3,126.6L793.3,130.9L797.6,134.9L802.0,138.5L806.5,142.1L811.0,145.6L815.5,149.1L819.8,152.8L824.1,156.7L828.2,160.9L832.1,165.5L835.9,170.6L839.4,176.3L859.5,168.2L855.2,161.2L850.7,154.9L845.9,149.3L841.0,144.2L836.0,139.6L831.1,135.5L826.4,131.8L822.0,128.3L817.9,125.1L814.2,122.1L810.9,119.1L808.1,116.3L805.6,113.3L803.7,110.1L802.5,106.9L801.8,103.5L801.6,100.0L801.9,96.6L802.7,93.2L804.0,89.8L805.8,86.7L808.1,83.7L810.9,81.0L814.2,78.5L818.0,76.4L822.5,74.6L827.6,73.2L833.5,72.4L840.0,72.1L916.0,72.1Z"/>
<path d="M1155.0,72.1L1222.0,72.1L1228.2,72.4L1233.9,73.3L1239.0,74.6L1243.6,76.4L1247.6,78.6L1251.0,81.0L1253.9,83.7L1256.4,86.4L1258.4,89.2L1260.0,92.1L1261.1,95.0L1261.8,97.9L1262.0,100.8L1261.8,103.6L1261.1,106.3L1260.0,109.0L1257.2,113.9L1254.2,118.4L1251.0,122.7L1247.6,126.9L1244.1,131.1L1240.5,135.5L1236.9,140.2L1233.5,145.2L1230.4,150.7L1227.7,156.8L1225.6,163.5L1224.1,170.8L1246.0,173.0L1247.1,167.4L1248.7,162.4L1250.7,157.9L1253.0,153.6L1255.7,149.6L1258.8,145.6L1262.1,141.5L1265.6,137.2L1269.3,132.6L1273.0,127.7L1276.7,122.3L1280.2,116.3L1282.4,111.2L1283.7,105.9L1284.1,100.6L1283.7,95.3L1282.4,90.1L1280.5,84.9L1277.8,79.9L1274.5,75.1L1270.3,70.6L1265.3,66.6L1259.6,63.0L1253.2,59.9L1246.2,57.4L1238.6,55.6L1230.5,54.4L1222.0,54.0L1155.0,54.0Z"/>
<path d="M1415.0,54.0L1350.0,54.0L1341.5,54.4L1333.4,55.5L1325.8,57.3L1318.8,59.7L1312.4,62.7L1306.6,66.3L1301.4,70.3L1297.0,74.6L1293.3,79.3L1290.3,84.3L1288.1,89.5L1286.6,94.8L1285.9,100.2L1286.0,105.7L1287.0,111.1L1288.9,116.5L1292.2,121.8L1296.1,126.3L1300.5,130.2L1305.2,133.7L1310.2,136.8L1315.2,139.7L1320.2,142.4L1325.3,145.2L1330.2,147.9L1335.0,150.7L1339.6,153.7L1343.9,156.8L1347.9,160.1L1351.5,163.6L1354.8,167.3L1357.6,171.3L1360.1,175.8L1380.6,168.7L1377.2,162.4L1373.3,156.6L1368.8,151.4L1363.9,146.7L1358.7,142.6L1353.3,138.9L1347.9,135.5L1342.6,132.5L1337.5,129.6L1332.5,126.9L1327.9,124.4L1323.7,121.9L1320.0,119.5L1316.7,117.1L1313.9,114.7L1311.5,112.4L1309.7,110.0L1308.6,107.2L1308.0,104.2L1308.0,101.1L1308.3,97.9L1309.2,94.7L1310.5,91.6L1312.3,88.5L1314.5,85.5L1317.3,82.8L1320.5,80.2L1324.1,77.9L1328.3,76.0L1332.9,74.3L1338.1,73.1L1343.8,72.3L1350.0,72.1L1415.0,72.1Z"/>
<path d="M1665.0,72.1L1720.0,72.1L1726.3,72.4L1732.3,73.1L1737.9,74.4L1743.1,76.0L1747.9,78.1L1752.1,80.4L1755.8,83.1L1759.1,85.9L1761.9,88.9L1764.2,91.9L1766.0,95.1L1767.3,98.3L1768.2,101.6L1790.0,98.6L1788.5,93.0L1786.3,87.6L1783.4,82.3L1779.8,77.4L1775.3,72.8L1770.2,68.7L1764.5,65.0L1758.1,61.8L1751.3,59.1L1744.1,56.9L1736.4,55.3L1728.3,54.4L1720.0,54.0L1665.0,54.0Z"/>
<path d="M1760.7,131.6L1744.7,168.6L1765.4,174.8L1781.4,137.8Z"/>
<path d="M6.2,96.6L-20.8,164.6L2.7,170.8L29.7,102.8Z"/>
<path d="M59.6,96.7L35.3,161.0L11.0,225.3L-13.4,289.6L11.2,295.8L34.9,231.5L58.6,167.1L82.4,102.8Z"/>
<path d="M519.8,97.8L504.9,159.5L490.1,221.2L475.3,282.9L496.9,286.8L511.4,225.2L525.9,163.5L540.4,101.9Z"/>
<path d="M1023.6,100.8L1028.9,162.5L1034.2,224.2L1039.6,285.8L1060.7,284.3L1055.4,222.6L1050.0,161.0L1044.7,99.3Z"/>
<path d="M1534.4,103.0L1555.9,164.7L1577.4,226.3L1598.9,288.0L1623.3,282.4L1600.9,220.7L1578.4,159.1L1556.0,97.4Z"/>
<path d="M571.7,98.3L560.8,159.3L549.9,220.3L539.0,281.3L537.8,287.0L536.4,292.1L534.8,296.4L533.0,300.1L530.9,303.4L528.4,306.5L525.4,309.5L521.7,312.4L517.1,315.5L511.5,318.7L504.3,322.8L497.5,326.8L491.1,330.9L485.1,335.0L479.5,339.1L474.3,343.4L469.6,347.7L465.2,352.2L461.3,356.8L457.9,361.6L455.0,366.5L452.7,371.7L450.9,377.0L449.8,382.5L449.3,388.1L449.4,393.8L450.5,401.2L452.2,408.0L454.6,414.4L457.8,420.3L461.6,425.7L466.0,430.5L471.0,434.6L476.5,438.1L482.4,441.0L488.5,443.4L494.8,445.3L501.2,446.8L507.9,448.0L514.7,448.7L521.6,449.1L531.1,449.2L540.0,449.0L548.2,448.3L556.0,447.3L563.2,445.9L570.0,444.2L576.2,442.1L582.1,439.7L587.5,437.2L592.6,434.4L597.3,431.4L601.8,428.3L606.0,425.2L610.0,422.0L613.8,418.8L617.5,415.7L621.4,412.8L625.4,410.2L629.4,408.0L633.4,406.2L637.6,404.7L642.0,403.5L646.7,402.5L651.8,401.7L657.3,401.1L663.2,400.7L669.6,400.4L676.5,400.3L684.0,400.3L684.0,379.5L676.2,379.6L668.8,379.8L661.7,380.1L654.8,380.6L648.2,381.3L641.7,382.3L635.4,383.6L629.2,385.4L623.2,387.5L617.4,390.1L611.8,393.2L606.3,396.7L600.8,400.8L597.0,404.1L593.4,407.1L589.9,410.0L586.3,412.7L582.7,415.2L579.1,417.5L575.3,419.6L571.3,421.6L567.0,423.3L562.3,424.9L557.2,426.2L551.6,427.3L545.4,428.2L538.5,428.8L530.9,429.0L522.5,428.8L516.9,428.6L511.7,428.0L506.8,427.1L502.2,426.0L498.0,424.7L494.1,423.1L490.5,421.2L487.2,419.1L484.2,416.7L481.3,414.0L478.7,410.8L476.5,407.0L474.8,402.7L473.5,397.8L472.6,392.3L472.5,388.6L472.8,385.1L473.4,381.6L474.5,378.2L476.0,374.9L477.9,371.5L480.2,368.1L483.0,364.6L486.4,361.1L490.2,357.6L494.5,354.0L499.3,350.4L504.6,346.8L510.3,343.1L516.6,339.3L523.3,335.5L529.9,331.7L535.9,327.7L541.2,323.4L545.8,318.9L549.8,314.1L553.1,308.9L555.8,303.3L558.0,297.4L559.7,291.2L561.1,284.4L571.6,223.4L582.1,162.4L592.6,101.4Z"/>
<path d="M1080.6,101.1L1087.4,162.1L1094.2,223.1L1101.0,284.1L1101.4,291.4L1101.1,297.6L1100.1,302.9L1098.6,307.5L1096.7,311.4L1094.3,315.0L1091.6,318.2L1088.5,321.1L1085.1,323.9L1081.4,326.6L1077.8,329.1L1071.2,333.5L1065.2,338.2L1059.9,343.3L1055.3,348.7L1051.5,354.4L1048.4,360.4L1046.2,366.6L1044.7,372.9L1044.0,379.3L1043.9,385.8L1044.5,392.3L1045.6,398.6L1047.2,404.8L1049.3,410.6L1052.0,416.1L1055.3,421.2L1059.1,425.9L1063.4,430.1L1068.2,433.9L1073.4,437.2L1079.0,440.0L1084.8,442.4L1090.9,444.5L1097.3,446.3L1103.9,447.7L1110.8,448.8L1118.0,449.6L1125.4,450.1L1135.3,450.4L1144.6,450.3L1153.2,449.7L1161.3,448.8L1168.7,447.6L1175.7,446.0L1182.1,444.1L1188.1,441.9L1193.6,439.5L1198.7,436.8L1203.4,434.0L1207.7,431.1L1211.7,428.1L1215.3,425.0L1218.8,422.0L1222.0,419.0L1225.1,416.1L1228.0,413.3L1231.0,410.7L1234.1,408.6L1237.2,407.0L1240.6,405.6L1244.4,404.6L1248.8,403.7L1253.8,403.1L1259.4,402.7L1265.9,402.4L1273.0,402.3L1281.0,402.3L1281.0,381.5L1272.8,381.6L1265.1,381.7L1257.8,382.0L1251.0,382.6L1244.4,383.4L1238.0,384.7L1231.9,386.4L1225.9,388.7L1220.3,391.7L1215.1,395.2L1210.2,399.3L1207.1,402.3L1204.2,405.1L1201.2,407.9L1198.3,410.5L1195.3,413.0L1192.2,415.4L1189.0,417.6L1185.6,419.7L1181.9,421.7L1177.9,423.4L1173.6,425.1L1168.8,426.5L1163.4,427.8L1157.5,428.8L1150.9,429.5L1143.6,430.0L1135.6,430.1L1126.7,429.9L1120.5,429.4L1114.6,428.8L1109.1,427.9L1103.9,426.8L1099.2,425.5L1094.9,423.9L1090.9,422.2L1087.3,420.3L1084.0,418.2L1080.9,415.9L1078.1,413.3L1075.5,410.4L1073.2,407.2L1071.2,403.5L1069.7,399.5L1068.4,394.9L1067.6,389.9L1067.1,385.0L1067.0,380.3L1067.5,375.9L1068.4,371.7L1069.8,367.6L1071.8,363.7L1074.2,359.8L1077.3,356.1L1081.1,352.4L1085.5,348.8L1090.9,345.2L1095.4,342.1L1099.9,338.8L1104.4,335.1L1108.8,330.9L1113.0,326.0L1116.7,320.5L1119.8,314.2L1122.1,307.3L1123.5,299.6L1123.9,291.2L1123.2,282.0L1116.0,221.1L1108.9,160.1L1101.7,99.1Z"/>
<path d="M1588.7,103.2L1614.8,169.3L1640.8,235.3L1666.9,301.3L1668.3,306.6L1668.8,310.9L1668.4,314.5L1667.4,317.5L1665.9,320.4L1663.8,323.1L1661.0,325.9L1657.7,328.7L1654.0,331.6L1649.8,334.5L1645.6,337.5L1639.3,342.8L1634.2,348.9L1630.5,355.4L1628.1,362.3L1626.9,369.2L1626.6,376.2L1627.2,383.1L1628.7,389.8L1631.0,396.4L1634.0,402.7L1637.7,408.5L1641.0,412.7L1644.7,416.6L1648.7,420.3L1653.0,423.7L1657.6,426.9L1662.5,429.7L1667.6,432.4L1672.9,434.8L1678.4,437.1L1684.1,439.1L1690.0,441.0L1696.0,442.7L1702.2,444.3L1708.5,445.7L1715.1,447.0L1721.7,448.1L1728.5,449.1L1735.5,450.0L1742.6,450.7L1749.8,451.3L1757.1,451.8L1764.6,452.2L1772.1,452.5L1779.7,452.7L1780.3,431.0L1773.1,430.9L1766.0,430.7L1759.1,430.3L1752.3,429.9L1745.7,429.4L1739.3,428.7L1733.0,428.0L1726.9,427.1L1721.1,426.1L1715.4,425.1L1710.0,423.8L1704.7,422.5L1699.8,421.1L1695.1,419.6L1690.6,417.9L1686.4,416.2L1682.4,414.3L1678.7,412.3L1675.2,410.2L1672.0,408.0L1669.0,405.7L1666.2,403.3L1663.6,400.7L1661.2,398.0L1658.5,394.1L1656.2,389.8L1654.5,385.2L1653.4,380.4L1652.9,375.6L1653.0,371.0L1653.8,366.5L1655.1,362.5L1657.0,358.8L1659.4,355.7L1662.6,352.9L1666.8,349.9L1671.2,346.7L1675.8,343.2L1680.4,339.3L1684.7,334.9L1688.6,329.9L1691.8,324.1L1693.8,317.7L1694.5,310.7L1693.7,303.2L1691.4,295.1L1664.8,229.1L1638.2,163.2L1611.6,97.2Z"/>
<path d="M441.8,579.2L446.6,549.3L447.6,544.4L448.7,539.5L450.1,534.6L451.6,529.8L453.3,525.0L455.2,520.3L457.2,515.8L459.5,511.4L462.0,507.2L464.6,503.2L467.5,499.4L470.5,495.8L473.7,492.5L477.1,489.4L480.7,486.6L484.4,484.1L488.3,481.9L492.4,480.0L496.8,478.5L501.3,477.2L506.2,476.2L511.3,475.6L517.9,475.4L524.1,475.5L529.9,476.0L535.2,476.8L540.1,477.9L544.8,479.3L549.2,481.0L553.4,482.9L557.5,485.0L561.5,487.3L565.4,489.8L569.4,492.4L573.5,495.2L577.6,498.1L581.8,501.1L586.2,504.2L590.7,507.2L596.5,510.8L602.4,514.0L608.5,516.7L614.8,519.1L621.1,521.1L627.5,522.7L634.1,524.1L640.9,525.1L647.8,525.9L654.9,526.4L662.3,526.6L670.0,526.7L670.0,505.0L663.2,505.0L656.8,504.7L651.0,504.3L645.5,503.7L640.4,502.9L635.7,501.9L631.2,500.7L626.9,499.3L622.6,497.6L618.4,495.6L614.1,493.2L609.7,490.4L605.5,487.4L601.2,484.4L597.0,481.4L592.6,478.3L588.0,475.3L583.3,472.2L578.4,469.2L573.2,466.4L567.6,463.7L561.7,461.2L555.3,459.0L548.6,457.1L541.4,455.6L533.8,454.5L525.8,453.9L517.4,453.7L508.5,454.1L500.4,455.0L492.8,456.5L485.6,458.5L478.8,461.0L472.4,463.9L466.3,467.2L460.8,470.8L455.6,474.7L450.8,479.0L446.4,483.4L442.4,488.0L438.7,492.9L435.3,497.8L432.2,503.0L429.4,508.2L426.9,513.5L424.6,518.9L422.6,524.4L420.8,529.9L419.3,535.4L417.9,540.9L416.8,546.5L411.6,576.6Z"/>
<path d="M1086.9,578.0L1086.7,530.0L1086.9,524.0L1087.4,518.3L1088.3,513.0L1089.4,508.1L1091.0,503.5L1092.7,499.3L1094.8,495.5L1097.1,492.1L1099.7,489.0L1102.5,486.2L1105.6,483.8L1108.9,481.6L1112.5,479.8L1116.5,478.2L1120.7,476.9L1125.4,475.8L1130.4,475.1L1135.8,474.7L1143.0,474.6L1149.5,474.9L1155.3,475.6L1160.4,476.6L1165.1,477.9L1169.4,479.5L1173.5,481.4L1177.4,483.6L1181.3,485.9L1185.3,488.5L1189.4,491.3L1193.7,494.2L1198.3,497.2L1203.2,500.4L1208.7,503.6L1215.4,507.0L1221.9,510.1L1228.4,512.9L1234.9,515.4L1241.4,517.5L1247.9,519.4L1254.4,521.0L1261.0,522.4L1267.6,523.5L1274.3,524.3L1281.0,525.0L1287.9,525.4L1294.9,525.6L1302.0,525.7L1302.0,504.0L1295.7,504.0L1289.6,503.8L1283.8,503.4L1278.2,502.8L1272.8,502.1L1267.5,501.2L1262.3,500.1L1257.2,498.8L1252.1,497.3L1247.0,495.5L1241.8,493.5L1236.6,491.2L1231.3,488.6L1226.0,485.7L1221.6,483.1L1217.2,480.2L1212.8,477.2L1208.3,474.2L1203.7,471.2L1198.8,468.1L1193.6,465.2L1188.1,462.4L1182.0,459.8L1175.4,457.5L1168.2,455.6L1160.5,454.2L1152.3,453.3L1143.5,452.9L1134.0,453.1L1126.2,453.7L1118.6,454.8L1111.3,456.4L1104.3,458.5L1097.7,461.2L1091.6,464.3L1085.8,467.8L1080.6,471.9L1075.9,476.3L1071.8,481.1L1068.2,486.2L1065.1,491.6L1062.5,497.3L1060.4,503.3L1058.8,509.6L1057.7,516.1L1057.0,522.9L1056.7,530.0L1056.5,578.0Z"/>
<path d="M1736.8,576.1L1723.4,525.0L1722.0,519.6L1721.2,514.6L1720.8,509.8L1720.9,505.4L1721.4,501.4L1722.4,497.8L1723.7,494.7L1725.3,491.9L1727.3,489.4L1729.7,487.3L1732.5,485.4L1736.0,483.8L1740.2,482.4L1745.3,481.3L1751.1,480.6L1781.0,478.6L1778.8,457.1L1748.6,459.1L1739.6,460.1L1731.3,461.9L1723.6,464.4L1716.6,467.6L1710.3,471.5L1704.9,476.0L1700.5,481.0L1697.1,486.4L1694.5,492.0L1692.8,497.9L1691.9,503.9L1691.6,510.1L1692.0,516.4L1692.9,522.8L1694.4,529.3L1706.9,580.2Z"/>
<path d="M-6.3,437.0L-2.6,433.9L1.2,430.8L5.1,427.9L9.2,425.0L13.3,422.3L17.6,419.7L22.1,417.3L26.7,415.0L31.6,413.0L36.6,411.0L42.0,409.3L47.5,407.8L53.4,406.5L59.6,405.4L66.1,404.6L73.0,404.0L80.3,403.7L79.7,382.0L71.3,382.4L63.2,383.1L55.5,384.1L48.1,385.3L41.0,386.9L34.2,388.8L27.7,390.9L21.5,393.2L15.6,395.8L9.9,398.5L4.5,401.4L-0.7,404.5L-5.6,407.7L-10.4,411.0L-14.9,414.4L-19.2,417.9L-23.4,421.4Z"/>
<path d="M-11.6,529.9L26.4,528.9L25.6,504.5L-12.4,505.5Z"/>
<path d="M-29.8,663.8L-24.8,665.5L-19.9,667.4L-15.2,669.6L-10.7,672.0L-6.4,674.6L-2.6,677.5L1.0,680.4L4.1,683.5L6.9,686.6L9.2,689.7L11.1,692.9L12.6,696.1L13.7,699.3L14.3,702.6L14.5,706.0L14.3,710.4L13.7,714.5L12.7,718.6L11.3,722.5L9.6,726.3L7.5,730.2L4.9,734.0L2.1,737.8L-1.2,741.5L-4.9,745.3L-8.9,749.2L-13.2,753.0L-18.0,756.8L-23.0,760.7L-28.3,764.6L-34.0,768.6L-12.3,789.3L-6.2,785.0L-0.2,780.7L5.5,776.3L11.0,771.9L16.2,767.3L21.2,762.6L25.9,757.8L30.2,752.8L34.2,747.6L37.8,742.3L40.9,736.8L43.6,731.0L45.7,725.0L47.3,718.9L48.3,712.5L48.6,706.0L48.2,699.4L46.9,693.0L44.9,686.9L42.2,681.0L38.9,675.3L35.0,669.9L30.4,664.9L25.4,660.3L19.8,656.0L13.9,652.1L7.7,648.5L1.3,645.3L-5.4,642.5L-12.3,640.0L-19.3,637.9Z"/>
<path d="M240.0,637.1L165.0,636.8L157.1,637.0L149.3,637.6L141.7,638.5L134.3,639.8L127.1,641.4L120.2,643.4L113.4,645.7L106.9,648.3L100.7,651.2L94.8,654.4L89.1,657.9L83.7,661.6L78.6,665.6L73.8,669.7L69.3,674.2L65.2,678.8L61.3,683.6L57.8,688.5L54.7,693.7L51.8,698.9L49.4,704.4L47.3,709.9L45.5,715.6L44.1,721.3L43.2,727.2L42.6,733.0L42.3,740.5L42.9,747.8L44.1,754.9L45.8,761.6L48.1,768.1L50.7,774.2L53.6,780.1L56.6,785.8L59.7,791.2L62.8,796.4L65.9,801.5L68.7,806.4L71.4,811.1L73.9,815.8L76.0,820.3L77.8,824.7L79.1,828.7L80.4,833.8L81.5,838.5L82.5,843.0L83.2,847.3L83.8,851.5L84.2,856.0L84.4,860.7L84.5,866.0L118.6,866.0L118.5,859.9L118.2,854.1L117.7,848.6L117.0,843.3L116.1,838.1L115.0,832.9L113.8,827.6L112.3,821.8L110.3,815.5L107.9,809.6L105.3,804.0L102.4,798.5L99.5,793.2L96.5,788.1L93.4,783.1L90.5,778.2L87.7,773.3L85.0,768.6L82.7,763.9L80.6,759.2L78.9,754.5L77.6,749.8L76.8,744.9L76.4,740.0L76.6,734.8L77.0,730.4L77.7,726.2L78.6,722.0L79.9,717.9L81.4,713.8L83.1,709.8L85.2,706.0L87.4,702.2L89.9,698.6L92.7,695.1L95.6,691.7L98.8,688.5L102.3,685.4L105.9,682.5L109.8,679.8L113.8,677.3L118.1,675.0L122.5,672.8L127.2,670.9L132.0,669.2L137.1,667.8L142.3,666.5L147.7,665.6L153.3,664.9L159.1,664.4L165.0,664.3L240.0,664.1Z"/>
<path d="M570.0,664.1L655.0,664.3L660.0,664.5L664.7,665.1L669.1,666.0L673.3,667.3L677.2,668.9L680.9,670.8L684.2,672.9L687.3,675.3L690.1,677.9L692.8,680.7L695.3,683.7L697.7,686.9L699.8,690.4L701.7,694.2L703.4,698.1L704.8,702.4L706.0,706.9L706.8,711.7L707.4,716.7L707.5,722.0L707.3,726.4L706.8,730.7L705.9,734.8L704.7,738.7L703.1,742.6L701.3,746.4L699.2,750.1L696.8,753.8L694.2,757.5L691.2,761.1L688.1,764.8L684.7,768.4L681.2,772.1L677.4,775.8L673.6,779.5L669.6,783.2L665.5,787.0L661.4,790.8L657.3,794.7L653.1,798.7L649.0,802.8L645.0,807.0L641.0,811.3L637.2,815.8L633.5,820.5L630.1,825.3L626.9,830.4L623.4,837.2L616.9,862.6L650.2,868.8L655.7,846.0L657.1,843.5L659.4,839.8L662.0,836.1L664.8,832.4L667.9,828.7L671.2,825.1L674.7,821.4L678.4,817.7L682.3,813.9L686.3,810.2L690.3,806.4L694.5,802.5L698.6,798.6L702.8,794.6L706.9,790.5L711.0,786.3L715.0,782.0L718.9,777.5L722.6,772.9L726.1,768.1L729.3,763.1L732.3,757.9L735.0,752.5L737.2,746.8L739.1,740.9L740.5,734.8L741.3,728.5L741.6,722.0L741.4,715.0L740.7,708.3L739.5,701.7L737.9,695.3L735.9,689.2L733.4,683.3L730.6,677.6L727.3,672.1L723.6,666.9L719.4,662.0L714.7,657.4L709.5,653.3L703.9,649.5L697.8,646.2L691.4,643.4L684.6,641.0L677.6,639.2L670.3,637.9L662.7,637.1L655.0,636.8L570.0,637.1Z"/>
<path d="M927.0,639.1L845.0,638.8L837.3,639.0L829.9,639.6L822.6,640.6L815.5,642.0L808.6,643.9L802.0,646.1L795.7,648.7L789.6,651.7L783.9,655.0L778.5,658.7L773.4,662.7L768.7,667.0L764.4,671.6L760.5,676.5L757.0,681.6L753.8,687.0L751.1,692.6L748.8,698.4L746.9,704.4L745.4,710.5L744.4,716.9L743.7,723.4L743.5,730.0L743.9,737.2L744.8,744.2L746.3,750.8L748.3,757.2L750.8,763.2L753.7,769.0L756.9,774.4L760.4,779.6L764.1,784.5L768.0,789.1L771.9,793.6L775.9,797.9L779.8,802.0L783.7,806.0L787.5,809.9L791.2,813.8L794.7,817.5L798.0,821.2L801.1,824.8L803.9,828.5L806.4,832.0L808.6,835.6L810.5,839.1L812.0,842.7L812.9,845.0L815.7,867.7L849.6,864.5L846.4,839.5L844.2,832.6L841.8,827.1L839.1,821.9L836.0,816.9L832.8,812.1L829.3,807.5L825.7,803.1L821.9,798.9L818.1,794.8L814.3,790.9L810.5,787.0L806.8,783.2L803.2,779.5L799.7,775.8L796.3,772.1L793.1,768.4L790.2,764.7L787.4,760.9L785.0,757.0L782.8,753.0L781.0,748.9L779.6,744.5L778.5,739.9L777.9,735.1L777.6,730.0L777.8,724.9L778.2,720.0L779.0,715.3L780.0,710.8L781.3,706.5L782.9,702.4L784.8,698.5L786.9,694.8L789.2,691.3L791.7,688.1L794.5,685.0L797.5,682.2L800.7,679.6L804.2,677.1L807.8,675.0L811.7,673.0L815.8,671.3L820.1,669.8L824.6,668.6L829.4,667.6L834.4,666.9L839.6,666.4L845.0,666.3L927.0,666.1Z"/>
<path d="M1248.0,664.1L1335.0,664.3L1340.4,664.5L1345.5,665.1L1350.4,665.9L1355.0,667.1L1359.3,668.5L1363.3,670.2L1367.1,672.2L1370.6,674.4L1373.9,676.9L1377.0,679.5L1379.9,682.2L1382.7,685.1L1385.3,688.2L1387.8,691.5L1390.1,694.9L1392.2,698.5L1394.1,702.3L1395.8,706.2L1397.3,710.3L1398.5,714.5L1399.6,718.8L1400.4,723.2L1401.1,727.7L1401.4,732.3L1401.5,737.0L1401.3,741.8L1400.7,746.3L1399.7,750.6L1398.4,754.7L1396.7,758.7L1394.8,762.7L1392.5,766.6L1390.0,770.5L1387.2,774.5L1384.2,778.5L1381.0,782.6L1377.7,786.7L1374.3,791.0L1370.8,795.4L1367.3,799.9L1363.9,804.7L1360.5,809.7L1357.4,814.9L1354.4,820.5L1351.8,826.3L1349.6,832.5L1347.7,839.9L1345.6,864.9L1379.6,867.0L1381.4,843.8L1382.4,840.2L1383.9,835.9L1385.7,831.8L1387.8,827.7L1390.2,823.6L1392.9,819.5L1395.8,815.5L1398.9,811.4L1402.2,807.2L1405.6,803.0L1409.0,798.7L1412.5,794.2L1416.0,789.6L1419.3,784.8L1422.6,779.8L1425.6,774.5L1428.4,769.0L1430.8,763.2L1432.8,757.1L1434.3,750.7L1435.3,744.0L1435.6,737.0L1435.5,731.0L1435.0,725.1L1434.2,719.3L1433.1,713.5L1431.8,707.8L1430.1,702.2L1428.1,696.8L1425.8,691.4L1423.2,686.2L1420.3,681.1L1417.1,676.1L1413.6,671.3L1409.7,666.7L1405.4,662.3L1400.7,658.2L1395.6,654.4L1390.1,650.9L1384.3,647.7L1378.1,644.9L1371.6,642.5L1364.8,640.5L1357.7,638.9L1350.4,637.7L1342.8,637.0L1335.0,636.8L1248.0,637.1Z"/>
<path d="M1602.0,637.1L1510.0,636.8L1502.2,637.1L1494.6,638.1L1487.3,639.6L1480.3,641.8L1473.8,644.6L1467.8,647.9L1462.2,651.7L1457.1,655.9L1452.6,660.4L1448.5,665.3L1444.9,670.4L1441.8,675.8L1439.1,681.4L1436.7,687.2L1434.8,693.1L1433.3,699.2L1432.1,705.5L1431.3,711.9L1430.9,718.4L1430.8,725.0L1431.0,731.7L1431.6,738.6L1432.9,744.9L1434.9,750.7L1437.5,756.3L1440.6,761.5L1444.2,766.5L1448.2,771.1L1452.5,775.5L1457.1,779.6L1461.8,783.5L1466.7,787.3L1471.8,790.9L1476.9,794.4L1482.1,797.8L1487.3,801.1L1492.5,804.4L1497.7,807.7L1502.8,810.9L1507.8,814.1L1512.6,817.3L1517.3,820.5L1521.7,823.7L1525.9,826.9L1529.8,830.1L1533.3,833.3L1536.6,836.5L1539.4,839.6L1541.8,842.7L1543.9,845.7L1544.5,846.8L1548.9,868.8L1582.4,863.6L1577.1,837.9L1573.7,830.8L1570.4,825.8L1566.7,821.1L1562.7,816.6L1558.3,812.4L1553.7,808.4L1548.9,804.5L1543.9,800.9L1538.8,797.3L1533.7,793.9L1528.5,790.5L1523.4,787.2L1518.2,784.0L1513.2,780.8L1508.2,777.7L1503.4,774.6L1498.8,771.5L1494.3,768.5L1490.1,765.4L1486.2,762.4L1482.5,759.4L1479.2,756.5L1476.1,753.6L1473.4,750.7L1471.0,747.8L1469.0,744.9L1467.4,741.9L1466.3,738.8L1465.6,735.7L1465.1,730.2L1464.9,724.8L1464.9,719.4L1465.3,714.2L1465.9,709.2L1466.8,704.3L1467.9,699.7L1469.3,695.3L1470.9,691.1L1472.7,687.2L1474.8,683.6L1477.0,680.3L1479.4,677.3L1482.0,674.6L1484.8,672.3L1487.7,670.2L1490.8,668.5L1494.1,667.0L1497.6,665.8L1501.4,665.0L1505.5,664.5L1510.0,664.3L1602.0,664.1Z"/>
<path d="M380.8,717.5L367.5,777.1L354.3,836.7L341.0,896.4L327.8,956.0L314.6,1015.7L301.3,1075.3L333.9,1080.3L346.7,1020.6L359.5,960.9L372.3,901.2L385.0,841.5L397.8,781.8L410.6,722.1Z"/>
<path d="M454.2,718.1L442.1,784.0L429.9,849.9L417.8,915.9L405.7,981.8L393.5,1047.9L392.4,1054.5L391.3,1060.9L390.1,1067.2L388.9,1073.3L387.7,1079.3L386.4,1085.2L385.0,1090.8L383.5,1096.3L381.9,1101.6L380.2,1106.8L378.4,1111.7L376.5,1116.4L374.5,1121.0L372.3,1125.3L370.0,1129.4L367.6,1133.3L365.1,1137.0L363.4,1139.2L291.5,1201.5L325.1,1224.2L397.3,1158.9L401.9,1153.0L405.3,1147.9L408.4,1142.7L411.2,1137.4L413.8,1132.0L416.2,1126.4L418.3,1120.7L420.3,1114.9L422.1,1109.0L423.7,1103.0L425.2,1096.9L426.6,1090.7L427.9,1084.4L429.0,1078.0L430.1,1071.5L431.2,1065.0L432.2,1058.4L433.1,1051.8L443.5,985.9L453.9,919.8L464.3,853.7L474.7,787.7L485.2,721.6Z"/>
<path d="M1071.6,721.0L1076.5,781.0L1081.4,841.0L1086.3,901.0L1091.3,961.1L1096.2,1021.1L1101.1,1081.1L1134.2,1079.1L1128.8,1019.1L1123.4,959.1L1118.0,899.1L1112.7,839.1L1107.3,779.1L1101.9,719.1Z"/>
<path d="M1145.6,721.3L1153.7,795.4L1161.7,869.4L1169.7,943.4L1177.7,1017.5L1187.0,1096.6L1187.3,1102.7L1187.2,1108.5L1186.7,1113.8L1185.7,1118.8L1184.4,1123.4L1182.8,1127.8L1180.9,1131.9L1178.8,1135.9L1176.4,1139.8L1173.8,1143.6L1170.9,1147.3L1168.0,1151.1L1164.8,1154.9L1161.2,1159.2L1128.3,1204.5L1164.3,1220.0L1195.5,1175.3L1198.4,1171.7L1201.8,1167.6L1205.2,1163.2L1208.6,1158.6L1211.9,1153.6L1215.0,1148.4L1218.0,1142.8L1220.6,1136.9L1222.8,1130.7L1224.6,1124.0L1225.8,1117.0L1226.5,1109.7L1226.5,1101.9L1225.8,1093.7L1215.2,1014.7L1205.8,940.8L1196.5,866.8L1187.1,792.8L1177.7,718.9Z"/>
</g>
<g fill="#7a7a82">
<path d="M73.7,19.9L85.7,-5.1L66.5,-12.3L54.5,12.7Z"/>
<path d="M553.1,19.3L561.1,-5.7L543.5,-11.3L535.5,13.7Z"/>
<path d="M1033.6,16.7L1032.6,-8.3L1014.1,-7.6L1015.1,17.4Z"/>
<path d="M1515.7,14.5L1506.7,-10.5L1488.3,-4.5L1497.3,20.5Z"/>
<path d="M150.0,72.2L222.0,72.2L228.8,72.6L234.6,73.6L239.5,75.3L243.4,77.6L246.2,80.2L248.3,82.8L250.0,85.3L251.2,87.9L252.1,90.6L252.7,93.4L252.8,96.4L252.5,99.5L251.7,102.7L250.4,105.9L248.5,109.2L246.3,112.1L243.8,114.8L240.8,117.3L237.4,119.8L233.5,122.3L229.3,124.7L224.7,127.2L219.7,129.8L214.6,132.6L209.2,135.5L203.8,138.7L198.2,142.3L192.7,146.2L187.3,150.6L182.1,155.5L177.2,161.0L172.6,167.0L189.8,175.3L193.4,170.3L197.3,165.9L201.5,161.9L205.9,158.2L210.5,154.9L215.3,151.8L220.1,148.9L225.1,146.2L230.1,143.5L235.1,140.9L240.1,138.2L245.0,135.4L249.7,132.4L254.2,129.2L258.5,125.6L262.4,121.6L265.9,117.2L268.9,112.3L271.1,107.1L272.5,101.9L273.0,96.6L272.8,91.4L271.7,86.2L270.0,81.1L267.6,76.0L264.2,71.0L259.5,66.6L253.6,62.9L246.9,60.0L239.3,57.8L231.0,56.5L222.0,56.1L150.0,56.1Z"/>
<path d="M410.0,57.1L335.0,57.1L326.2,57.4L318.0,58.5L310.3,60.4L303.2,62.9L296.8,66.1L291.0,69.8L286.1,74.1L282.0,78.8L278.7,83.8L276.3,89.2L274.8,94.8L274.2,100.4L274.6,106.2L275.8,111.9L277.9,117.2L280.1,122.2L282.9,127.0L285.9,131.5L289.1,135.6L292.3,139.7L295.6,143.7L298.8,147.9L302.0,152.3L305.3,157.1L308.5,162.5L311.8,168.6L315.0,175.4L334.1,169.5L330.6,161.8L327.0,154.9L323.4,148.8L319.9,143.3L316.4,138.4L313.0,134.0L309.8,130.0L306.7,126.3L303.9,122.8L301.3,119.4L299.1,115.8L297.1,111.7L295.6,107.9L294.7,104.4L294.4,100.8L294.7,97.3L295.6,94.0L296.9,90.7L298.7,87.6L301.2,84.6L304.1,81.9L307.7,79.4L311.9,77.3L316.7,75.5L322.2,74.2L328.3,73.4L335.0,73.2L410.0,73.2Z"/>
<path d="M655.0,70.2L722.0,70.2L728.4,70.6L734.1,71.5L739.2,73.1L743.5,75.1L747.0,77.6L749.8,80.3L752.1,83.0L754.1,85.7L755.6,88.5L756.7,91.3L757.5,94.2L757.9,97.1L757.9,100.1L757.4,103.0L756.5,105.9L755.2,108.6L752.9,111.9L750.2,115.1L747.1,118.1L743.7,121.0L739.9,123.9L735.8,126.9L731.5,129.9L726.9,133.2L722.2,136.8L717.4,140.7L712.8,145.1L708.3,150.0L704.0,155.6L700.1,161.7L696.7,168.6L715.5,174.3L718.2,168.8L721.2,163.9L724.4,159.5L727.9,155.6L731.7,152.0L735.6,148.6L739.8,145.4L744.1,142.4L748.4,139.3L752.8,136.1L757.2,132.8L761.5,129.2L765.7,125.3L769.6,120.9L773.1,115.9L775.6,111.1L777.2,106.1L778.0,101.1L778.1,96.0L777.4,91.0L776.0,86.0L774.1,81.1L771.6,76.2L768.3,71.5L764.0,67.2L758.7,63.4L752.7,60.2L745.9,57.6L738.5,55.7L730.5,54.5L722.0,54.1L655.0,54.1Z"/>
<path d="M916.0,54.1L840.0,54.1L830.9,54.5L822.5,55.7L814.6,57.8L807.5,60.6L801.1,64.1L795.5,68.1L790.7,72.7L786.8,77.6L783.7,82.9L781.5,88.3L780.1,93.9L779.5,99.6L779.8,105.3L780.9,110.9L782.9,116.3L785.9,121.6L789.6,126.4L793.7,130.7L798.1,134.5L802.5,138.1L807.1,141.6L811.6,145.0L816.0,148.6L820.4,152.4L824.6,156.4L828.6,160.7L832.5,165.3L836.1,170.5L839.6,176.2L858.1,168.7L854.1,161.8L849.8,155.4L845.2,149.7L840.5,144.6L835.6,140.0L830.7,135.9L826.0,132.1L821.6,128.7L817.4,125.5L813.7,122.5L810.2,119.6L807.1,116.8L804.4,113.9L802.1,110.6L800.7,107.2L800.0,103.6L799.7,100.0L800.0,96.3L800.8,92.7L802.2,89.2L804.0,85.8L806.4,82.6L809.3,79.7L812.8,77.0L816.9,74.7L821.7,72.8L827.1,71.3L833.2,70.4L840.0,70.2L916.0,70.2Z"/>
<path d="M1155.0,70.2L1222.0,70.2L1228.5,70.6L1234.4,71.5L1239.7,73.1L1244.4,75.1L1248.3,77.6L1251.6,80.4L1254.4,83.3L1256.8,86.1L1258.7,89.1L1260.1,92.0L1261.2,95.0L1261.8,97.9L1262.0,100.8L1261.8,103.6L1261.1,106.3L1260.0,109.0L1257.2,113.9L1254.2,118.4L1251.0,122.7L1247.6,126.9L1244.1,131.1L1240.5,135.5L1236.9,140.2L1233.5,145.2L1230.4,150.7L1227.7,156.8L1225.6,163.5L1224.1,170.8L1244.1,172.8L1245.2,167.1L1246.8,161.9L1248.8,157.2L1251.2,152.8L1253.9,148.7L1257.0,144.6L1260.3,140.5L1263.9,136.2L1267.6,131.7L1271.3,126.8L1274.9,121.5L1278.3,115.7L1280.5,110.8L1281.8,105.7L1282.3,100.6L1281.9,95.5L1280.7,90.4L1279.0,85.4L1276.7,80.5L1273.7,75.6L1269.8,71.0L1265.0,66.9L1259.4,63.2L1253.1,60.0L1246.1,57.5L1238.6,55.6L1230.5,54.5L1222.0,54.1L1155.0,54.1Z"/>
<path d="M1415.0,54.1L1350.0,54.1L1341.5,54.4L1333.4,55.5L1325.8,57.3L1318.8,59.7L1312.4,62.7L1306.6,66.3L1301.5,70.3L1297.0,74.6L1293.3,79.4L1290.3,84.3L1288.1,89.5L1286.6,94.8L1285.9,100.2L1286.0,105.7L1287.0,111.0L1289.0,116.5L1292.4,121.7L1296.5,126.0L1301.0,129.8L1305.8,133.1L1310.8,136.0L1315.9,138.8L1321.0,141.5L1326.0,144.2L1331.0,147.0L1335.8,149.9L1340.3,153.0L1344.5,156.2L1348.4,159.6L1352.0,163.3L1355.1,167.1L1357.9,171.2L1360.2,175.7L1379.1,169.2L1376.0,162.9L1372.4,157.1L1368.2,151.8L1363.4,147.1L1358.3,142.9L1353.1,139.2L1347.7,135.8L1342.4,132.7L1337.3,129.9L1332.3,127.2L1327.7,124.6L1323.4,122.2L1319.6,119.8L1316.2,117.4L1313.2,115.2L1310.4,112.9L1308.1,110.4L1306.9,107.5L1306.2,104.3L1306.1,101.0L1306.4,97.6L1307.3,94.2L1308.6,90.9L1310.5,87.6L1312.8,84.5L1315.7,81.5L1319.0,78.8L1322.9,76.3L1327.3,74.2L1332.2,72.5L1337.6,71.2L1343.5,70.4L1350.0,70.2L1415.0,70.2Z"/>
<path d="M1665.0,70.2L1720.0,70.2L1726.5,70.5L1732.7,71.4L1738.5,72.7L1743.8,74.5L1748.6,76.8L1752.9,79.5L1756.5,82.5L1759.6,85.5L1762.3,88.6L1764.4,91.8L1766.2,95.0L1767.4,98.3L1768.3,101.6L1788.2,98.9L1786.9,93.4L1784.9,88.1L1782.3,82.9L1779.0,77.9L1774.9,73.2L1769.9,69.0L1764.3,65.2L1758.0,61.9L1751.3,59.2L1744.0,57.0L1736.4,55.4L1728.3,54.4L1720.0,54.1L1665.0,54.1Z"/>
<path d="M1760.7,131.6L1744.7,168.6L1763.5,174.3L1779.5,137.3Z"/>
<path d="M6.2,96.6L-20.8,164.6L0.6,170.3L27.6,102.3Z"/>
<path d="M59.6,96.7L35.3,161.0L11.0,225.3L-13.4,289.6L9.0,295.3L32.8,230.9L56.6,166.6L80.3,102.2Z"/>
<path d="M519.8,97.8L504.9,159.5L490.1,221.2L475.3,282.9L495.0,286.5L509.5,224.8L524.1,163.2L538.6,101.5Z"/>
<path d="M1023.6,100.8L1028.9,162.5L1034.3,224.2L1039.6,285.8L1058.9,284.4L1053.6,222.8L1048.3,161.1L1042.9,99.4Z"/>
<path d="M1534.5,103.0L1556.0,164.7L1577.5,226.3L1599.0,288.0L1621.4,282.9L1599.0,221.2L1576.7,159.5L1554.3,97.8Z"/>
<path d="M571.7,98.3L560.8,159.3L549.9,220.3L539.0,281.3L537.8,287.0L536.4,292.1L534.9,296.4L533.0,300.1L530.9,303.4L528.5,306.5L525.4,309.5L521.7,312.4L517.1,315.5L511.5,318.7L504.3,322.8L497.5,326.8L491.1,330.9L485.1,335.0L479.5,339.1L474.3,343.4L469.6,347.7L465.2,352.2L461.3,356.8L457.9,361.6L455.0,366.5L452.7,371.7L450.9,377.0L449.8,382.5L449.3,388.1L449.5,393.8L450.5,401.2L452.3,408.0L454.7,414.4L458.0,420.2L461.9,425.5L466.5,430.1L471.6,434.1L477.3,437.3L483.2,439.8L489.2,441.9L495.4,443.6L501.8,444.9L508.3,446.0L514.9,446.6L521.7,447.0L531.0,447.1L539.8,446.8L547.9,446.2L555.5,445.1L562.6,443.8L569.1,442.1L575.2,440.1L580.9,437.8L586.2,435.3L591.2,432.6L595.8,429.7L600.2,426.7L604.3,423.6L608.3,420.5L612.1,417.3L615.8,414.2L619.8,411.1L624.0,408.4L628.1,406.1L632.3,404.2L636.7,402.6L641.3,401.3L646.2,400.3L651.4,399.5L657.0,398.9L663.1,398.5L669.5,398.2L676.5,398.1L684.0,398.1L684.0,379.6L676.2,379.6L668.8,379.8L661.7,380.1L654.8,380.6L648.2,381.3L641.7,382.3L635.4,383.7L629.3,385.4L623.3,387.5L617.4,390.1L611.8,393.2L606.3,396.7L600.8,400.8L597.0,404.1L593.4,407.1L589.9,410.0L586.3,412.7L582.8,415.2L579.1,417.5L575.3,419.6L571.3,421.6L567.0,423.3L562.3,424.9L557.2,426.3L551.6,427.4L545.4,428.2L538.5,428.8L530.9,429.0L522.5,428.9L516.9,428.6L511.7,428.1L506.8,427.2L502.2,426.2L497.9,424.9L493.9,423.3L490.2,421.6L486.8,419.5L483.5,417.2L480.3,414.6L477.3,411.4L474.9,407.6L473.0,403.1L471.6,398.1L470.7,392.4L470.5,388.6L470.8,384.8L471.5,381.2L472.5,377.6L474.0,374.1L476.0,370.6L478.4,367.0L481.3,363.4L484.7,359.8L488.6,356.2L493.0,352.5L497.8,348.9L503.2,345.1L509.0,341.4L515.3,337.6L522.0,333.8L528.6,330.0L534.4,326.1L539.6,322.0L544.1,317.7L548.0,313.1L551.2,308.0L553.9,302.7L556.1,296.9L557.8,290.8L559.2,284.2L569.7,223.1L580.2,162.1L590.7,101.1Z"/>
<path d="M1080.6,101.1L1087.4,162.1L1094.2,223.1L1101.0,284.1L1101.5,291.4L1101.1,297.6L1100.1,302.9L1098.6,307.5L1096.7,311.4L1094.3,315.0L1091.6,318.2L1088.5,321.1L1085.1,324.0L1081.4,326.6L1077.8,329.1L1071.2,333.5L1065.2,338.2L1059.9,343.3L1055.3,348.8L1051.5,354.5L1048.4,360.4L1046.2,366.6L1044.7,372.9L1044.0,379.3L1043.9,385.8L1044.6,392.3L1045.6,398.6L1047.2,404.7L1049.4,410.6L1052.2,416.0L1055.5,421.0L1059.4,425.6L1063.9,429.7L1068.8,433.3L1074.1,436.3L1079.8,438.8L1085.6,441.0L1091.7,442.9L1097.9,444.4L1104.4,445.7L1111.2,446.8L1118.2,447.5L1125.5,448.0L1135.4,448.2L1144.5,448.1L1153.0,447.6L1160.9,446.7L1168.2,445.4L1174.9,443.9L1181.2,442.0L1187.0,439.9L1192.4,437.6L1197.3,435.0L1201.9,432.3L1206.1,429.5L1210.0,426.5L1213.6,423.6L1217.0,420.6L1220.2,417.6L1223.3,414.7L1226.2,411.9L1229.4,409.1L1232.6,406.9L1236.0,405.0L1239.7,403.6L1243.7,402.4L1248.3,401.5L1253.5,400.9L1259.3,400.5L1265.8,400.2L1273.0,400.1L1281.0,400.1L1281.0,381.6L1272.8,381.6L1265.1,381.8L1257.8,382.1L1251.0,382.6L1244.4,383.4L1238.0,384.7L1231.9,386.4L1225.9,388.7L1220.3,391.7L1215.1,395.2L1210.2,399.3L1207.1,402.3L1204.2,405.1L1201.2,407.9L1198.3,410.5L1195.3,413.0L1192.2,415.4L1189.0,417.6L1185.6,419.7L1181.9,421.7L1177.9,423.4L1173.6,425.1L1168.8,426.5L1163.4,427.8L1157.5,428.8L1150.9,429.6L1143.6,430.0L1135.6,430.1L1126.7,429.9L1120.5,429.5L1114.5,428.9L1109.0,428.0L1103.9,426.9L1099.1,425.6L1094.8,424.1L1090.7,422.5L1087.0,420.6L1083.6,418.6L1080.4,416.3L1077.3,413.9L1074.3,411.1L1071.7,407.8L1069.6,404.1L1067.9,399.9L1066.6,395.3L1065.7,390.1L1065.1,385.0L1065.1,380.2L1065.5,375.6L1066.5,371.2L1067.9,366.9L1069.9,362.8L1072.4,358.8L1075.6,354.8L1079.5,351.0L1084.0,347.2L1089.5,343.5L1093.9,340.5L1098.4,337.3L1102.8,333.7L1107.1,329.6L1111.2,324.9L1114.8,319.6L1117.9,313.6L1120.1,306.9L1121.5,299.4L1122.0,291.2L1121.4,282.2L1114.2,221.2L1107.1,160.2L1099.9,99.2Z"/>
<path d="M1588.9,103.2L1614.9,169.2L1641.0,235.3L1667.0,301.3L1668.4,306.5L1668.8,310.9L1668.4,314.5L1667.5,317.5L1665.9,320.4L1663.8,323.1L1661.1,325.9L1657.7,328.7L1654.0,331.6L1649.8,334.5L1645.7,337.5L1639.3,342.8L1634.2,348.9L1630.5,355.4L1628.2,362.3L1626.9,369.2L1626.6,376.1L1627.3,383.1L1628.8,389.8L1631.1,396.4L1634.2,402.6L1638.1,408.4L1641.4,412.5L1645.2,416.3L1649.3,419.9L1653.7,423.1L1658.4,426.1L1663.4,428.8L1668.6,431.2L1673.9,433.5L1679.4,435.6L1685.0,437.5L1690.8,439.3L1696.8,440.9L1702.9,442.4L1709.2,443.7L1715.6,444.9L1722.2,446.0L1729.0,447.0L1735.9,447.8L1742.9,448.5L1750.0,449.1L1757.3,449.6L1764.7,450.0L1772.2,450.3L1779.8,450.4L1780.3,431.1L1773.1,431.0L1766.0,430.7L1759.1,430.4L1752.3,430.0L1745.7,429.4L1739.3,428.8L1733.0,428.1L1726.9,427.2L1721.0,426.2L1715.4,425.2L1709.9,424.0L1704.7,422.7L1699.7,421.3L1695.0,419.7L1690.5,418.1L1686.2,416.4L1682.2,414.6L1678.4,412.6L1674.9,410.6L1671.5,408.4L1668.4,406.2L1665.4,403.8L1662.5,401.3L1659.9,398.6L1656.8,394.7L1654.3,390.3L1652.5,385.6L1651.3,380.7L1650.7,375.7L1650.8,370.8L1651.5,366.2L1652.9,361.8L1654.8,357.9L1657.4,354.4L1660.9,351.3L1665.1,348.3L1669.4,345.2L1674.0,341.8L1678.4,338.0L1682.7,333.8L1686.5,329.0L1689.6,323.5L1691.6,317.4L1692.3,310.7L1691.6,303.5L1689.5,295.6L1662.9,229.6L1636.4,163.7L1609.8,97.7Z"/>
<path d="M439.2,579.0L444.1,549.0L445.0,544.1L446.2,539.1L447.5,534.2L449.0,529.3L450.7,524.5L452.6,519.7L454.7,515.1L457.0,510.6L459.5,506.3L462.2,502.2L465.0,498.3L468.1,494.6L471.4,491.1L474.9,487.9L478.6,485.0L482.5,482.4L486.6,480.0L491.0,478.0L495.6,476.3L500.4,475.0L505.6,473.9L511.0,473.3L517.8,473.1L524.3,473.3L530.3,473.8L535.8,474.7L540.9,476.0L545.7,477.5L550.2,479.4L554.4,481.4L558.5,483.8L562.5,486.2L566.4,488.9L570.3,491.6L574.3,494.5L578.4,497.4L582.7,500.4L587.1,503.5L591.6,506.5L597.4,509.9L603.4,512.8L609.6,515.3L615.7,517.5L622.0,519.3L628.3,520.8L634.7,522.0L641.3,522.9L648.1,523.6L655.1,524.1L662.4,524.3L670.0,524.4L670.0,505.1L663.2,505.0L656.8,504.8L650.9,504.4L645.5,503.8L640.4,503.0L635.6,502.0L631.1,500.9L626.7,499.5L622.4,497.8L618.1,495.8L613.8,493.5L609.3,490.7L605.0,487.8L600.8,484.8L596.5,481.8L592.2,478.7L587.7,475.6L583.0,472.5L578.1,469.6L572.9,466.7L567.4,463.9L561.5,461.4L555.3,459.1L548.5,457.2L541.4,455.7L533.8,454.6L525.8,453.9L517.4,453.8L508.5,454.1L500.4,455.1L492.8,456.5L485.6,458.5L478.8,461.0L472.4,463.9L466.4,467.2L460.8,470.8L455.6,474.7L450.8,479.0L446.4,483.4L442.4,488.0L438.7,492.9L435.3,497.8L432.2,503.0L429.4,508.2L426.9,513.5L424.6,518.9L422.6,524.4L420.8,529.9L419.3,535.4L417.9,540.9L416.8,546.5L411.7,576.6Z"/>
<path d="M1084.4,578.0L1084.2,530.0L1084.3,523.9L1084.8,518.1L1085.7,512.7L1086.9,507.6L1088.4,502.9L1090.2,498.6L1092.3,494.6L1094.7,491.0L1097.4,487.7L1100.3,484.8L1103.6,482.1L1107.1,479.8L1111.0,477.8L1115.2,476.1L1119.7,474.7L1124.6,473.6L1129.9,472.8L1135.6,472.4L1143.1,472.3L1149.8,472.6L1155.8,473.4L1161.2,474.6L1166.0,476.1L1170.4,477.9L1174.5,480.0L1178.4,482.4L1182.3,484.9L1186.2,487.6L1190.3,490.5L1194.6,493.4L1199.2,496.4L1204.2,499.5L1209.7,502.6L1216.4,505.9L1222.9,508.8L1229.4,511.4L1235.9,513.7L1242.3,515.8L1248.7,517.5L1255.1,519.0L1261.6,520.3L1268.1,521.3L1274.7,522.1L1281.3,522.7L1288.1,523.1L1295.0,523.4L1302.0,523.4L1302.0,504.1L1295.7,504.0L1289.6,503.8L1283.8,503.4L1278.2,502.9L1272.8,502.2L1267.5,501.3L1262.3,500.2L1257.1,499.0L1252.0,497.5L1246.9,495.7L1241.7,493.7L1236.4,491.4L1231.0,488.9L1225.6,486.0L1221.2,483.4L1216.8,480.5L1212.3,477.6L1207.9,474.6L1203.3,471.5L1198.5,468.5L1193.4,465.5L1187.9,462.6L1181.9,460.0L1175.3,457.7L1168.2,455.7L1160.5,454.3L1152.3,453.3L1143.5,452.9L1134.0,453.1L1126.2,453.7L1118.6,454.8L1111.3,456.4L1104.3,458.5L1097.7,461.2L1091.6,464.3L1085.8,467.9L1080.6,471.9L1075.9,476.3L1071.8,481.1L1068.2,486.2L1065.1,491.6L1062.5,497.3L1060.4,503.3L1058.8,509.6L1057.7,516.1L1057.0,522.9L1056.8,530.0L1056.6,578.0Z"/>
<path d="M1734.4,576.5L1721.0,525.4L1719.6,519.9L1718.8,514.7L1718.4,509.9L1718.4,505.3L1719.0,501.1L1719.9,497.3L1721.2,493.9L1722.9,490.8L1725.1,488.1L1727.7,485.7L1730.9,483.5L1734.7,481.7L1739.3,480.2L1744.7,479.0L1750.9,478.3L1780.8,476.3L1778.8,457.1L1748.6,459.1L1739.6,460.2L1731.3,461.9L1723.6,464.4L1716.6,467.6L1710.3,471.5L1704.9,476.0L1700.5,481.0L1697.1,486.4L1694.5,492.0L1692.8,497.9L1691.9,503.9L1691.6,510.1L1692.0,516.4L1693.0,522.8L1694.4,529.3L1706.9,580.2Z"/>
<path d="M-8.0,435.5L-4.3,432.3L-0.4,429.1L3.6,426.1L7.6,423.2L11.9,420.5L16.2,417.8L20.8,415.3L25.5,413.0L30.5,410.8L35.7,408.9L41.1,407.1L46.8,405.5L52.9,404.2L59.2,403.1L65.8,402.2L72.8,401.7L80.2,401.4L79.7,382.1L71.3,382.4L63.2,383.1L55.5,384.1L48.1,385.4L41.0,386.9L34.2,388.8L27.7,390.9L21.5,393.2L15.6,395.8L9.9,398.5L4.5,401.4L-0.7,404.5L-5.6,407.7L-10.4,411.0L-14.9,414.4L-19.2,417.9L-23.4,421.4Z"/>
<path d="M-11.7,527.3L26.3,526.3L25.6,504.6L-12.4,505.6Z"/>
<path d="M-28.8,661.5L-23.7,663.2L-18.7,665.4L-13.9,667.8L-9.5,670.5L-5.3,673.4L-1.6,676.5L1.8,679.7L4.8,682.9L7.5,686.2L9.7,689.5L11.4,692.8L12.8,696.1L13.8,699.3L14.4,702.6L14.6,706.0L14.3,710.4L13.7,714.5L12.7,718.6L11.3,722.5L9.6,726.4L7.5,730.2L5.0,734.0L2.1,737.8L-1.2,741.5L-4.9,745.4L-8.9,749.2L-13.2,753.0L-18.0,756.9L-23.0,760.7L-28.3,764.6L-34.0,768.6L-14.5,787.2L-8.4,782.9L-2.5,778.7L3.1,774.3L8.6,770.0L13.7,765.5L18.6,760.9L23.2,756.2L27.5,751.3L31.4,746.3L35.0,741.2L38.1,735.8L40.7,730.2L42.8,724.5L44.4,718.5L45.4,712.3L45.7,706.0L45.4,699.7L44.2,693.5L42.4,687.6L40.1,681.8L37.3,676.1L33.8,670.6L29.6,665.5L24.7,660.8L19.4,656.5L13.6,652.5L7.5,648.9L1.1,645.6L-5.6,642.7L-12.4,640.2L-19.4,638.1Z"/>
<path d="M240.0,637.1L165.0,636.9L157.1,637.1L149.3,637.6L141.7,638.5L134.3,639.8L127.1,641.4L120.2,643.4L113.4,645.7L106.9,648.3L100.7,651.2L94.8,654.4L89.1,657.9L83.7,661.6L78.6,665.6L73.8,669.8L69.3,674.2L65.2,678.8L61.3,683.6L57.8,688.5L54.7,693.7L51.8,698.9L49.4,704.4L47.3,709.9L45.5,715.6L44.2,721.3L43.2,727.2L42.6,733.0L42.4,740.5L42.9,747.8L44.1,754.9L45.9,761.6L48.2,768.0L50.9,774.2L53.8,780.0L56.9,785.7L60.0,791.1L63.1,796.3L66.2,801.3L69.1,806.2L71.7,811.0L74.1,815.7L76.2,820.2L77.9,824.6L79.2,828.7L80.5,833.7L81.6,838.5L82.6,843.0L83.3,847.2L83.8,851.5L84.2,856.0L84.5,860.7L84.6,866.0L115.7,866.0L115.7,859.9L115.4,854.3L114.9,848.9L114.2,843.6L113.4,838.5L112.3,833.4L111.1,828.1L109.6,822.4L107.7,816.2L105.5,810.4L103.0,804.8L100.3,799.4L97.4,794.1L94.5,788.9L91.4,783.9L88.4,779.0L85.5,774.2L82.8,769.4L80.3,764.7L78.1,759.9L76.3,755.1L74.9,750.2L74.0,745.2L73.5,740.1L73.7,734.7L74.1,730.2L74.8,725.8L75.7,721.4L77.0,717.1L78.5,713.0L80.3,708.8L82.3,704.8L84.6,700.9L87.2,697.2L90.0,693.5L93.0,690.0L96.3,686.6L99.9,683.4L103.6,680.4L107.6,677.6L111.8,674.9L116.2,672.5L120.9,670.2L125.7,668.2L130.8,666.4L136.0,664.9L141.4,663.6L147.1,662.6L152.9,661.9L158.8,661.5L165.0,661.4L240.0,661.3Z"/>
<path d="M570.0,661.3L655.0,661.4L660.3,661.7L665.2,662.4L670.0,663.4L674.3,664.9L678.4,666.8L682.0,669.0L685.3,671.6L688.2,674.4L690.9,677.3L693.5,680.2L695.9,683.4L698.1,686.7L700.1,690.3L702.0,694.1L703.6,698.1L704.9,702.4L706.1,706.9L706.9,711.7L707.4,716.7L707.6,722.0L707.4,726.4L706.8,730.7L705.9,734.8L704.7,738.7L703.1,742.6L701.3,746.4L699.2,750.1L696.8,753.8L694.2,757.5L691.2,761.1L688.1,764.8L684.7,768.4L681.2,772.1L677.5,775.8L673.6,779.5L669.6,783.2L665.5,787.0L661.4,790.8L657.3,794.7L653.1,798.7L649.0,802.8L645.0,807.0L641.0,811.3L637.2,815.8L633.5,820.5L630.1,825.3L626.9,830.4L623.4,837.2L616.9,862.6L647.3,868.3L652.8,845.3L654.3,842.3L656.6,838.4L659.2,834.6L662.1,830.8L665.3,827.0L668.6,823.3L672.2,819.5L675.9,815.8L679.8,812.0L683.8,808.2L687.9,804.4L692.0,800.6L696.1,796.7L700.3,792.7L704.4,788.7L708.4,784.6L712.4,780.3L716.2,775.9L719.8,771.4L723.3,766.8L726.5,761.9L729.5,756.8L732.1,751.6L734.3,746.1L736.2,740.4L737.5,734.5L738.4,728.3L738.7,722.0L738.5,715.2L737.9,708.5L736.8,702.1L735.3,695.9L733.4,689.9L731.1,684.1L728.6,678.4L725.7,672.9L722.3,667.6L718.5,662.6L714.0,658.0L709.0,653.7L703.5,649.9L697.6,646.5L691.3,643.6L684.6,641.2L677.5,639.3L670.2,638.0L662.7,637.2L655.0,636.9L570.0,637.1Z"/>
<path d="M927.0,639.1L845.0,638.9L837.4,639.1L829.9,639.6L822.6,640.6L815.5,642.1L808.6,643.9L802.0,646.1L795.7,648.7L789.6,651.7L783.9,655.0L778.5,658.7L773.4,662.7L768.7,667.0L764.4,671.6L760.5,676.5L757.0,681.6L753.8,687.0L751.1,692.6L748.8,698.4L746.9,704.4L745.4,710.5L744.4,716.9L743.8,723.4L743.6,730.0L743.9,737.2L744.9,744.2L746.4,750.8L748.5,757.2L751.0,763.2L754.0,768.9L757.3,774.3L760.8,779.4L764.6,784.2L768.5,788.8L772.5,793.2L776.5,797.5L780.4,801.6L784.3,805.6L788.2,809.5L791.8,813.3L795.3,817.1L798.6,820.8L801.6,824.5L804.3,828.2L806.8,831.8L808.9,835.4L810.7,839.0L812.2,842.6L813.0,845.0L815.7,867.7L846.7,864.8L843.7,839.9L841.7,833.4L839.6,828.0L837.1,822.8L834.3,817.8L831.3,812.9L828.0,808.3L824.5,803.9L820.8,799.7L817.1,795.6L813.3,791.6L809.5,787.7L805.8,783.9L802.1,780.2L798.5,776.5L795.0,772.9L791.6,769.2L788.5,765.5L785.5,761.7L782.8,757.8L780.4,753.8L778.5,749.5L776.9,745.0L775.7,740.3L775.0,735.3L774.7,730.0L774.9,724.8L775.3,719.8L776.1,714.9L777.1,710.3L778.4,705.8L780.1,701.5L781.9,697.5L784.1,693.6L786.4,689.9L789.1,686.5L792.0,683.2L795.1,680.2L798.5,677.4L802.1,674.8L805.9,672.5L810.0,670.4L814.3,668.6L818.9,667.0L823.6,665.7L828.6,664.7L833.9,663.9L839.3,663.5L845.0,663.4L927.0,663.3Z"/>
<path d="M1248.0,661.3L1335.0,661.4L1340.7,661.7L1346.0,662.3L1351.1,663.3L1355.9,664.6L1360.3,666.2L1364.5,668.2L1368.3,670.5L1371.7,673.1L1374.9,675.8L1377.9,678.7L1380.7,681.6L1383.4,684.7L1385.9,687.9L1388.2,691.2L1390.4,694.7L1392.4,698.4L1394.3,702.2L1395.9,706.1L1397.4,710.2L1398.6,714.4L1399.7,718.8L1400.5,723.2L1401.1,727.7L1401.5,732.3L1401.6,737.0L1401.3,741.8L1400.7,746.3L1399.7,750.6L1398.4,754.7L1396.7,758.7L1394.8,762.7L1392.5,766.6L1390.0,770.5L1387.2,774.5L1384.2,778.5L1381.1,782.6L1377.7,786.7L1374.3,791.0L1370.8,795.4L1367.3,799.9L1363.9,804.7L1360.5,809.7L1357.4,815.0L1354.4,820.5L1351.8,826.3L1349.6,832.5L1347.7,839.9L1345.6,864.9L1376.6,866.8L1378.5,843.4L1379.5,839.5L1381.0,835.1L1382.8,830.7L1385.0,826.5L1387.4,822.3L1390.1,818.1L1393.1,814.0L1396.2,809.8L1399.5,805.6L1402.9,801.4L1406.3,797.1L1409.8,792.7L1413.2,788.2L1416.6,783.4L1419.8,778.6L1422.8,773.4L1425.5,768.1L1427.9,762.5L1429.9,756.5L1431.4,750.3L1432.4,743.8L1432.7,737.0L1432.6,731.1L1432.2,725.3L1431.4,719.6L1430.4,713.9L1429.1,708.4L1427.5,702.9L1425.6,697.5L1423.5,692.2L1421.1,687.0L1418.5,681.9L1415.5,676.9L1412.3,672.0L1408.7,667.4L1404.6,662.9L1400.1,658.7L1395.1,654.9L1389.8,651.3L1384.1,648.0L1378.0,645.2L1371.5,642.7L1364.8,640.6L1357.7,639.0L1350.4,637.8L1342.8,637.1L1335.0,636.9L1248.0,637.1Z"/>
<path d="M1602.0,637.1L1510.0,636.9L1502.2,637.1L1494.6,638.1L1487.3,639.7L1480.3,641.8L1473.8,644.6L1467.8,647.9L1462.2,651.7L1457.2,655.9L1452.6,660.4L1448.5,665.3L1444.9,670.4L1441.8,675.8L1439.1,681.4L1436.8,687.2L1434.8,693.1L1433.3,699.2L1432.2,705.5L1431.4,711.9L1430.9,718.4L1430.8,725.0L1431.1,731.7L1431.7,738.6L1433.0,744.8L1435.0,750.7L1437.7,756.2L1441.0,761.4L1444.7,766.2L1448.8,770.7L1453.2,775.0L1457.8,779.0L1462.6,782.8L1467.6,786.4L1472.7,789.9L1477.9,793.3L1483.1,796.7L1488.4,800.0L1493.6,803.2L1498.8,806.5L1503.8,809.7L1508.8,812.9L1513.6,816.2L1518.3,819.5L1522.6,822.7L1526.8,826.1L1530.6,829.4L1534.1,832.7L1537.2,836.0L1540.0,839.2L1542.3,842.4L1544.3,845.5L1544.7,846.8L1548.9,868.8L1579.7,864.0L1574.5,838.6L1572.0,831.7L1569.0,826.7L1565.6,821.9L1561.8,817.3L1557.5,813.0L1553.0,809.0L1548.3,805.1L1543.4,801.4L1538.4,797.8L1533.3,794.3L1528.1,791.0L1523.0,787.7L1517.8,784.5L1512.8,781.3L1507.8,778.2L1503.0,775.1L1498.3,772.0L1493.8,769.0L1489.5,766.0L1485.5,763.0L1481.7,760.0L1478.2,757.2L1474.9,754.3L1471.9,751.5L1469.1,748.6L1466.7,745.7L1464.9,742.5L1463.5,739.3L1462.7,735.9L1462.2,730.3L1462.0,724.8L1462.0,719.3L1462.4,714.0L1463.0,708.9L1463.9,703.9L1465.0,699.1L1466.4,694.5L1468.0,690.2L1469.9,686.2L1472.0,682.4L1474.3,678.9L1476.8,675.7L1479.5,672.8L1482.5,670.2L1485.6,667.9L1489.0,665.9L1492.6,664.3L1496.5,663.0L1500.7,662.1L1505.2,661.5L1510.0,661.4L1602.0,661.3Z"/>
<path d="M380.8,717.5L367.6,777.1L354.3,836.7L341.1,896.4L327.8,956.0L314.6,1015.7L301.3,1075.3L331.0,1079.8L343.9,1020.1L356.7,960.5L369.5,900.8L382.4,841.1L395.2,781.4L408.0,721.7Z"/>
<path d="M454.2,718.1L442.1,784.0L429.9,849.9L417.8,915.9L405.7,981.8L393.5,1047.9L392.4,1054.5L391.3,1060.9L390.2,1067.2L389.0,1073.3L387.7,1079.3L386.4,1085.2L385.0,1090.8L383.5,1096.3L381.9,1101.6L380.2,1106.8L378.4,1111.7L376.5,1116.4L374.5,1121.0L372.3,1125.3L370.0,1129.4L367.6,1133.3L365.1,1137.0L363.4,1139.2L291.6,1201.5L321.7,1221.9L393.9,1156.9L398.4,1151.5L401.7,1146.6L404.8,1141.5L407.7,1136.3L410.2,1131.0L412.6,1125.5L414.8,1119.9L416.7,1114.2L418.5,1108.3L420.2,1102.4L421.7,1096.3L423.1,1090.2L424.4,1083.9L425.6,1077.6L426.7,1071.2L427.7,1064.7L428.7,1058.1L429.7,1051.5L440.2,985.5L450.8,919.5L461.4,853.4L471.9,787.4L482.5,721.3Z"/>
<path d="M1071.6,721.0L1076.5,781.0L1081.5,841.0L1086.4,901.0L1091.3,961.1L1096.2,1021.1L1101.1,1081.1L1131.4,1079.3L1126.1,1019.3L1120.7,959.3L1115.4,899.3L1110.1,839.3L1104.7,779.3L1099.4,719.3Z"/>
<path d="M1145.7,721.3L1153.7,795.4L1161.7,869.4L1169.8,943.4L1177.8,1017.5L1187.0,1096.5L1187.4,1102.7L1187.3,1108.5L1186.7,1113.8L1185.7,1118.8L1184.4,1123.4L1182.8,1127.8L1180.9,1131.9L1178.8,1135.9L1176.4,1139.8L1173.8,1143.6L1171.0,1147.3L1168.0,1151.1L1164.8,1154.9L1161.2,1159.2L1128.3,1204.5L1160.9,1218.5L1192.2,1173.7L1195.2,1170.1L1198.5,1166.0L1201.9,1161.7L1205.3,1157.1L1208.5,1152.3L1211.7,1147.2L1214.6,1141.8L1217.2,1136.1L1219.4,1130.0L1221.2,1123.6L1222.4,1116.8L1223.1,1109.6L1223.2,1102.0L1222.6,1093.9L1212.1,1014.9L1202.8,941.0L1193.6,867.0L1184.3,793.1L1175.1,719.1Z"/>
</g>
<g fill="#a4a4ae">
<path d="M71.9,19.2L83.9,-5.8L66.5,-12.3L54.5,12.7Z"/>
<path d="M551.5,18.8L559.5,-6.2L543.5,-11.3L535.5,13.7Z"/>
<path d="M1032.0,16.8L1031.0,-8.2L1014.1,-7.6L1015.1,17.4Z"/>
<path d="M1514.3,14.9L1505.3,-10.1L1488.4,-4.5L1497.4,20.5Z"/>
<path d="M150.0,70.5L222.0,70.5L229.0,70.9L235.1,72.1L240.1,74.0L244.1,76.6L246.8,79.6L248.7,82.5L250.2,85.2L251.3,87.9L252.2,90.6L252.7,93.4L252.8,96.4L252.5,99.5L251.7,102.7L250.4,105.9L248.5,109.2L246.3,112.1L243.8,114.8L240.8,117.3L237.4,119.8L233.5,122.3L229.3,124.7L224.7,127.3L219.7,129.9L214.6,132.6L209.2,135.5L203.8,138.7L198.2,142.3L192.7,146.2L187.3,150.6L182.1,155.5L177.2,161.0L172.6,167.0L188.2,174.5L191.9,169.4L195.8,164.9L200.1,160.7L204.6,157.0L209.2,153.6L214.1,150.5L219.0,147.5L224.0,144.8L229.0,142.1L234.0,139.4L239.0,136.8L243.8,134.0L248.4,131.1L252.9,128.0L257.0,124.5L260.9,120.7L264.3,116.4L267.2,111.7L269.4,106.8L270.8,101.7L271.4,96.6L271.1,91.6L270.2,86.5L268.7,81.5L266.7,76.4L263.7,71.4L259.2,66.9L253.5,63.1L246.8,60.1L239.3,57.9L231.0,56.6L222.0,56.1L150.0,56.1Z"/>
<path d="M410.0,57.1L335.0,57.1L326.2,57.5L318.0,58.6L310.3,60.4L303.2,62.9L296.8,66.1L291.0,69.8L286.1,74.1L282.0,78.8L278.7,83.8L276.3,89.2L274.8,94.8L274.3,100.4L274.6,106.2L275.9,111.9L278.0,117.1L280.2,122.1L283.0,126.9L286.1,131.4L289.3,135.5L292.6,139.5L295.8,143.5L299.1,147.7L302.3,152.2L305.5,157.0L308.7,162.4L311.9,168.5L315.1,175.4L332.7,169.9L329.3,162.2L325.8,155.4L322.4,149.3L318.9,143.8L315.5,138.9L312.2,134.4L308.9,130.4L305.8,126.8L302.9,123.3L300.1,119.9L297.7,116.3L295.7,112.1L294.0,108.2L293.0,104.5L292.8,100.8L293.0,97.1L293.9,93.5L295.2,90.1L297.1,86.7L299.7,83.6L302.8,80.6L306.6,78.0L311.0,75.7L316.0,73.9L321.7,72.5L328.1,71.7L335.0,71.5L410.0,71.5Z"/>
<path d="M655.0,68.5L722.0,68.5L728.6,68.9L734.6,70.0L739.8,71.7L744.2,74.0L747.7,76.8L750.4,79.8L752.5,82.7L754.3,85.6L755.7,88.4L756.8,91.3L757.5,94.2L757.9,97.1L757.9,100.1L757.4,103.0L756.5,105.9L755.2,108.6L752.9,111.9L750.2,115.1L747.1,118.1L743.7,121.0L739.9,123.9L735.8,126.9L731.5,129.9L726.9,133.2L722.2,136.8L717.5,140.7L712.8,145.1L708.3,150.0L704.0,155.6L700.1,161.7L696.7,168.6L713.9,173.8L716.5,168.1L719.5,163.1L722.9,158.6L726.4,154.5L730.2,150.8L734.3,147.4L738.5,144.2L742.8,141.1L747.1,138.0L751.5,134.9L755.9,131.6L760.1,128.1L764.2,124.3L768.0,120.0L771.5,115.2L773.9,110.6L775.5,105.9L776.3,101.0L776.4,96.1L775.8,91.3L774.6,86.4L772.9,81.6L770.8,76.7L767.8,71.9L763.6,67.5L758.5,63.7L752.6,60.3L745.9,57.7L738.5,55.7L730.5,54.5L722.0,54.1L655.0,54.1Z"/>
<path d="M916.0,54.1L840.0,54.1L830.9,54.5L822.5,55.7L814.6,57.8L807.5,60.6L801.1,64.1L795.5,68.1L790.7,72.7L786.8,77.6L783.7,82.9L781.5,88.3L780.1,93.9L779.5,99.6L779.8,105.3L781.0,110.8L783.0,116.3L786.1,121.6L789.9,126.3L794.1,130.4L798.5,134.2L803.0,137.7L807.6,141.1L812.1,144.6L816.5,148.2L820.8,152.0L825.0,156.1L829.0,160.4L832.8,165.2L836.4,170.4L839.8,176.1L856.9,169.2L853.1,162.2L849.0,155.9L844.6,150.1L839.9,145.0L835.1,140.4L830.3,136.2L825.7,132.5L821.2,129.0L817.0,125.8L813.2,122.8L809.6,120.0L806.3,117.2L803.2,114.3L800.7,111.0L799.1,107.5L798.3,103.8L798.0,100.0L798.3,96.1L799.2,92.3L800.5,88.6L802.4,85.1L804.8,81.7L807.9,78.5L811.6,75.7L815.9,73.2L820.9,71.2L826.6,69.6L832.9,68.7L840.0,68.5L916.0,68.5Z"/>
<path d="M1155.0,68.5L1222.0,68.5L1228.7,68.9L1234.8,70.0L1240.3,71.6L1245.0,73.9L1249.0,76.7L1252.2,79.8L1254.9,82.9L1257.1,85.9L1258.9,89.0L1260.2,92.0L1261.2,94.9L1261.8,97.9L1262.1,100.8L1261.8,103.6L1261.2,106.3L1260.0,109.0L1257.2,113.9L1254.2,118.4L1251.0,122.7L1247.6,126.9L1244.1,131.1L1240.5,135.5L1237.0,140.2L1233.5,145.2L1230.4,150.7L1227.7,156.8L1225.6,163.5L1224.1,170.8L1242.4,172.7L1243.5,166.7L1245.1,161.4L1247.1,156.6L1249.6,152.1L1252.3,147.9L1255.4,143.7L1258.8,139.6L1262.3,135.3L1266.0,130.8L1269.6,126.0L1273.2,120.8L1276.6,115.0L1278.8,110.4L1280.1,105.6L1280.6,100.6L1280.2,95.7L1279.2,90.8L1277.7,85.9L1275.7,81.0L1273.0,76.0L1269.4,71.4L1264.7,67.2L1259.2,63.4L1253.0,60.2L1246.1,57.6L1238.6,55.7L1230.5,54.5L1222.0,54.1L1155.0,54.1Z"/>
<path d="M1415.0,54.1L1350.0,54.1L1341.5,54.4L1333.4,55.5L1325.8,57.3L1318.8,59.7L1312.4,62.7L1306.6,66.3L1301.5,70.3L1297.0,74.6L1293.3,79.4L1290.3,84.3L1288.1,89.5L1286.6,94.8L1285.9,100.2L1286.0,105.6L1287.1,111.0L1289.1,116.4L1292.7,121.5L1296.8,125.8L1301.5,129.4L1306.4,132.5L1311.5,135.3L1316.6,138.0L1321.7,140.6L1326.7,143.4L1331.6,146.2L1336.4,149.1L1340.9,152.3L1345.1,155.7L1348.9,159.2L1352.4,163.0L1355.4,166.9L1358.1,171.1L1360.4,175.7L1377.8,169.6L1375.0,163.4L1371.6,157.5L1367.6,152.2L1363.0,147.4L1358.0,143.2L1352.8,139.5L1347.5,136.1L1342.2,133.0L1337.1,130.1L1332.1,127.4L1327.5,124.9L1323.2,122.4L1319.3,120.1L1315.8,117.8L1312.6,115.6L1309.4,113.4L1306.7,110.9L1305.3,107.8L1304.5,104.4L1304.4,100.9L1304.7,97.4L1305.6,93.8L1307.0,90.3L1308.9,86.8L1311.3,83.5L1314.2,80.4L1317.7,77.5L1321.8,74.9L1326.4,72.7L1331.5,70.8L1337.1,69.5L1343.3,68.7L1350.0,68.5L1415.0,68.5Z"/>
<path d="M1665.0,68.5L1720.0,68.5L1726.7,68.8L1733.1,69.8L1739.0,71.2L1744.5,73.2L1749.3,75.7L1753.5,78.7L1757.1,81.9L1760.0,85.1L1762.6,88.4L1764.7,91.7L1766.3,95.0L1767.5,98.3L1768.3,101.6L1786.6,99.1L1785.4,93.8L1783.6,88.6L1781.4,83.4L1778.4,78.3L1774.4,73.5L1769.6,69.3L1764.1,65.5L1757.9,62.1L1751.2,59.3L1744.0,57.1L1736.4,55.5L1728.3,54.5L1720.0,54.1L1665.0,54.1Z"/>
<path d="M1760.7,131.6L1744.7,168.6L1761.9,173.8L1777.9,136.8Z"/>
<path d="M6.2,96.6L-20.8,164.6L-1.3,169.8L25.7,101.8Z"/>
<path d="M59.6,96.7L35.3,161.0L11.0,225.3L-13.4,289.6L7.0,294.8L30.8,230.4L54.7,166.1L78.5,101.7Z"/>
<path d="M519.8,97.8L505.0,159.5L490.1,221.2L475.3,282.9L493.3,286.1L507.9,224.5L522.4,162.8L537.0,101.2Z"/>
<path d="M1023.6,100.8L1028.9,162.5L1034.3,224.2L1039.6,285.8L1057.3,284.5L1052.0,222.9L1046.7,161.2L1041.3,99.5Z"/>
<path d="M1534.5,103.0L1556.1,164.6L1577.6,226.3L1599.1,288.0L1619.7,283.3L1597.4,221.6L1575.1,159.9L1552.8,98.2Z"/>
<path d="M571.7,98.3L560.8,159.3L549.9,220.3L539.1,281.3L537.8,287.1L536.4,292.1L534.9,296.4L533.0,300.1L530.9,303.4L528.5,306.5L525.4,309.5L521.7,312.4L517.1,315.5L511.5,318.7L504.3,322.8L497.5,326.8L491.1,330.9L485.1,335.0L479.5,339.1L474.4,343.4L469.6,347.7L465.2,352.2L461.3,356.8L457.9,361.6L455.0,366.5L452.7,371.7L450.9,377.0L449.8,382.5L449.3,388.1L449.5,393.8L450.6,401.2L452.3,408.0L454.9,414.3L458.2,420.1L462.2,425.3L466.9,429.8L472.1,433.6L477.9,436.5L483.9,438.7L489.9,440.5L496.0,442.0L502.2,443.2L508.6,444.1L515.1,444.7L521.8,445.0L531.0,445.2L539.7,444.9L547.7,444.2L555.1,443.2L562.0,441.9L568.4,440.2L574.4,438.3L579.9,436.1L585.1,433.6L589.9,431.0L594.5,428.2L598.8,425.3L602.9,422.2L606.8,419.1L610.6,416.0L614.3,412.8L618.4,409.6L622.7,406.8L627.0,404.4L631.3,402.4L635.9,400.8L640.7,399.4L645.7,398.3L651.1,397.5L656.8,396.9L662.9,396.5L669.5,396.3L676.5,396.1L684.0,396.1L684.0,379.6L676.2,379.7L668.8,379.8L661.7,380.1L654.8,380.6L648.2,381.3L641.7,382.3L635.4,383.7L629.3,385.4L623.3,387.5L617.4,390.1L611.8,393.2L606.3,396.7L600.8,400.8L597.0,404.1L593.4,407.1L589.9,410.0L586.3,412.7L582.8,415.2L579.1,417.5L575.3,419.6L571.3,421.6L567.0,423.4L562.3,424.9L557.2,426.3L551.6,427.4L545.4,428.2L538.5,428.8L530.9,429.1L522.5,428.9L516.9,428.7L511.7,428.1L506.7,427.3L502.1,426.3L497.8,425.0L493.8,423.6L490.0,421.9L486.4,419.9L482.9,417.7L479.4,415.1L476.1,412.0L473.4,408.1L471.3,403.5L469.9,398.3L469.0,392.5L468.8,388.5L469.0,384.6L469.7,380.9L470.8,377.1L472.3,373.4L474.3,369.7L476.8,366.0L479.7,362.3L483.2,358.6L487.1,354.9L491.6,351.2L496.5,347.4L501.9,343.7L507.8,339.9L514.1,336.0L520.9,332.2L527.4,328.5L533.1,324.7L538.2,320.8L542.6,316.6L546.4,312.1L549.6,307.3L552.2,302.1L554.3,296.5L556.1,290.5L557.4,283.9L568.0,222.9L578.6,161.9L589.1,100.9Z"/>
<path d="M1080.7,101.1L1087.4,162.1L1094.2,223.1L1101.0,284.1L1101.5,291.4L1101.1,297.6L1100.2,302.9L1098.6,307.5L1096.7,311.4L1094.3,315.0L1091.6,318.2L1088.5,321.1L1085.1,324.0L1081.4,326.6L1077.8,329.1L1071.2,333.5L1065.2,338.2L1059.9,343.3L1055.3,348.8L1051.5,354.5L1048.4,360.4L1046.2,366.6L1044.7,372.9L1044.0,379.3L1044.0,385.8L1044.6,392.3L1045.7,398.6L1047.3,404.7L1049.5,410.5L1052.3,415.9L1055.8,420.9L1059.8,425.4L1064.3,429.4L1069.3,432.8L1074.8,435.5L1080.5,437.8L1086.3,439.7L1092.3,441.4L1098.5,442.8L1104.9,444.0L1111.5,444.9L1118.5,445.6L1125.7,446.1L1135.4,446.3L1144.4,446.1L1152.8,445.6L1160.5,444.7L1167.6,443.5L1174.3,442.0L1180.4,440.2L1186.0,438.2L1191.3,435.9L1196.1,433.4L1200.5,430.8L1204.7,428.0L1208.5,425.2L1212.1,422.3L1215.5,419.3L1218.6,416.4L1221.7,413.5L1224.6,410.6L1227.9,407.7L1231.3,405.3L1234.9,403.3L1238.8,401.7L1243.1,400.5L1247.9,399.6L1253.2,398.9L1259.1,398.5L1265.7,398.2L1273.0,398.1L1281.0,398.1L1281.0,381.6L1272.8,381.7L1265.1,381.8L1257.8,382.1L1251.0,382.6L1244.4,383.5L1238.0,384.7L1231.9,386.4L1225.9,388.8L1220.3,391.7L1215.1,395.2L1210.2,399.3L1207.1,402.3L1204.2,405.1L1201.2,407.9L1198.3,410.5L1195.3,413.0L1192.2,415.4L1189.0,417.6L1185.6,419.7L1181.9,421.7L1178.0,423.5L1173.6,425.1L1168.8,426.5L1163.4,427.8L1157.5,428.8L1150.9,429.6L1143.6,430.1L1135.6,430.2L1126.7,430.0L1120.4,429.5L1114.5,428.9L1109.0,428.1L1103.9,427.0L1099.1,425.7L1094.7,424.3L1090.6,422.7L1086.8,420.9L1083.2,418.9L1079.8,416.8L1076.5,414.4L1073.3,411.6L1070.4,408.4L1068.1,404.6L1066.2,400.3L1064.9,395.5L1063.9,390.3L1063.4,385.1L1063.3,380.1L1063.8,375.4L1064.7,370.8L1066.2,366.4L1068.2,362.0L1070.8,357.8L1074.1,353.7L1078.0,349.7L1082.7,345.8L1088.3,342.0L1092.7,339.1L1097.0,336.0L1101.4,332.4L1105.6,328.5L1109.6,324.0L1113.1,318.9L1116.1,313.1L1118.4,306.5L1119.8,299.3L1120.3,291.2L1119.7,282.4L1112.6,221.4L1105.5,160.4L1098.3,99.4Z"/>
<path d="M1589.0,103.1L1615.0,169.2L1641.1,235.3L1667.1,301.3L1668.4,306.5L1668.8,310.9L1668.4,314.5L1667.5,317.5L1665.9,320.4L1663.8,323.1L1661.1,325.9L1657.8,328.7L1654.0,331.6L1649.8,334.5L1645.7,337.5L1639.3,342.8L1634.2,348.9L1630.5,355.4L1628.2,362.3L1626.9,369.2L1626.7,376.1L1627.3,383.0L1628.9,389.8L1631.2,396.3L1634.4,402.5L1638.4,408.2L1641.8,412.3L1645.6,416.0L1649.8,419.5L1654.3,422.6L1659.2,425.4L1664.2,427.9L1669.4,430.2L1674.8,432.3L1680.3,434.2L1685.9,436.0L1691.6,437.7L1697.5,439.2L1703.6,440.6L1709.8,441.9L1716.2,443.1L1722.7,444.1L1729.4,445.1L1736.2,445.9L1743.2,446.5L1750.3,447.1L1757.5,447.6L1764.8,447.9L1772.3,448.2L1779.9,448.4L1780.3,431.1L1773.1,431.0L1766.0,430.8L1759.1,430.4L1752.3,430.0L1745.7,429.5L1739.2,428.9L1733.0,428.1L1726.9,427.3L1721.0,426.3L1715.3,425.2L1709.9,424.1L1704.6,422.8L1699.6,421.4L1694.9,419.9L1690.3,418.3L1686.0,416.6L1682.0,414.8L1678.1,412.9L1674.5,410.9L1671.1,408.8L1667.8,406.6L1664.7,404.3L1661.6,401.8L1658.7,399.1L1655.3,395.3L1652.5,390.8L1650.6,385.9L1649.3,380.9L1648.7,375.7L1648.8,370.7L1649.5,365.8L1650.9,361.3L1652.9,357.1L1655.6,353.3L1659.3,349.9L1663.5,346.9L1667.9,343.8L1672.3,340.4L1676.7,336.8L1680.8,332.7L1684.6,328.2L1687.6,323.0L1689.6,317.2L1690.3,310.7L1689.7,303.7L1687.8,296.0L1661.3,230.0L1634.8,164.1L1608.3,98.1Z"/>
<path d="M436.8,578.8L441.7,548.8L442.7,543.8L443.8,538.8L445.2,533.8L446.7,528.9L448.4,524.0L450.3,519.2L452.4,514.5L454.7,509.9L457.2,505.5L459.9,501.3L462.9,497.3L466.0,493.5L469.4,489.9L473.0,486.6L476.8,483.5L480.8,480.8L485.1,478.3L489.7,476.2L494.5,474.4L499.6,472.9L505.0,471.9L510.7,471.2L517.8,471.0L524.5,471.2L530.6,471.8L536.4,472.8L541.7,474.2L546.6,475.9L551.1,477.9L555.4,480.2L559.4,482.6L563.4,485.3L567.2,488.0L571.1,490.9L575.1,493.8L579.2,496.7L583.4,499.8L587.8,502.8L592.3,505.8L598.2,509.0L604.3,511.8L610.5,514.1L616.6,516.0L622.8,517.7L629.0,519.0L635.3,520.1L641.8,521.0L648.4,521.6L655.3,522.1L662.5,522.3L670.0,522.3L670.0,505.1L663.2,505.1L656.8,504.8L650.9,504.4L645.5,503.8L640.4,503.1L635.6,502.1L631.0,501.0L626.6,499.6L622.3,498.0L617.9,496.1L613.5,493.8L608.9,491.1L604.6,488.1L600.4,485.2L596.1,482.1L591.8,479.0L587.3,475.9L582.7,472.8L577.9,469.8L572.7,466.9L567.3,464.1L561.4,461.6L555.2,459.3L548.5,457.3L541.4,455.8L533.8,454.6L525.8,454.0L517.4,453.8L508.5,454.1L500.4,455.1L492.8,456.5L485.6,458.5L478.8,461.0L472.4,463.9L466.4,467.2L460.8,470.8L455.6,474.8L450.8,479.0L446.4,483.4L442.4,488.0L438.7,492.9L435.3,497.8L432.2,503.0L429.4,508.2L426.9,513.5L424.6,518.9L422.6,524.4L420.9,529.9L419.3,535.4L418.0,540.9L416.8,546.5L411.7,576.6Z"/>
<path d="M1082.0,578.0L1081.9,530.0L1082.0,523.8L1082.5,517.9L1083.4,512.4L1084.6,507.3L1086.1,502.5L1087.9,498.0L1090.1,493.9L1092.5,490.1L1095.3,486.6L1098.3,483.5L1101.7,480.7L1105.5,478.2L1109.6,476.0L1114.0,474.2L1118.8,472.7L1124.0,471.5L1129.5,470.7L1135.4,470.3L1143.1,470.2L1150.0,470.6L1156.3,471.5L1161.8,472.7L1166.9,474.4L1171.4,476.5L1175.5,478.8L1179.4,481.3L1183.2,484.0L1187.0,486.8L1191.1,489.7L1195.4,492.7L1200.0,495.7L1205.0,498.7L1210.6,501.7L1217.3,504.8L1223.9,507.6L1230.3,510.1L1236.8,512.3L1243.1,514.2L1249.5,515.8L1255.8,517.2L1262.2,518.4L1268.6,519.4L1275.0,520.2L1281.6,520.7L1288.2,521.1L1295.0,521.3L1302.0,521.3L1302.0,504.1L1295.7,504.1L1289.6,503.9L1283.8,503.5L1278.2,503.0L1272.8,502.3L1267.4,501.4L1262.2,500.3L1257.1,499.1L1251.9,497.6L1246.8,495.9L1241.6,493.9L1236.2,491.7L1230.8,489.1L1225.4,486.3L1220.9,483.7L1216.4,480.9L1212.0,477.9L1207.5,474.9L1203.0,471.8L1198.2,468.7L1193.2,465.7L1187.7,462.8L1181.8,460.1L1175.3,457.8L1168.2,455.8L1160.5,454.3L1152.3,453.4L1143.5,453.0L1134.0,453.1L1126.2,453.7L1118.6,454.8L1111.3,456.4L1104.3,458.5L1097.7,461.2L1091.6,464.3L1085.8,467.9L1080.6,471.9L1076.0,476.3L1071.8,481.1L1068.2,486.2L1065.1,491.6L1062.5,497.3L1060.5,503.3L1058.9,509.6L1057.7,516.1L1057.0,522.9L1056.8,530.0L1056.6,578.0Z"/>
<path d="M1732.2,576.8L1718.9,525.7L1717.5,520.1L1716.6,514.9L1716.1,509.9L1716.2,505.2L1716.7,500.8L1717.7,496.9L1719.0,493.2L1720.8,489.9L1723.1,486.9L1725.9,484.2L1729.3,481.8L1733.5,479.8L1738.4,478.2L1744.1,477.0L1750.6,476.3L1780.5,474.3L1778.8,457.1L1748.6,459.1L1739.6,460.2L1731.3,461.9L1723.6,464.4L1716.6,467.6L1710.3,471.5L1704.9,476.0L1700.5,481.0L1697.1,486.4L1694.5,492.0L1692.8,497.9L1691.9,503.9L1691.7,510.1L1692.0,516.4L1693.0,522.8L1694.5,529.3L1707.0,580.2Z"/>
<path d="M-9.6,434.0L-5.8,430.8L-1.9,427.6L2.1,424.6L6.3,421.6L10.6,418.8L15.0,416.1L19.6,413.5L24.5,411.2L29.5,408.9L34.8,406.9L40.4,405.1L46.2,403.5L52.3,402.1L58.8,401.0L65.5,400.2L72.7,399.6L80.1,399.3L79.7,382.1L71.3,382.5L63.2,383.1L55.5,384.1L48.1,385.4L41.0,387.0L34.2,388.8L27.7,390.9L21.5,393.2L15.6,395.8L9.9,398.5L4.5,401.4L-0.7,404.5L-5.6,407.7L-10.3,411.0L-14.9,414.4L-19.2,417.9L-23.4,421.4Z"/>
<path d="M-11.8,525.0L26.2,524.0L25.6,504.6L-12.4,505.6Z"/>
<path d="M-28.0,659.3L-22.7,661.2L-17.7,663.5L-12.9,666.2L-8.4,669.1L-4.3,672.3L-0.7,675.6L2.6,679.1L5.5,682.5L8.0,685.9L10.1,689.3L11.7,692.7L12.9,696.0L13.9,699.3L14.4,702.6L14.6,706.0L14.4,710.4L13.7,714.5L12.7,718.6L11.3,722.5L9.6,726.4L7.5,730.2L5.0,734.0L2.1,737.8L-1.2,741.6L-4.8,745.4L-8.9,749.2L-13.2,753.0L-18.0,756.9L-23.0,760.7L-28.3,764.6L-33.9,768.6L-16.5,785.2L-10.5,781.1L-4.6,776.8L1.0,772.6L6.3,768.2L11.5,763.8L16.3,759.4L20.8,754.8L25.1,750.0L28.9,745.2L32.4,740.1L35.5,734.9L38.1,729.5L40.2,724.0L41.8,718.2L42.8,712.2L43.1,706.0L42.8,699.9L41.8,694.0L40.2,688.2L38.3,682.5L35.8,676.8L32.7,671.2L28.8,666.1L24.1,661.3L18.9,656.9L13.2,652.9L7.2,649.2L0.9,645.9L-5.7,643.0L-12.5,640.4L-19.4,638.2Z"/>
<path d="M240.0,637.2L165.0,636.9L157.1,637.1L149.3,637.6L141.7,638.5L134.3,639.8L127.1,641.4L120.2,643.4L113.4,645.7L107.0,648.3L100.7,651.2L94.8,654.4L89.1,657.9L83.7,661.6L78.6,665.6L73.8,669.8L69.3,674.2L65.2,678.8L61.3,683.6L57.8,688.5L54.7,693.7L51.8,699.0L49.4,704.4L47.3,709.9L45.5,715.6L44.2,721.3L43.2,727.2L42.6,733.0L42.4,740.5L43.0,747.8L44.2,754.9L46.0,761.6L48.4,768.0L51.1,774.1L54.0,780.0L57.1,785.6L60.3,790.9L63.4,796.1L66.5,801.2L69.3,806.1L72.0,810.9L74.3,815.6L76.4,820.2L78.1,824.6L79.3,828.7L80.6,833.7L81.7,838.5L82.6,843.0L83.3,847.2L83.9,851.5L84.3,856.0L84.5,860.7L84.6,866.0L113.1,866.0L113.1,860.0L112.8,854.4L112.4,849.1L111.7,843.9L110.9,838.9L109.8,833.8L108.6,828.5L107.2,822.9L105.5,816.9L103.4,811.1L101.0,805.6L98.4,800.1L95.6,794.9L92.7,789.7L89.6,784.7L86.6,779.8L83.6,775.0L80.8,770.2L78.1,765.4L75.8,760.5L73.9,755.6L72.4,750.6L71.4,745.4L71.0,740.1L71.1,734.5L71.5,729.9L72.1,725.4L73.1,720.9L74.4,716.5L75.9,712.2L77.7,708.0L79.8,703.8L82.1,699.8L84.7,695.9L87.6,692.1L90.7,688.4L94.1,684.9L97.7,681.6L101.6,678.5L105.7,675.5L110.0,672.7L114.6,670.2L119.4,667.9L124.4,665.8L129.6,663.9L135.0,662.4L140.7,661.0L146.5,660.0L152.5,659.3L158.6,658.9L165.0,658.8L240.0,658.7Z"/>
<path d="M570.0,658.7L655.0,658.8L660.5,659.1L665.7,659.9L670.7,661.1L675.3,662.8L679.4,664.9L683.1,667.5L686.3,670.4L689.1,673.5L691.7,676.6L694.1,679.8L696.4,683.1L698.5,686.5L700.4,690.2L702.2,694.0L703.7,698.1L705.0,702.4L706.1,706.9L706.9,711.7L707.4,716.7L707.6,722.0L707.4,726.4L706.8,730.7L705.9,734.8L704.7,738.7L703.2,742.6L701.3,746.4L699.2,750.1L696.8,753.8L694.2,757.5L691.3,761.1L688.1,764.8L684.7,768.4L681.2,772.1L677.5,775.8L673.6,779.5L669.6,783.2L665.6,787.0L661.4,790.8L657.3,794.7L653.1,798.7L649.0,802.8L645.0,807.0L641.0,811.3L637.2,815.8L633.5,820.5L630.1,825.3L626.9,830.4L623.4,837.2L617.0,862.6L644.7,867.8L650.2,844.5L651.8,841.2L654.1,837.2L656.8,833.3L659.7,829.4L662.9,825.5L666.3,821.7L669.9,817.9L673.7,814.1L677.6,810.3L681.6,806.5L685.6,802.7L689.8,798.9L693.9,795.0L698.0,791.1L702.1,787.1L706.1,783.0L710.0,778.8L713.8,774.5L717.4,770.1L720.8,765.5L724.0,760.8L726.9,755.9L729.5,750.8L731.7,745.5L733.6,739.9L734.9,734.2L735.8,728.2L736.1,722.0L736.0,715.3L735.3,708.8L734.3,702.5L732.9,696.4L731.1,690.5L729.1,684.8L726.8,679.2L724.2,673.7L721.2,668.3L717.6,663.2L713.4,658.5L708.6,654.2L703.2,650.3L697.4,646.8L691.1,643.8L684.5,641.4L677.5,639.4L670.2,638.1L662.7,637.2L655.0,636.9L570.0,637.2Z"/>
<path d="M927.0,639.2L845.0,638.9L837.4,639.1L829.9,639.7L822.6,640.7L815.5,642.1L808.6,643.9L802.0,646.1L795.7,648.7L789.6,651.7L783.9,655.0L778.5,658.7L773.4,662.7L768.7,667.0L764.4,671.6L760.5,676.5L757.0,681.6L753.8,687.0L751.1,692.6L748.8,698.4L746.9,704.4L745.5,710.5L744.4,716.9L743.8,723.4L743.6,730.0L743.9,737.2L744.9,744.2L746.5,750.8L748.6,757.1L751.2,763.1L754.2,768.8L757.6,774.1L761.2,779.2L765.0,784.0L769.0,788.5L773.0,792.9L777.0,797.1L781.0,801.2L784.9,805.2L788.7,809.1L792.4,812.9L795.8,816.7L799.1,820.5L802.1,824.2L804.8,828.0L807.1,831.7L809.2,835.3L810.9,839.0L812.4,842.6L813.1,845.0L815.8,867.7L844.2,865.0L841.2,840.3L839.5,834.1L837.6,828.8L835.3,823.6L832.8,818.5L829.9,813.7L826.8,809.0L823.4,804.6L819.8,800.3L816.2,796.2L812.4,792.2L808.6,788.4L804.8,784.6L801.1,780.9L797.4,777.2L793.8,773.6L790.3,770.0L786.9,766.3L783.7,762.5L780.8,758.6L778.3,754.5L776.1,750.1L774.5,745.5L773.2,740.6L772.5,735.5L772.1,730.0L772.3,724.7L772.7,719.5L773.4,714.5L774.5,709.8L775.8,705.1L777.5,700.7L779.4,696.5L781.5,692.5L784.0,688.6L786.7,685.0L789.7,681.6L792.9,678.4L796.4,675.5L800.2,672.8L804.2,670.3L808.5,668.1L813.0,666.2L817.7,664.5L822.7,663.1L828.0,662.1L833.4,661.3L839.1,660.9L845.0,660.8L927.0,660.7Z"/>
<path d="M1248.0,658.7L1335.0,658.8L1340.9,659.1L1346.5,659.8L1351.8,660.9L1356.7,662.3L1361.3,664.2L1365.5,666.4L1369.3,669.0L1372.7,671.8L1375.8,674.9L1378.7,677.9L1381.4,681.1L1383.9,684.3L1386.4,687.6L1388.7,691.0L1390.8,694.6L1392.7,698.3L1394.5,702.1L1396.1,706.1L1397.5,710.2L1398.7,714.4L1399.8,718.8L1400.6,723.2L1401.1,727.7L1401.5,732.3L1401.6,737.0L1401.3,741.8L1400.7,746.3L1399.7,750.6L1398.4,754.7L1396.7,758.7L1394.8,762.7L1392.5,766.6L1390.0,770.5L1387.2,774.5L1384.2,778.5L1381.1,782.6L1377.7,786.7L1374.3,791.0L1370.8,795.4L1367.3,799.9L1363.9,804.7L1360.5,809.7L1357.4,815.0L1354.5,820.5L1351.8,826.3L1349.6,832.5L1347.7,839.9L1345.6,864.9L1374.0,866.6L1375.9,843.1L1376.9,838.9L1378.4,834.3L1380.3,829.8L1382.5,825.4L1384.9,821.1L1387.7,816.9L1390.6,812.7L1393.8,808.4L1397.1,804.2L1400.5,800.0L1403.9,795.7L1407.4,791.3L1410.8,786.9L1414.1,782.2L1417.2,777.5L1420.2,772.5L1422.9,767.2L1425.3,761.8L1427.3,756.0L1428.8,750.0L1429.8,743.6L1430.1,737.0L1430.0,731.2L1429.6,725.5L1428.9,719.9L1427.9,714.3L1426.7,708.8L1425.1,703.4L1423.4,698.1L1421.4,692.9L1419.2,687.7L1416.8,682.7L1414.1,677.6L1411.2,672.7L1407.8,668.0L1403.9,663.5L1399.5,659.2L1394.7,655.3L1389.5,651.7L1383.9,648.3L1377.8,645.4L1371.4,642.9L1364.7,640.8L1357.7,639.1L1350.4,637.9L1342.8,637.2L1335.0,636.9L1248.0,637.2Z"/>
<path d="M1602.0,637.2L1510.0,636.9L1502.2,637.2L1494.6,638.1L1487.3,639.7L1480.3,641.9L1473.8,644.6L1467.8,647.9L1462.2,651.7L1457.2,655.9L1452.6,660.4L1448.5,665.3L1444.9,670.4L1441.8,675.8L1439.1,681.4L1436.8,687.2L1434.9,693.1L1433.3,699.3L1432.2,705.5L1431.4,711.9L1430.9,718.4L1430.8,725.0L1431.1,731.7L1431.7,738.6L1433.1,744.8L1435.2,750.6L1437.9,756.1L1441.3,761.2L1445.1,766.0L1449.3,770.4L1453.8,774.6L1458.5,778.5L1463.4,782.2L1468.4,785.7L1473.6,789.1L1478.8,792.4L1484.0,795.7L1489.3,798.9L1494.5,802.1L1499.7,805.4L1504.8,808.6L1509.7,811.9L1514.5,815.2L1519.1,818.5L1523.5,821.9L1527.6,825.3L1531.3,828.7L1534.8,832.1L1537.8,835.5L1540.5,838.9L1542.8,842.2L1544.6,845.4L1544.8,846.7L1549.0,868.8L1577.2,864.4L1572.2,839.2L1570.4,832.5L1567.7,827.4L1564.6,822.5L1561.0,817.9L1556.9,813.6L1552.4,809.5L1547.8,805.6L1542.9,801.9L1538.0,798.3L1532.9,794.8L1527.7,791.4L1522.6,788.1L1517.5,784.9L1512.4,781.7L1507.4,778.6L1502.6,775.5L1497.9,772.5L1493.3,769.4L1489.0,766.5L1484.9,763.5L1481.0,760.6L1477.3,757.8L1473.8,755.0L1470.5,752.2L1467.4,749.4L1464.7,746.4L1462.6,743.2L1461.1,739.7L1460.2,736.1L1459.7,730.5L1459.4,724.8L1459.4,719.3L1459.8,713.8L1460.4,708.6L1461.2,703.5L1462.4,698.6L1463.8,693.9L1465.4,689.4L1467.3,685.2L1469.5,681.3L1471.8,677.6L1474.4,674.2L1477.3,671.1L1480.4,668.3L1483.8,665.8L1487.4,663.7L1491.3,661.9L1495.5,660.5L1500.0,659.5L1504.8,658.9L1510.0,658.8L1602.0,658.7Z"/>
<path d="M380.8,717.5L367.6,777.1L354.3,836.7L341.1,896.4L327.8,956.0L314.6,1015.7L301.3,1075.3L328.5,1079.4L341.4,1019.8L354.2,960.1L367.1,900.4L380.0,840.7L392.8,781.0L405.7,721.4Z"/>
<path d="M454.2,718.1L442.1,784.0L430.0,849.9L417.8,915.9L405.7,981.8L393.6,1047.9L392.4,1054.5L391.3,1060.9L390.2,1067.2L389.0,1073.3L387.7,1079.3L386.4,1085.2L385.0,1090.8L383.5,1096.3L381.9,1101.6L380.2,1106.8L378.4,1111.7L376.5,1116.4L374.5,1121.0L372.3,1125.3L370.0,1129.4L367.6,1133.3L365.1,1137.0L363.4,1139.2L291.6,1201.5L318.7,1219.9L390.9,1155.2L395.2,1150.1L398.6,1145.3L401.6,1140.4L404.4,1135.3L407.0,1130.1L409.4,1124.7L411.6,1119.2L413.5,1113.5L415.4,1107.7L417.0,1101.9L418.5,1095.9L419.9,1089.8L421.2,1083.5L422.4,1077.2L423.6,1070.8L424.6,1064.3L425.7,1057.8L426.6,1051.2L437.3,985.2L448.0,919.2L458.7,853.1L469.4,787.1L480.1,721.0Z"/>
<path d="M1071.7,721.0L1076.6,781.0L1081.5,841.0L1086.4,901.0L1091.3,961.0L1096.2,1021.1L1101.2,1081.1L1128.9,1079.4L1123.6,1019.4L1118.3,959.4L1113.0,899.4L1107.7,839.4L1102.4,779.4L1097.1,719.4Z"/>
<path d="M1145.7,721.3L1153.7,795.3L1161.8,869.4L1169.8,943.4L1177.9,1017.5L1187.1,1096.5L1187.4,1102.7L1187.3,1108.5L1186.7,1113.8L1185.8,1118.8L1184.5,1123.4L1182.8,1127.8L1180.9,1131.9L1178.8,1135.9L1176.4,1139.8L1173.8,1143.6L1171.0,1147.3L1168.0,1151.1L1164.8,1154.9L1161.2,1159.2L1128.3,1204.5L1157.8,1217.2L1189.3,1172.3L1192.2,1168.6L1195.6,1164.6L1198.9,1160.3L1202.3,1155.9L1205.6,1151.2L1208.7,1146.2L1211.5,1140.9L1214.1,1135.4L1216.4,1129.5L1218.1,1123.2L1219.4,1116.5L1220.1,1109.5L1220.2,1102.0L1219.7,1094.1L1209.3,1015.1L1200.1,941.2L1191.0,867.2L1181.8,793.2L1172.7,719.3Z"/>
</g>
<g fill="#d0d0d9">
<path d="M70.2,18.6L82.2,-6.4L66.5,-12.3L54.5,12.7Z"/>
<path d="M550.0,18.3L558.0,-6.7L543.5,-11.3L535.5,13.7Z"/>
<path d="M1030.5,16.8L1029.5,-8.2L1014.1,-7.6L1015.1,17.4Z"/>
<path d="M1512.9,15.4L1503.9,-9.6L1488.4,-4.5L1497.4,20.5Z"/>
<path d="M150.0,68.7L222.0,68.7L229.2,69.3L235.5,70.6L240.8,72.7L244.8,75.6L247.4,79.0L249.1,82.2L250.5,85.1L251.5,87.8L252.3,90.6L252.7,93.4L252.9,96.4L252.5,99.5L251.7,102.7L250.4,105.9L248.5,109.2L246.3,112.1L243.8,114.8L240.8,117.3L237.4,119.8L233.5,122.3L229.3,124.7L224.7,127.3L219.8,129.9L214.6,132.6L209.2,135.5L203.8,138.8L198.2,142.3L192.7,146.2L187.4,150.6L182.1,155.5L177.2,161.0L172.6,167.0L186.6,173.7L190.3,168.5L194.3,163.8L198.7,159.6L203.2,155.8L208.0,152.3L212.9,149.1L217.8,146.1L222.9,143.3L227.9,140.6L232.9,138.0L237.8,135.4L242.6,132.6L247.2,129.8L251.5,126.7L255.6,123.4L259.3,119.8L262.6,115.7L265.5,111.1L267.7,106.4L269.1,101.5L269.7,96.6L269.5,91.7L268.7,86.9L267.4,82.0L265.8,76.9L263.2,71.8L258.9,67.2L253.3,63.3L246.7,60.2L239.2,58.0L231.0,56.6L222.0,56.1L150.0,56.1Z"/>
<path d="M410.0,57.1L335.0,57.1L326.2,57.5L318.0,58.6L310.3,60.4L303.2,62.9L296.8,66.1L291.0,69.8L286.1,74.1L282.0,78.8L278.7,83.8L276.3,89.2L274.8,94.8L274.3,100.4L274.6,106.2L275.9,111.9L278.1,117.1L280.3,122.1L283.2,126.9L286.4,131.2L289.6,135.3L292.9,139.3L296.1,143.4L299.4,147.6L302.5,152.0L305.7,156.9L308.9,162.4L312.1,168.5L315.3,175.4L331.3,170.3L328.0,162.7L324.6,155.9L321.3,149.8L318.0,144.3L314.6,139.3L311.4,134.9L308.1,130.9L304.9,127.2L301.9,123.8L299.0,120.4L296.3,116.7L294.2,112.5L292.4,108.6L291.4,104.7L291.1,100.8L291.3,96.9L292.2,93.1L293.6,89.4L295.6,85.9L298.2,82.5L301.5,79.4L305.4,76.6L310.0,74.2L315.3,72.2L321.3,70.8L327.8,70.0L335.0,69.7L410.0,69.7Z"/>
<path d="M655.0,66.7L722.0,66.7L728.8,67.2L735.0,68.4L740.4,70.3L744.9,72.9L748.3,76.0L750.9,79.3L752.9,82.4L754.6,85.4L755.9,88.4L756.9,91.3L757.6,94.2L757.9,97.1L757.9,100.1L757.4,103.0L756.5,105.9L755.2,108.6L752.9,112.0L750.2,115.1L747.1,118.1L743.7,121.0L739.9,123.9L735.8,126.9L731.5,129.9L726.9,133.2L722.2,136.8L717.5,140.7L712.8,145.1L708.3,150.0L704.0,155.6L700.2,161.7L696.7,168.6L712.2,173.3L714.9,167.5L717.9,162.3L721.3,157.7L724.9,153.5L728.8,149.7L732.9,146.2L737.1,142.9L741.5,139.8L745.8,136.7L750.2,133.6L754.5,130.4L758.7,127.0L762.6,123.3L766.4,119.2L769.8,114.6L772.2,110.2L773.8,105.6L774.7,100.9L774.8,96.2L774.2,91.5L773.1,86.8L771.7,82.1L769.9,77.2L767.2,72.3L763.3,67.8L758.3,63.9L752.5,60.5L745.8,57.8L738.5,55.8L730.5,54.6L722.0,54.1L655.0,54.1Z"/>
<path d="M916.0,54.1L840.0,54.1L830.9,54.5L822.5,55.8L814.6,57.8L807.5,60.6L801.1,64.1L795.5,68.1L790.7,72.7L786.8,77.6L783.7,82.9L781.5,88.3L780.1,93.9L779.6,99.6L779.9,105.3L781.0,110.8L783.1,116.2L786.3,121.5L790.2,126.1L794.4,130.2L798.9,133.8L803.5,137.3L808.1,140.7L812.6,144.1L817.0,147.8L821.3,151.6L825.4,155.8L829.3,160.2L833.1,165.0L836.6,170.3L839.9,176.1L855.7,169.7L852.1,162.7L848.2,156.3L844.0,150.5L839.4,145.3L834.7,140.7L830.0,136.5L825.3,132.8L820.8,129.3L816.6,126.1L812.7,123.2L809.0,120.4L805.4,117.7L802.0,114.8L799.3,111.4L797.6,107.8L796.6,103.9L796.4,99.9L796.6,95.9L797.5,92.0L798.8,88.1L800.8,84.3L803.3,80.7L806.5,77.3L810.4,74.3L814.9,71.7L820.1,69.5L826.1,67.9L832.7,67.0L840.0,66.7L916.0,66.7Z"/>
<path d="M1155.0,66.7L1222.0,66.7L1228.9,67.2L1235.2,68.4L1240.9,70.2L1245.7,72.8L1249.7,75.8L1252.8,79.2L1255.3,82.5L1257.4,85.7L1259.1,88.8L1260.4,91.9L1261.3,94.9L1261.9,97.9L1262.1,100.8L1261.8,103.6L1261.2,106.3L1260.0,109.0L1257.2,113.9L1254.2,118.4L1251.0,122.7L1247.6,126.9L1244.1,131.1L1240.5,135.5L1237.0,140.2L1233.6,145.2L1230.4,150.7L1227.7,156.8L1225.6,163.5L1224.1,170.8L1240.7,172.5L1241.8,166.4L1243.4,161.0L1245.5,156.0L1247.9,151.4L1250.7,147.1L1253.8,142.8L1257.2,138.6L1260.7,134.4L1264.4,130.0L1268.0,125.2L1271.6,120.1L1275.0,114.4L1277.1,110.0L1278.4,105.4L1278.9,100.6L1278.6,95.9L1277.7,91.1L1276.3,86.4L1274.7,81.4L1272.3,76.5L1268.9,71.7L1264.4,67.4L1259.1,63.6L1252.9,60.4L1246.1,57.7L1238.6,55.8L1230.5,54.6L1222.0,54.1L1155.0,54.1Z"/>
<path d="M1415.0,54.1L1350.0,54.1L1341.5,54.5L1333.4,55.5L1325.8,57.3L1318.8,59.7L1312.4,62.8L1306.6,66.3L1301.5,70.3L1297.0,74.7L1293.3,79.4L1290.3,84.3L1288.1,89.5L1286.6,94.8L1285.9,100.2L1286.1,105.6L1287.1,111.0L1289.3,116.4L1292.9,121.4L1297.2,125.6L1301.9,129.1L1306.9,132.0L1312.1,134.7L1317.2,137.2L1322.3,139.8L1327.4,142.5L1332.3,145.3L1337.1,148.4L1341.5,151.6L1345.7,155.1L1349.4,158.9L1352.8,162.7L1355.7,166.7L1358.3,171.0L1360.5,175.6L1376.5,170.1L1373.9,163.9L1370.8,158.0L1367.1,152.6L1362.6,147.8L1357.7,143.5L1352.6,139.7L1347.3,136.3L1342.1,133.2L1336.9,130.3L1332.0,127.6L1327.3,125.1L1323.0,122.7L1319.0,120.4L1315.4,118.1L1311.9,116.0L1308.4,113.9L1305.3,111.3L1303.7,108.1L1302.9,104.5L1302.7,100.9L1303.0,97.1L1303.9,93.4L1305.3,89.7L1307.2,86.1L1309.7,82.6L1312.8,79.3L1316.5,76.2L1320.7,73.5L1325.5,71.1L1330.8,69.2L1336.7,67.8L1343.1,66.9L1350.0,66.7L1415.0,66.7Z"/>
<path d="M1665.0,66.7L1720.0,66.7L1726.9,67.2L1733.5,68.2L1739.6,69.8L1745.1,71.9L1750.0,74.6L1754.2,77.8L1757.6,81.3L1760.5,84.8L1763.0,88.2L1764.9,91.6L1766.5,94.9L1767.6,98.3L1768.3,101.6L1785.0,99.3L1783.9,94.2L1782.3,89.0L1780.4,83.8L1777.7,78.7L1774.0,73.9L1769.3,69.6L1763.9,65.7L1757.8,62.3L1751.1,59.5L1744.0,57.2L1736.3,55.5L1728.3,54.5L1720.0,54.1L1665.0,54.1Z"/>
<path d="M1760.7,131.6L1744.7,168.6L1760.2,173.3L1776.2,136.3Z"/>
<path d="M6.2,96.6L-20.8,164.6L-3.2,169.3L23.8,101.3Z"/>
<path d="M59.6,96.7L35.3,161.0L11.0,225.3L-13.4,289.6L5.0,294.3L28.9,229.9L52.8,165.6L76.7,101.2Z"/>
<path d="M519.8,97.8L505.0,159.5L490.1,221.2L475.3,282.9L491.6,285.8L506.2,224.2L520.8,162.5L535.4,100.9Z"/>
<path d="M1023.6,100.8L1029.0,162.5L1034.3,224.2L1039.6,285.8L1055.7,284.7L1050.4,223.0L1045.1,161.3L1039.7,99.7Z"/>
<path d="M1534.6,103.0L1556.1,164.6L1577.7,226.3L1599.2,287.9L1617.9,283.6L1595.7,222.0L1573.5,160.3L1551.2,98.6Z"/>
<path d="M571.7,98.4L560.8,159.3L549.9,220.3L539.1,281.3L537.8,287.1L536.5,292.1L534.9,296.4L533.0,300.1L530.9,303.4L528.5,306.5L525.4,309.5L521.7,312.4L517.1,315.5L511.5,318.7L504.3,322.8L497.5,326.8L491.1,330.9L485.1,335.0L479.5,339.1L474.4,343.4L469.6,347.7L465.2,352.2L461.3,356.8L457.9,361.6L455.0,366.5L452.7,371.7L450.9,377.0L449.8,382.5L449.3,388.1L449.5,393.8L450.6,401.2L452.4,408.0L455.0,414.3L458.4,420.0L462.5,425.1L467.3,429.5L472.7,433.1L478.5,435.7L484.6,437.6L490.6,439.2L496.6,440.5L502.7,441.5L509.0,442.3L515.3,442.9L521.9,443.1L531.0,443.2L539.5,442.9L547.4,442.3L554.7,441.3L561.4,440.0L567.7,438.4L573.5,436.5L578.9,434.3L583.9,432.0L588.7,429.4L593.1,426.7L597.4,423.8L601.4,420.8L605.3,417.8L609.1,414.6L612.8,411.5L617.0,408.1L621.4,405.2L625.8,402.7L630.4,400.6L635.1,398.9L640.0,397.5L645.2,396.4L650.7,395.5L656.5,394.9L662.8,394.5L669.4,394.3L676.4,394.2L684.0,394.1L684.0,379.7L676.2,379.7L668.8,379.9L661.7,380.1L654.8,380.6L648.2,381.3L641.7,382.3L635.4,383.7L629.3,385.4L623.3,387.6L617.4,390.1L611.8,393.2L606.3,396.7L600.8,400.8L597.0,404.1L593.4,407.1L589.9,410.0L586.3,412.7L582.8,415.2L579.1,417.5L575.3,419.7L571.3,421.6L567.0,423.4L562.3,424.9L557.2,426.3L551.6,427.4L545.4,428.3L538.5,428.8L530.9,429.1L522.5,429.0L516.9,428.7L511.7,428.2L506.7,427.4L502.1,426.4L497.7,425.2L493.6,423.8L489.7,422.2L486.0,420.3L482.3,418.1L478.5,415.7L474.9,412.5L471.9,408.6L469.7,403.9L468.2,398.6L467.2,392.7L467.0,388.5L467.2,384.4L467.9,380.5L469.0,376.6L470.6,372.7L472.6,368.9L475.1,365.0L478.2,361.2L481.7,357.4L485.7,353.6L490.2,349.8L495.2,346.0L500.7,342.2L506.6,338.3L513.0,334.5L519.8,330.6L526.2,327.0L531.8,323.3L536.7,319.5L541.0,315.5L544.8,311.2L547.9,306.6L550.5,301.6L552.6,296.1L554.3,290.2L555.7,283.7L566.3,222.7L576.9,161.7L587.5,100.7Z"/>
<path d="M1080.7,101.1L1087.5,162.1L1094.3,223.1L1101.1,284.1L1101.5,291.4L1101.2,297.6L1100.2,302.9L1098.6,307.5L1096.7,311.4L1094.3,315.0L1091.6,318.2L1088.5,321.2L1085.1,324.0L1081.4,326.7L1077.8,329.1L1071.2,333.5L1065.2,338.2L1059.9,343.3L1055.3,348.8L1051.5,354.5L1048.5,360.4L1046.2,366.6L1044.7,372.9L1044.0,379.3L1044.0,385.8L1044.6,392.3L1045.7,398.6L1047.4,404.7L1049.6,410.5L1052.5,415.9L1056.0,420.8L1060.1,425.2L1064.7,429.0L1069.9,432.2L1075.4,434.7L1081.2,436.7L1087.0,438.4L1093.0,439.9L1099.0,441.2L1105.3,442.3L1111.9,443.1L1118.7,443.8L1125.8,444.2L1135.4,444.4L1144.3,444.2L1152.5,443.7L1160.1,442.8L1167.1,441.6L1173.6,440.1L1179.6,438.4L1185.1,436.4L1190.1,434.2L1194.8,431.8L1199.2,429.3L1203.2,426.6L1207.0,423.8L1210.5,420.9L1213.9,418.0L1217.0,415.1L1220.1,412.2L1223.0,409.4L1226.5,406.3L1230.1,403.7L1233.9,401.6L1238.0,399.9L1242.5,398.6L1247.4,397.6L1252.9,396.9L1259.0,396.5L1265.6,396.3L1272.9,396.2L1281.0,396.1L1281.0,381.7L1272.8,381.7L1265.1,381.8L1257.8,382.1L1251.0,382.7L1244.4,383.5L1238.0,384.7L1231.9,386.4L1226.0,388.8L1220.3,391.7L1215.1,395.2L1210.2,399.3L1207.1,402.3L1204.2,405.1L1201.2,407.9L1198.3,410.5L1195.3,413.0L1192.2,415.4L1189.0,417.6L1185.6,419.7L1181.9,421.7L1178.0,423.5L1173.6,425.1L1168.8,426.6L1163.4,427.8L1157.5,428.8L1150.9,429.6L1143.6,430.1L1135.6,430.2L1126.7,430.0L1120.4,429.6L1114.5,429.0L1109.0,428.1L1103.8,427.1L1099.0,425.9L1094.6,424.5L1090.4,422.9L1086.5,421.2L1082.9,419.3L1079.3,417.2L1075.7,414.9L1072.2,412.2L1069.1,408.9L1066.6,405.0L1064.6,400.6L1063.2,395.8L1062.2,390.5L1061.6,385.2L1061.5,380.1L1062.0,375.2L1062.9,370.4L1064.4,365.8L1066.5,361.3L1069.2,356.9L1072.5,352.6L1076.6,348.4L1081.4,344.4L1087.1,340.5L1091.4,337.7L1095.7,334.6L1099.9,331.2L1104.1,327.4L1108.0,323.0L1111.5,318.1L1114.4,312.5L1116.7,306.2L1118.1,299.1L1118.6,291.2L1118.0,282.5L1110.9,221.5L1103.8,160.5L1096.8,99.5Z"/>
<path d="M1589.1,103.1L1615.1,169.2L1641.2,235.2L1667.2,301.2L1668.5,306.5L1668.8,310.9L1668.4,314.5L1667.5,317.5L1665.9,320.4L1663.8,323.1L1661.1,325.9L1657.8,328.7L1654.0,331.6L1649.8,334.5L1645.7,337.5L1639.3,342.8L1634.2,348.9L1630.5,355.5L1628.2,362.3L1626.9,369.2L1626.7,376.1L1627.4,383.0L1628.9,389.8L1631.3,396.3L1634.6,402.5L1638.6,408.1L1642.1,412.1L1646.1,415.8L1650.3,419.1L1655.0,422.1L1659.9,424.7L1665.0,427.0L1670.3,429.1L1675.6,431.1L1681.1,432.9L1686.7,434.5L1692.4,436.1L1698.2,437.6L1704.2,438.9L1710.4,440.1L1716.7,441.3L1723.2,442.2L1729.8,443.1L1736.6,443.9L1743.5,444.6L1750.5,445.1L1757.7,445.6L1765.0,445.9L1772.4,446.2L1779.9,446.3L1780.3,431.2L1773.1,431.0L1766.0,430.8L1759.1,430.5L1752.3,430.1L1745.7,429.5L1739.2,428.9L1733.0,428.2L1726.9,427.3L1721.0,426.4L1715.3,425.3L1709.8,424.2L1704.6,422.9L1699.6,421.5L1694.8,420.1L1690.2,418.5L1685.9,416.8L1681.8,415.1L1677.9,413.2L1674.2,411.2L1670.7,409.2L1667.3,407.0L1663.9,404.7L1660.6,402.3L1657.4,399.7L1653.7,395.8L1650.8,391.2L1648.7,386.3L1647.3,381.0L1646.7,375.8L1646.8,370.5L1647.5,365.5L1648.9,360.7L1650.9,356.2L1653.8,352.1L1657.7,348.5L1661.9,345.5L1666.3,342.4L1670.7,339.1L1675.0,335.6L1679.0,331.7L1682.6,327.4L1685.6,322.5L1687.6,316.9L1688.4,310.7L1687.8,304.0L1686.1,296.5L1659.6,230.5L1633.1,164.5L1606.7,98.5Z"/>
<path d="M434.5,578.6L439.4,548.6L440.4,543.6L441.5,538.5L442.8,533.4L444.4,528.4L446.1,523.5L448.0,518.6L450.1,513.9L452.4,509.2L455.0,504.7L457.7,500.4L460.7,496.3L463.9,492.4L467.3,488.7L471.0,485.3L474.9,482.1L479.1,479.2L483.6,476.6L488.4,474.4L493.4,472.5L498.8,470.9L504.5,469.8L510.4,469.2L517.8,469.0L524.6,469.2L531.0,469.9L536.9,470.9L542.4,472.4L547.4,474.3L552.0,476.4L556.3,478.9L560.4,481.5L564.3,484.3L568.1,487.2L572.0,490.1L575.9,493.1L580.0,496.1L584.2,499.1L588.6,502.1L593.1,505.1L599.1,508.2L605.2,510.7L611.4,512.8L617.5,514.6L623.6,516.0L629.7,517.2L635.9,518.3L642.2,519.0L648.7,519.6L655.5,520.0L662.6,520.2L670.0,520.3L670.0,505.2L663.2,505.1L656.8,504.9L650.9,504.5L645.5,503.9L640.4,503.2L635.6,502.2L631.0,501.1L626.5,499.8L622.1,498.2L617.7,496.4L613.2,494.1L608.6,491.4L604.3,488.5L600.0,485.5L595.7,482.5L591.4,479.4L587.0,476.2L582.4,473.1L577.6,470.1L572.5,467.1L567.1,464.3L561.3,461.7L555.1,459.4L548.5,457.4L541.3,455.9L533.8,454.7L525.8,454.0L517.4,453.8L508.5,454.2L500.4,455.1L492.9,456.6L485.6,458.5L478.8,461.0L472.4,463.9L466.4,467.2L460.8,470.8L455.6,474.8L450.8,479.0L446.4,483.4L442.4,488.0L438.7,492.9L435.3,497.8L432.2,503.0L429.4,508.2L426.9,513.5L424.7,518.9L422.6,524.4L420.9,529.9L419.3,535.4L418.0,540.9L416.8,546.5L411.7,576.6Z"/>
<path d="M1079.7,578.0L1079.6,530.0L1079.8,523.7L1080.2,517.8L1081.1,512.2L1082.3,506.9L1083.8,502.0L1085.7,497.3L1087.8,493.1L1090.3,489.1L1093.2,485.5L1096.4,482.2L1099.9,479.2L1103.8,476.5L1108.1,474.2L1112.8,472.3L1117.9,470.7L1123.3,469.5L1129.1,468.6L1135.3,468.2L1143.2,468.2L1150.3,468.6L1156.7,469.5L1162.5,470.9L1167.7,472.8L1172.3,475.0L1176.4,477.5L1180.3,480.3L1184.1,483.1L1187.9,486.1L1191.9,489.0L1196.2,492.0L1200.8,495.0L1205.8,498.0L1211.4,500.8L1218.3,503.7L1224.8,506.4L1231.3,508.8L1237.7,510.8L1244.0,512.6L1250.2,514.1L1256.5,515.5L1262.8,516.6L1269.0,517.5L1275.4,518.2L1281.8,518.7L1288.4,519.1L1295.1,519.3L1302.0,519.3L1302.0,504.2L1295.7,504.1L1289.6,503.9L1283.8,503.5L1278.2,503.0L1272.7,502.3L1267.4,501.5L1262.2,500.4L1257.0,499.2L1251.9,497.7L1246.7,496.1L1241.4,494.1L1236.1,491.9L1230.6,489.4L1225.1,486.6L1220.6,484.0L1216.1,481.2L1211.6,478.2L1207.2,475.2L1202.7,472.1L1197.9,469.0L1192.9,466.0L1187.5,463.0L1181.6,460.3L1175.2,457.9L1168.1,455.9L1160.5,454.4L1152.3,453.4L1143.5,453.0L1134.0,453.2L1126.2,453.8L1118.6,454.9L1111.3,456.5L1104.4,458.6L1097.8,461.2L1091.6,464.3L1085.9,467.9L1080.6,471.9L1076.0,476.3L1071.8,481.1L1068.2,486.2L1065.1,491.6L1062.5,497.3L1060.5,503.3L1058.9,509.6L1057.7,516.1L1057.1,522.9L1056.8,530.0L1056.6,578.0Z"/>
<path d="M1730.0,577.1L1716.8,526.0L1715.3,520.4L1714.4,515.0L1713.9,509.9L1714.0,505.1L1714.5,500.6L1715.4,496.4L1716.8,492.5L1718.7,489.0L1721.1,485.7L1724.1,482.7L1727.8,480.2L1732.3,478.0L1737.6,476.2L1743.6,474.9L1750.4,474.2L1780.3,472.2L1778.8,457.2L1748.6,459.2L1739.7,460.2L1731.4,461.9L1723.6,464.4L1716.6,467.6L1710.3,471.5L1704.9,476.0L1700.5,481.0L1697.1,486.4L1694.5,492.0L1692.9,497.9L1691.9,503.9L1691.7,510.1L1692.1,516.4L1693.1,522.8L1694.6,529.3L1707.1,580.1Z"/>
<path d="M-11.1,432.6L-7.3,429.3L-3.4,426.1L0.7,423.0L4.9,420.0L9.2,417.1L13.8,414.4L18.5,411.8L23.4,409.3L28.6,407.1L34.0,405.0L39.6,403.1L45.6,401.5L51.8,400.1L58.4,399.0L65.3,398.1L72.5,397.5L80.1,397.2L79.7,382.1L71.3,382.5L63.3,383.1L55.5,384.1L48.1,385.4L41.0,387.0L34.2,388.8L27.7,390.9L21.5,393.2L15.6,395.8L9.9,398.5L4.5,401.4L-0.7,404.5L-5.6,407.7L-10.3,411.0L-14.9,414.4L-19.2,417.9L-23.4,421.4Z"/>
<path d="M-11.9,522.6L26.1,521.6L25.6,504.7L-12.4,505.7Z"/>
<path d="M-27.1,657.1L-21.7,659.2L-16.6,661.7L-11.8,664.6L-7.3,667.7L-3.3,671.1L0.3,674.8L3.4,678.4L6.1,682.0L8.5,685.6L10.5,689.1L12.0,692.6L13.1,696.0L13.9,699.3L14.5,702.6L14.6,706.0L14.4,710.4L13.7,714.5L12.7,718.6L11.3,722.5L9.6,726.4L7.5,730.2L5.0,734.0L2.1,737.8L-1.2,741.6L-4.8,745.4L-8.9,749.2L-13.2,753.0L-17.9,756.9L-23.0,760.7L-28.3,764.6L-33.9,768.6L-18.5,783.3L-12.5,779.2L-6.7,775.0L-1.2,770.8L4.1,766.5L9.2,762.2L14.0,757.8L18.5,753.3L22.6,748.7L26.4,744.0L29.9,739.1L32.9,734.1L35.5,728.9L37.6,723.4L39.1,717.8L40.1,712.0L40.5,706.0L40.3,700.2L39.4,694.5L38.0,688.8L36.4,683.2L34.4,677.5L31.7,671.9L28.0,666.6L23.6,661.7L18.5,657.3L12.9,653.2L7.0,649.5L0.7,646.2L-5.8,643.2L-12.6,640.6L-19.5,638.4Z"/>
<path d="M240.0,637.2L165.0,637.0L157.1,637.1L149.3,637.7L141.7,638.6L134.3,639.8L127.1,641.5L120.2,643.4L113.4,645.7L107.0,648.3L100.7,651.2L94.8,654.4L89.1,657.9L83.7,661.6L78.6,665.6L73.8,669.8L69.3,674.2L65.2,678.8L61.3,683.6L57.8,688.5L54.7,693.7L51.9,699.0L49.4,704.4L47.3,709.9L45.5,715.6L44.2,721.3L43.2,727.2L42.6,733.0L42.4,740.5L43.0,747.8L44.3,754.9L46.1,761.6L48.5,768.0L51.2,774.1L54.2,779.9L57.4,785.5L60.5,790.8L63.7,796.0L66.7,801.1L69.6,806.0L72.2,810.8L74.6,815.5L76.6,820.1L78.2,824.5L79.4,828.7L80.7,833.7L81.8,838.5L82.7,842.9L83.4,847.2L83.9,851.5L84.3,855.9L84.5,860.7L84.6,866.0L110.5,866.0L110.5,860.1L110.2,854.5L109.8,849.3L109.2,844.2L108.4,839.2L107.4,834.2L106.2,829.0L104.8,823.4L103.2,817.5L101.2,811.9L99.0,806.3L96.5,800.9L93.8,795.7L90.9,790.5L87.8,785.5L84.8,780.6L81.7,775.7L78.7,770.9L76.0,766.1L73.5,761.1L71.5,756.1L69.9,750.9L68.9,745.6L68.4,740.1L68.4,734.4L68.8,729.7L69.5,725.0L70.5,720.4L71.8,715.9L73.3,711.4L75.1,707.1L77.2,702.8L79.6,698.6L82.3,694.6L85.2,690.7L88.4,686.9L91.8,683.3L95.6,679.8L99.5,676.5L103.8,673.5L108.2,670.6L112.9,667.9L117.9,665.5L123.1,663.4L128.5,661.4L134.1,659.8L139.9,658.4L145.9,657.4L152.1,656.6L158.5,656.2L165.0,656.2L240.0,656.1Z"/>
<path d="M570.0,656.1L655.0,656.2L660.8,656.6L666.3,657.4L671.4,658.8L676.2,660.7L680.5,663.1L684.2,665.9L687.3,669.2L690.0,672.6L692.4,676.0L694.7,679.4L696.9,682.8L698.9,686.3L700.7,690.0L702.4,693.9L703.9,698.0L705.1,702.3L706.2,706.9L707.0,711.7L707.5,716.7L707.6,722.0L707.4,726.4L706.8,730.7L705.9,734.8L704.7,738.7L703.2,742.6L701.3,746.4L699.2,750.1L696.8,753.8L694.2,757.5L691.3,761.1L688.1,764.8L684.7,768.5L681.2,772.1L677.5,775.8L673.6,779.5L669.6,783.2L665.6,787.0L661.4,790.8L657.3,794.7L653.1,798.7L649.0,802.8L645.0,807.0L641.0,811.3L637.2,815.8L633.5,820.5L630.1,825.3L626.9,830.4L623.4,837.2L617.0,862.6L642.0,867.3L647.7,843.8L649.3,840.1L651.7,836.0L654.4,831.9L657.3,827.9L660.6,824.0L664.0,820.1L667.6,816.2L671.4,812.4L675.3,808.6L679.3,804.8L683.4,801.0L687.5,797.1L691.6,793.3L695.7,789.4L699.8,785.4L703.8,781.4L707.6,777.3L711.4,773.1L715.0,768.8L718.3,764.3L721.5,759.7L724.3,754.9L726.9,750.0L729.1,744.8L730.9,739.4L732.3,733.8L733.2,728.0L733.5,722.0L733.4,715.4L732.8,709.1L731.8,702.9L730.5,696.9L728.9,691.1L727.0,685.5L725.0,679.9L722.7,674.4L720.1,669.0L716.8,663.8L712.8,659.0L708.1,654.6L702.9,650.7L697.2,647.1L691.0,644.1L684.4,641.5L677.5,639.6L670.2,638.1L662.7,637.3L655.0,637.0L570.0,637.2Z"/>
<path d="M927.0,639.2L845.0,639.0L837.4,639.1L829.9,639.7L822.6,640.7L815.5,642.1L808.6,643.9L802.0,646.1L795.7,648.7L789.6,651.7L783.9,655.0L778.5,658.7L773.4,662.7L768.7,667.0L764.4,671.6L760.5,676.5L757.0,681.6L753.9,687.0L751.1,692.6L748.8,698.4L746.9,704.4L745.5,710.5L744.4,716.9L743.8,723.4L743.6,730.0L744.0,737.2L745.0,744.2L746.6,750.8L748.7,757.1L751.4,763.1L754.4,768.7L757.9,774.0L761.6,779.0L765.5,783.7L769.4,788.3L773.5,792.6L777.5,796.8L781.6,800.8L785.5,804.8L789.3,808.7L792.9,812.5L796.4,816.4L799.6,820.2L802.5,823.9L805.2,827.7L807.5,831.5L809.5,835.2L811.1,838.9L812.5,842.5L813.1,845.0L815.8,867.7L841.7,865.3L838.7,840.7L837.3,834.8L835.6,829.5L833.5,824.4L831.2,819.3L828.6,814.5L825.6,809.8L822.4,805.3L818.9,801.0L815.2,796.9L811.5,792.9L807.7,789.0L803.9,785.2L800.1,781.5L796.3,777.9L792.6,774.3L788.9,770.7L785.4,767.1L782.0,763.3L778.9,759.4L776.1,755.2L773.8,750.7L772.0,746.0L770.7,740.9L769.9,735.6L769.5,730.0L769.6,724.6L770.1,719.3L770.8,714.2L771.9,709.2L773.2,704.5L774.9,699.9L776.8,695.5L779.0,691.4L781.5,687.4L784.3,683.6L787.4,680.0L790.7,676.7L794.4,673.6L798.3,670.7L802.5,668.1L806.9,665.8L811.7,663.7L816.6,662.0L821.9,660.6L827.3,659.4L833.0,658.7L838.9,658.2L845.0,658.2L927.0,658.1Z"/>
<path d="M1248.0,656.1L1335.0,656.2L1341.1,656.5L1346.9,657.3L1352.4,658.5L1357.5,660.1L1362.3,662.2L1366.6,664.6L1370.4,667.5L1373.8,670.6L1376.7,673.9L1379.5,677.2L1382.0,680.5L1384.5,683.9L1386.9,687.3L1389.1,690.8L1391.1,694.4L1393.0,698.2L1394.7,702.1L1396.2,706.1L1397.6,710.2L1398.8,714.4L1399.8,718.7L1400.6,723.2L1401.2,727.7L1401.5,732.3L1401.6,737.0L1401.4,741.8L1400.7,746.3L1399.7,750.6L1398.4,754.7L1396.7,758.7L1394.8,762.7L1392.5,766.6L1390.0,770.5L1387.2,774.5L1384.2,778.5L1381.1,782.6L1377.7,786.7L1374.3,791.0L1370.8,795.4L1367.3,799.9L1363.9,804.7L1360.6,809.7L1357.4,815.0L1354.5,820.5L1351.9,826.3L1349.6,832.5L1347.7,839.9L1345.6,864.9L1371.4,866.5L1373.3,842.8L1374.3,838.3L1375.8,833.5L1377.7,828.9L1379.9,824.4L1382.4,819.9L1385.2,815.6L1388.2,811.3L1391.4,807.1L1394.7,802.8L1398.0,798.6L1401.5,794.3L1404.9,790.0L1408.3,785.6L1411.6,781.0L1414.7,776.3L1417.7,771.5L1420.3,766.4L1422.7,761.1L1424.7,755.5L1426.2,749.6L1427.1,743.5L1427.5,737.0L1427.5,731.3L1427.1,725.7L1426.4,720.2L1425.4,714.7L1424.2,709.3L1422.8,704.0L1421.2,698.8L1419.3,693.6L1417.3,688.5L1415.1,683.4L1412.7,678.4L1410.0,673.4L1406.9,668.6L1403.2,664.0L1399.0,659.7L1394.3,655.7L1389.2,652.0L1383.6,648.7L1377.7,645.6L1371.4,643.0L1364.7,640.9L1357.6,639.2L1350.3,638.0L1342.8,637.2L1335.0,637.0L1248.0,637.2Z"/>
<path d="M1602.0,637.2L1510.0,637.0L1502.2,637.2L1494.6,638.1L1487.3,639.7L1480.4,641.9L1473.8,644.6L1467.8,647.9L1462.2,651.7L1457.2,655.9L1452.6,660.4L1448.5,665.3L1444.9,670.4L1441.8,675.8L1439.1,681.4L1436.8,687.2L1434.9,693.1L1433.3,699.3L1432.2,705.5L1431.4,711.9L1431.0,718.4L1430.9,725.0L1431.1,731.7L1431.8,738.6L1433.2,744.8L1435.3,750.6L1438.1,756.0L1441.6,761.1L1445.5,765.8L1449.8,770.1L1454.4,774.1L1459.1,777.9L1464.1,781.5L1469.2,785.0L1474.4,788.3L1479.7,791.5L1485.0,794.7L1490.2,797.9L1495.5,801.1L1500.6,804.3L1505.7,807.5L1510.7,810.8L1515.5,814.1L1520.0,817.5L1524.3,821.0L1528.4,824.5L1532.1,828.0L1535.4,831.5L1538.4,835.1L1541.0,838.5L1543.2,841.9L1545.0,845.2L1544.9,846.7L1549.1,868.8L1574.7,864.8L1569.9,839.8L1568.8,833.3L1566.5,828.2L1563.6,823.2L1560.1,818.6L1556.2,814.2L1551.9,810.0L1547.3,806.1L1542.5,802.3L1537.5,798.7L1532.5,795.2L1527.4,791.8L1522.2,788.5L1517.1,785.3L1512.0,782.1L1507.1,779.0L1502.2,775.9L1497.4,772.9L1492.9,769.9L1488.5,767.0L1484.3,764.0L1480.3,761.2L1476.5,758.4L1472.7,755.7L1469.1,753.0L1465.7,750.2L1462.7,747.1L1460.3,743.8L1458.7,740.1L1457.7,736.3L1457.1,730.6L1456.8,724.8L1456.8,719.2L1457.2,713.7L1457.8,708.3L1458.6,703.1L1459.8,698.1L1461.2,693.2L1462.8,688.6L1464.8,684.3L1466.9,680.1L1469.4,676.3L1472.1,672.7L1475.1,669.4L1478.3,666.4L1481.9,663.7L1485.8,661.4L1490.0,659.5L1494.5,657.9L1499.3,656.9L1504.5,656.3L1510.0,656.2L1602.0,656.1Z"/>
<path d="M380.8,717.5L367.6,777.1L354.3,836.8L341.1,896.4L327.8,956.0L314.6,1015.7L301.3,1075.3L325.9,1079.1L338.8,1019.4L351.7,959.7L364.7,900.0L377.6,840.3L390.5,780.7L403.4,721.0Z"/>
<path d="M454.2,718.1L442.1,784.0L430.0,849.9L417.8,915.9L405.7,981.8L393.6,1047.9L392.5,1054.5L391.3,1060.9L390.2,1067.2L389.0,1073.3L387.7,1079.3L386.4,1085.2L385.0,1090.8L383.5,1096.3L381.9,1101.6L380.2,1106.8L378.4,1111.7L376.5,1116.4L374.5,1121.0L372.3,1125.3L370.1,1129.4L367.6,1133.3L365.1,1137.0L363.4,1139.2L291.6,1201.5L315.7,1217.8L387.9,1153.5L392.1,1148.7L395.4,1144.1L398.4,1139.3L401.2,1134.3L403.8,1129.2L406.2,1123.9L408.4,1118.4L410.3,1112.9L412.2,1107.2L413.8,1101.3L415.4,1095.4L416.8,1089.3L418.1,1083.2L419.3,1076.9L420.5,1070.5L421.5,1064.0L422.6,1057.5L423.5,1050.9L434.3,984.9L445.2,918.8L456.0,852.8L466.8,786.8L477.7,720.8Z"/>
<path d="M1071.7,721.0L1076.6,781.0L1081.5,841.0L1086.4,901.0L1091.4,961.0L1096.3,1021.1L1101.2,1081.1L1126.4,1079.6L1121.2,1019.6L1115.9,959.6L1110.6,899.6L1105.3,839.6L1100.1,779.6L1094.8,719.6Z"/>
<path d="M1145.8,721.3L1153.8,795.3L1161.8,869.4L1169.9,943.4L1177.9,1017.5L1187.1,1096.5L1187.5,1102.7L1187.3,1108.5L1186.7,1113.8L1185.8,1118.8L1184.5,1123.4L1182.8,1127.8L1181.0,1131.9L1178.8,1135.9L1176.4,1139.8L1173.8,1143.6L1171.0,1147.4L1168.0,1151.1L1164.8,1154.9L1161.2,1159.2L1128.3,1204.5L1154.7,1215.9L1186.3,1171.0L1189.3,1167.2L1192.6,1163.1L1196.0,1158.9L1199.3,1154.6L1202.6,1150.0L1205.6,1145.2L1208.5,1140.1L1211.1,1134.6L1213.3,1128.9L1215.1,1122.8L1216.4,1116.3L1217.1,1109.4L1217.3,1102.1L1216.8,1094.4L1206.4,1015.4L1197.4,941.4L1188.3,867.4L1179.3,793.4L1170.2,719.5Z"/>
</g>
<g fill="#ededf3">
<path d="M68.3,17.8L80.3,-7.2L66.5,-12.3L54.5,12.7Z"/>
<path d="M548.3,17.7L556.3,-7.3L543.6,-11.3L535.6,13.7Z"/>
<path d="M1028.8,16.9L1027.8,-8.1L1014.1,-7.6L1015.1,17.4Z"/>
<path d="M1511.3,15.9L1502.3,-9.1L1488.5,-4.6L1497.5,20.4Z"/>
<path d="M150.0,66.8L222.0,66.8L229.5,67.4L236.0,68.9L241.5,71.2L245.5,74.5L248.0,78.3L249.6,81.9L250.8,84.9L251.7,87.8L252.3,90.6L252.8,93.4L252.9,96.4L252.5,99.5L251.7,102.7L250.4,105.9L248.5,109.2L246.3,112.1L243.8,114.8L240.8,117.3L237.4,119.8L233.5,122.3L229.3,124.8L224.7,127.3L219.8,129.9L214.6,132.6L209.2,135.6L203.8,138.8L198.3,142.3L192.8,146.2L187.4,150.6L182.1,155.5L177.2,161.0L172.6,167.0L184.8,172.8L188.6,167.5L192.7,162.7L197.1,158.4L201.7,154.4L206.6,150.8L211.5,147.6L216.6,144.5L221.6,141.7L226.7,139.0L231.7,136.4L236.6,133.8L241.2,131.1L245.7,128.3L250.0,125.4L254.0,122.2L257.6,118.7L260.8,114.8L263.7,110.5L265.8,105.9L267.2,101.3L267.8,96.6L267.7,91.9L266.9,87.3L266.0,82.5L264.8,77.4L262.6,72.2L258.6,67.5L253.2,63.5L246.7,60.3L239.2,58.1L230.9,56.7L222.0,56.2L150.0,56.2Z"/>
<path d="M410.0,57.2L335.0,57.2L326.2,57.5L318.0,58.6L310.3,60.4L303.2,62.9L296.8,66.1L291.1,69.8L286.1,74.1L282.0,78.8L278.7,83.8L276.3,89.2L274.9,94.8L274.3,100.4L274.7,106.2L276.0,111.8L278.2,117.1L280.5,122.0L283.4,126.8L286.6,131.1L289.9,135.2L293.2,139.2L296.5,143.2L299.7,147.4L302.8,151.9L306.0,156.8L309.1,162.3L312.2,168.4L315.4,175.3L329.8,170.8L326.5,163.2L323.3,156.4L320.1,150.3L316.9,144.8L313.7,139.8L310.4,135.4L307.2,131.4L304.0,127.8L300.8,124.3L297.7,120.9L294.8,117.2L292.6,113.0L290.7,108.9L289.6,104.8L289.2,100.7L289.5,96.7L290.3,92.6L291.7,88.7L293.8,84.9L296.5,81.4L300.0,78.0L304.1,75.0L309.0,72.5L314.6,70.4L320.8,68.9L327.6,68.0L335.0,67.8L410.0,67.8Z"/>
<path d="M655.0,64.8L722.0,64.8L729.1,65.4L735.5,66.7L741.1,68.8L745.6,71.6L749.1,75.1L751.5,78.8L753.4,82.1L754.9,85.3L756.1,88.3L757.0,91.3L757.6,94.2L758.0,97.1L757.9,100.1L757.5,103.0L756.5,105.9L755.3,108.6L752.9,112.0L750.2,115.1L747.1,118.1L743.7,121.0L739.9,123.9L735.8,126.9L731.5,130.0L726.9,133.2L722.2,136.8L717.5,140.7L712.8,145.1L708.3,150.0L704.0,155.6L700.2,161.7L696.8,168.6L710.3,172.7L713.0,166.8L716.1,161.4L719.6,156.7L723.3,152.4L727.2,148.4L731.4,144.9L735.7,141.5L740.0,138.4L744.4,135.3L748.7,132.2L753.0,129.1L757.1,125.8L761.0,122.2L764.6,118.2L768.0,113.8L770.3,109.6L771.9,105.3L772.8,100.8L772.9,96.3L772.4,91.8L771.5,87.3L770.4,82.6L768.9,77.7L766.6,72.7L762.9,68.2L758.1,64.2L752.3,60.7L745.8,57.9L738.4,55.9L730.5,54.6L722.0,54.2L655.0,54.2Z"/>
<path d="M916.0,54.2L840.0,54.2L831.0,54.5L822.5,55.8L814.6,57.8L807.5,60.6L801.1,64.1L795.5,68.1L790.7,72.7L786.8,77.6L783.7,82.9L781.5,88.3L780.1,93.9L779.6,99.6L779.9,105.3L781.1,110.8L783.3,116.2L786.5,121.4L790.5,125.9L794.9,129.9L799.4,133.5L804.0,136.8L808.7,140.2L813.2,143.6L817.6,147.3L821.8,151.2L825.8,155.4L829.7,159.9L833.4,164.8L836.9,170.1L840.1,176.0L854.4,170.2L851.0,163.3L847.3,156.8L843.3,151.0L838.9,145.8L834.3,141.1L829.6,136.9L824.9,133.1L820.5,129.7L816.2,126.5L812.2,123.6L808.4,120.8L804.5,118.2L800.8,115.4L797.7,111.9L795.8,108.1L794.8,104.1L794.5,99.9L794.7,95.7L795.6,91.5L797.0,87.4L799.0,83.4L801.6,79.6L804.9,76.0L809.0,72.8L813.8,70.0L819.3,67.7L825.5,66.0L832.4,65.1L840.0,64.8L916.0,64.8Z"/>
<path d="M1155.0,64.8L1222.0,64.8L1229.1,65.4L1235.7,66.6L1241.5,68.7L1246.5,71.5L1250.5,74.9L1253.5,78.6L1255.8,82.1L1257.8,85.5L1259.4,88.7L1260.5,91.9L1261.4,94.9L1261.9,97.9L1262.1,100.8L1261.8,103.6L1261.2,106.3L1260.0,109.0L1257.2,113.9L1254.2,118.4L1251.0,122.7L1247.6,126.9L1244.1,131.1L1240.5,135.5L1237.0,140.2L1233.6,145.2L1230.4,150.7L1227.7,156.8L1225.6,163.5L1224.1,170.8L1238.8,172.3L1240.0,166.1L1241.6,160.5L1243.6,155.4L1246.1,150.6L1248.9,146.2L1252.1,141.9L1255.5,137.6L1259.0,133.4L1262.6,129.0L1266.2,124.3L1269.8,119.3L1273.1,113.8L1275.2,109.6L1276.5,105.2L1277.0,100.7L1276.8,96.1L1276.0,91.5L1274.9,86.9L1273.5,82.0L1271.6,76.9L1268.4,72.1L1264.1,67.8L1258.9,63.9L1252.8,60.5L1246.0,57.8L1238.5,55.9L1230.5,54.6L1222.0,54.2L1155.0,54.2Z"/>
<path d="M1415.0,54.2L1350.0,54.2L1341.5,54.5L1333.4,55.6L1325.8,57.3L1318.8,59.8L1312.4,62.8L1306.6,66.3L1301.5,70.3L1297.0,74.7L1293.3,79.4L1290.3,84.3L1288.1,89.5L1286.6,94.8L1285.9,100.2L1286.1,105.6L1287.2,111.0L1289.4,116.3L1293.2,121.3L1297.6,125.3L1302.4,128.6L1307.6,131.4L1312.8,133.9L1317.9,136.3L1323.1,138.9L1328.1,141.5L1333.1,144.4L1337.8,147.5L1342.2,150.9L1346.3,154.6L1349.9,158.4L1353.2,162.4L1356.1,166.5L1358.6,170.9L1360.7,175.6L1375.0,170.6L1372.7,164.4L1370.0,158.5L1366.5,153.0L1362.2,148.2L1357.4,143.9L1352.3,140.0L1347.1,136.6L1341.8,133.4L1336.7,130.6L1331.8,127.9L1327.1,125.4L1322.7,123.0L1318.7,120.7L1314.9,118.5L1311.2,116.5L1307.3,114.4L1303.8,111.8L1301.9,108.4L1301.0,104.7L1300.8,100.8L1301.2,96.9L1302.0,92.9L1303.5,89.0L1305.4,85.2L1308.0,81.5L1311.2,78.0L1315.0,74.8L1319.4,71.9L1324.4,69.4L1330.0,67.4L1336.2,65.9L1342.8,65.0L1350.0,64.8L1415.0,64.8Z"/>
<path d="M1665.0,64.8L1720.0,64.8L1727.1,65.3L1733.9,66.4L1740.1,68.1L1745.8,70.5L1750.8,73.4L1754.9,76.9L1758.3,80.7L1761.0,84.4L1763.3,87.9L1765.2,91.4L1766.6,94.9L1767.7,98.2L1768.4,101.6L1783.2,99.6L1782.2,94.6L1780.9,89.6L1779.3,84.4L1777.0,79.2L1773.5,74.3L1769.0,69.9L1763.7,65.9L1757.7,62.5L1751.1,59.6L1743.9,57.3L1736.3,55.6L1728.3,54.6L1720.0,54.2L1665.0,54.2Z"/>
<path d="M1760.7,131.6L1744.7,168.6L1758.3,172.7L1774.3,135.7Z"/>
<path d="M6.2,96.6L-20.8,164.6L-5.3,168.7L21.7,100.7Z"/>
<path d="M59.6,96.7L35.3,161.0L11.0,225.3L-13.3,289.6L2.9,293.7L26.8,229.4L50.7,165.0L74.6,100.7Z"/>
<path d="M519.8,97.8L505.0,159.5L490.1,221.2L475.3,282.9L489.7,285.5L504.3,223.8L519.0,162.2L533.6,100.5Z"/>
<path d="M1023.7,100.8L1029.0,162.5L1034.3,224.2L1039.7,285.8L1054.0,284.8L1048.6,223.1L1043.3,161.5L1038.0,99.8Z"/>
<path d="M1534.7,103.0L1556.2,164.6L1577.8,226.3L1599.3,287.9L1616.0,284.1L1593.8,222.4L1571.7,160.7L1549.5,99.1Z"/>
<path d="M571.7,98.4L560.8,159.3L549.9,220.3L539.1,281.3L537.9,287.1L536.5,292.1L534.9,296.4L533.1,300.1L531.0,303.4L528.5,306.5L525.4,309.5L521.7,312.5L517.1,315.5L511.5,318.8L504.3,322.8L497.5,326.9L491.1,330.9L485.1,335.0L479.6,339.1L474.4,343.4L469.6,347.7L465.2,352.2L461.3,356.8L457.9,361.6L455.0,366.5L452.7,371.7L451.0,377.0L449.8,382.5L449.4,388.1L449.5,393.8L450.6,401.1L452.5,408.0L455.1,414.3L458.6,419.9L462.8,424.9L467.7,429.2L473.2,432.5L479.3,434.8L485.4,436.4L491.4,437.6L497.3,438.7L503.3,439.6L509.3,440.3L515.6,440.8L522.0,441.0L531.0,441.1L539.4,440.8L547.1,440.1L554.2,439.1L560.8,437.8L566.8,436.3L572.5,434.5L577.7,432.4L582.6,430.1L587.2,427.7L591.6,425.0L595.8,422.2L599.7,419.3L603.6,416.3L607.4,413.1L611.1,410.0L615.5,406.5L620.0,403.4L624.6,400.8L629.3,398.6L634.2,396.8L639.3,395.3L644.7,394.2L650.3,393.3L656.3,392.7L662.6,392.3L669.3,392.1L676.4,392.0L684.0,391.9L684.0,379.7L676.2,379.7L668.8,379.9L661.7,380.2L654.8,380.7L648.2,381.4L641.7,382.4L635.4,383.7L629.3,385.4L623.3,387.6L617.4,390.2L611.8,393.2L606.3,396.7L600.9,400.8L597.0,404.1L593.4,407.1L589.9,410.0L586.3,412.7L582.8,415.2L579.1,417.5L575.3,419.7L571.3,421.6L567.0,423.4L562.3,424.9L557.2,426.3L551.6,427.4L545.4,428.3L538.5,428.9L530.9,429.1L522.5,429.0L516.9,428.8L511.7,428.3L506.7,427.5L502.0,426.6L497.6,425.4L493.5,424.0L489.5,422.5L485.6,420.7L481.6,418.6L477.5,416.3L473.5,413.2L470.3,409.1L467.9,404.3L466.3,398.8L465.3,392.8L465.0,388.5L465.3,384.2L465.9,380.1L467.1,376.0L468.7,372.0L470.7,367.9L473.3,364.0L476.4,360.0L480.0,356.1L484.1,352.2L488.7,348.3L493.8,344.4L499.3,340.5L505.3,336.7L511.7,332.8L518.6,328.8L524.8,325.3L530.3,321.7L535.2,318.1L539.3,314.3L543.0,310.2L546.1,305.8L548.6,300.9L550.7,295.6L552.4,289.8L553.8,283.4L564.5,222.4L575.1,161.4L585.7,100.4Z"/>
<path d="M1080.7,101.1L1087.5,162.1L1094.3,223.1L1101.1,284.1L1101.5,291.4L1101.2,297.6L1100.2,302.9L1098.7,307.5L1096.7,311.4L1094.3,315.0L1091.6,318.2L1088.5,321.2L1085.1,324.0L1081.5,326.7L1077.8,329.2L1071.3,333.5L1065.2,338.3L1059.9,343.3L1055.3,348.8L1051.5,354.5L1048.5,360.4L1046.2,366.6L1044.7,372.9L1044.0,379.3L1044.0,385.8L1044.7,392.3L1045.8,398.6L1047.4,404.7L1049.7,410.4L1052.7,415.8L1056.3,420.6L1060.5,424.9L1065.2,428.7L1070.5,431.6L1076.1,433.9L1082.0,435.6L1087.8,437.0L1093.7,438.2L1099.7,439.3L1105.8,440.3L1112.3,441.1L1119.0,441.7L1125.9,442.0L1135.4,442.2L1144.2,442.0L1152.3,441.5L1159.7,440.6L1166.6,439.5L1172.8,438.0L1178.6,436.3L1184.0,434.4L1188.9,432.3L1193.5,430.0L1197.7,427.6L1201.7,425.0L1205.4,422.3L1208.8,419.5L1212.1,416.6L1215.3,413.7L1218.3,410.9L1221.3,408.0L1224.8,404.7L1228.6,401.9L1232.7,399.6L1237.0,397.8L1241.8,396.4L1247.0,395.4L1252.6,394.7L1258.8,394.3L1265.5,394.1L1272.9,394.0L1281.0,393.9L1281.0,381.7L1272.8,381.7L1265.1,381.9L1257.8,382.2L1251.0,382.7L1244.4,383.5L1238.0,384.7L1231.9,386.5L1226.0,388.8L1220.4,391.7L1215.1,395.2L1210.2,399.3L1207.1,402.3L1204.2,405.1L1201.3,407.9L1198.3,410.5L1195.3,413.0L1192.2,415.4L1189.0,417.6L1185.6,419.7L1181.9,421.7L1178.0,423.5L1173.6,425.1L1168.8,426.6L1163.5,427.8L1157.5,428.9L1150.9,429.6L1143.6,430.1L1135.6,430.3L1126.7,430.0L1120.4,429.7L1114.5,429.1L1109.0,428.2L1103.8,427.2L1099.0,426.0L1094.5,424.7L1090.2,423.2L1086.3,421.5L1082.5,419.7L1078.7,417.7L1074.9,415.4L1071.0,412.8L1067.6,409.5L1064.9,405.6L1062.8,401.1L1061.3,396.1L1060.3,390.7L1059.7,385.2L1059.6,380.0L1060.0,374.9L1061.0,369.9L1062.5,365.1L1064.6,360.4L1067.4,355.8L1070.8,351.3L1075.0,347.0L1079.9,342.8L1085.7,338.9L1089.9,336.1L1094.2,333.1L1098.3,329.8L1102.4,326.1L1106.2,322.0L1109.6,317.3L1112.5,311.9L1114.8,305.8L1116.2,298.9L1116.7,291.2L1116.2,282.7L1109.1,221.7L1102.0,160.7L1095.0,99.7Z"/>
<path d="M1589.2,103.1L1615.2,169.1L1641.3,235.2L1667.3,301.2L1668.5,306.5L1668.9,310.9L1668.5,314.5L1667.5,317.5L1665.9,320.4L1663.8,323.1L1661.1,325.9L1657.8,328.7L1654.0,331.6L1649.8,334.5L1645.7,337.5L1639.3,342.8L1634.2,348.9L1630.6,355.5L1628.2,362.3L1626.9,369.2L1626.7,376.1L1627.4,383.0L1629.0,389.8L1631.5,396.3L1634.8,402.4L1639.0,408.0L1642.5,411.9L1646.6,415.4L1650.9,418.7L1655.7,421.5L1660.7,424.0L1665.9,426.1L1671.2,428.0L1676.6,429.7L1682.1,431.4L1687.6,432.9L1693.3,434.4L1699.0,435.7L1705.0,437.0L1711.1,438.1L1717.3,439.2L1723.7,440.2L1730.2,441.0L1737.0,441.7L1743.8,442.4L1750.8,442.9L1757.9,443.3L1765.1,443.7L1772.5,443.9L1780.0,444.0L1780.3,431.2L1773.1,431.1L1766.0,430.9L1759.1,430.5L1752.3,430.1L1745.7,429.6L1739.2,429.0L1732.9,428.3L1726.8,427.4L1721.0,426.5L1715.3,425.4L1709.8,424.3L1704.5,423.0L1699.5,421.7L1694.7,420.2L1690.1,418.7L1685.7,417.1L1681.5,415.3L1677.6,413.5L1673.8,411.6L1670.2,409.6L1666.6,407.4L1663.1,405.3L1659.5,402.9L1656.1,400.3L1652.0,396.4L1648.9,391.8L1646.6,386.6L1645.2,381.3L1644.5,375.8L1644.5,370.4L1645.2,365.1L1646.6,360.1L1648.8,355.3L1651.8,350.8L1656.0,346.9L1660.2,343.9L1664.5,340.8L1668.8,337.6L1673.0,334.2L1677.0,330.6L1680.5,326.5L1683.4,321.9L1685.4,316.6L1686.2,310.8L1685.7,304.2L1684.2,296.9L1657.8,230.9L1631.3,165.0L1604.9,99.0Z"/>
<path d="M431.9,578.3L436.8,548.4L437.8,543.3L438.9,538.1L440.3,533.0L441.8,527.9L443.5,522.9L445.4,518.0L447.6,513.2L449.9,508.4L452.5,503.9L455.2,499.5L458.3,495.2L461.5,491.2L465.0,487.4L468.8,483.8L472.9,480.5L477.2,477.4L481.9,474.7L486.9,472.3L492.2,470.3L497.9,468.7L503.8,467.5L510.1,466.9L517.7,466.7L524.8,466.9L531.4,467.7L537.5,468.8L543.2,470.4L548.3,472.5L553.1,474.8L557.4,477.5L561.4,480.3L565.3,483.2L569.1,486.2L572.9,489.3L576.8,492.3L580.8,495.4L585.0,498.4L589.4,501.4L593.9,504.4L600.0,507.3L606.2,509.6L612.4,511.4L618.5,512.9L624.5,514.2L630.5,515.3L636.5,516.2L642.7,516.9L649.0,517.4L655.7,517.8L662.7,518.0L670.0,518.0L670.0,505.2L663.2,505.1L656.8,504.9L650.9,504.5L645.4,504.0L640.3,503.3L635.5,502.4L630.9,501.3L626.4,500.0L621.9,498.5L617.4,496.7L612.9,494.5L608.1,491.8L603.8,488.8L599.6,485.9L595.3,482.8L591.0,479.7L586.6,476.6L582.1,473.5L577.3,470.4L572.3,467.4L567.0,464.6L561.2,461.9L555.0,459.6L548.4,457.6L541.3,455.9L533.8,454.8L525.8,454.1L517.4,453.9L508.5,454.2L500.4,455.1L492.9,456.6L485.6,458.5L478.8,461.0L472.4,463.9L466.4,467.2L460.8,470.8L455.6,474.8L450.8,479.0L446.4,483.4L442.4,488.0L438.7,492.9L435.3,497.9L432.2,503.0L429.4,508.2L426.9,513.5L424.7,518.9L422.7,524.4L420.9,529.9L419.3,535.4L418.0,540.9L416.8,546.5L411.7,576.6Z"/>
<path d="M1077.2,578.0L1077.1,530.0L1077.2,523.6L1077.7,517.6L1078.5,511.9L1079.7,506.5L1081.3,501.4L1083.1,496.6L1085.3,492.2L1087.9,488.1L1090.8,484.2L1094.2,480.7L1097.9,477.5L1102.0,474.7L1106.6,472.3L1111.5,470.2L1116.9,468.5L1122.6,467.2L1128.7,466.3L1135.1,465.9L1143.2,465.9L1150.6,466.4L1157.3,467.4L1163.3,468.9L1168.6,470.9L1173.3,473.4L1177.5,476.2L1181.3,479.1L1185.0,482.1L1188.8,485.2L1192.8,488.2L1197.1,491.2L1201.7,494.2L1206.7,497.1L1212.4,499.8L1219.3,502.6L1225.8,505.1L1232.3,507.3L1238.6,509.2L1244.9,510.8L1251.1,512.3L1257.2,513.5L1263.4,514.5L1269.6,515.3L1275.8,516.0L1282.1,516.5L1288.6,516.8L1295.2,517.0L1302.0,517.0L1302.0,504.2L1295.7,504.2L1289.6,504.0L1283.8,503.6L1278.2,503.1L1272.7,502.4L1267.4,501.6L1262.2,500.6L1257.0,499.3L1251.8,497.9L1246.6,496.3L1241.3,494.3L1235.9,492.1L1230.4,489.6L1224.8,486.9L1220.2,484.4L1215.7,481.5L1211.2,478.6L1206.8,475.6L1202.3,472.5L1197.6,469.3L1192.7,466.3L1187.4,463.3L1181.5,460.5L1175.1,458.1L1168.1,456.0L1160.5,454.5L1152.3,453.5L1143.5,453.1L1134.0,453.2L1126.2,453.8L1118.6,454.9L1111.3,456.5L1104.4,458.6L1097.8,461.2L1091.6,464.3L1085.9,467.9L1080.6,471.9L1076.0,476.3L1071.8,481.1L1068.2,486.2L1065.1,491.6L1062.6,497.3L1060.5,503.3L1058.9,509.6L1057.7,516.1L1057.1,522.9L1056.8,530.0L1056.6,578.0Z"/>
<path d="M1727.5,577.4L1714.4,526.4L1712.9,520.6L1711.9,515.1L1711.5,509.9L1711.5,504.9L1712.0,500.3L1712.9,495.9L1714.4,491.8L1716.3,487.9L1718.9,484.4L1722.1,481.1L1726.2,478.3L1731.0,475.9L1736.6,474.0L1743.0,472.6L1750.1,471.9L1780.1,469.9L1778.8,457.2L1748.6,459.2L1739.7,460.2L1731.4,461.9L1723.6,464.4L1716.6,467.6L1710.3,471.5L1704.9,476.0L1700.5,481.0L1697.1,486.4L1694.6,492.0L1692.9,497.9L1691.9,503.9L1691.7,510.1L1692.1,516.4L1693.1,522.8L1694.7,529.2L1707.2,580.1Z"/>
<path d="M-12.8,431.1L-9.0,427.7L-5.0,424.5L-0.9,421.3L3.4,418.2L7.8,415.3L12.4,412.4L17.2,409.8L22.2,407.3L27.5,404.9L33.0,402.8L38.8,400.9L44.9,399.2L51.2,397.8L57.9,396.7L65.0,395.8L72.3,395.2L80.0,394.9L79.7,382.2L71.3,382.5L63.3,383.2L55.5,384.1L48.1,385.4L41.0,387.0L34.2,388.8L27.7,390.9L21.5,393.2L15.6,395.8L9.9,398.5L4.5,401.4L-0.7,404.5L-5.6,407.7L-10.3,411.0L-14.9,414.4L-19.2,417.9L-23.4,421.4Z"/>
<path d="M-12.0,520.1L26.0,519.1L25.6,504.7L-12.4,505.7Z"/>
<path d="M-26.1,654.7L-20.6,657.0L-15.4,659.7L-10.6,662.8L-6.1,666.2L-2.2,669.9L1.3,673.8L4.3,677.7L6.9,681.5L9.1,685.2L10.9,688.9L12.3,692.5L13.3,695.9L14.0,699.3L14.5,702.6L14.6,706.0L14.4,710.4L13.8,714.5L12.7,718.6L11.4,722.5L9.6,726.4L7.5,730.2L5.0,734.0L2.1,737.8L-1.2,741.6L-4.8,745.4L-8.9,749.2L-13.2,753.0L-17.9,756.9L-23.0,760.7L-28.3,764.6L-33.9,768.6L-20.8,781.2L-14.8,777.1L-9.1,772.9L-3.6,768.8L1.7,764.6L6.7,760.4L11.4,756.1L15.8,751.7L19.9,747.3L23.7,742.7L27.0,738.0L30.0,733.1L32.6,728.1L34.7,722.9L36.2,717.4L37.2,711.8L37.7,706.0L37.5,700.4L36.7,695.0L35.6,689.5L34.3,684.0L32.8,678.3L30.5,672.6L27.2,667.2L22.9,662.3L18.0,657.8L12.5,653.6L6.7,649.9L0.5,646.5L-6.0,643.4L-12.7,640.8L-19.5,638.5Z"/>
<path d="M240.0,637.3L165.0,637.0L157.1,637.2L149.3,637.7L141.7,638.6L134.3,639.9L127.1,641.5L120.2,643.4L113.4,645.7L107.0,648.3L100.7,651.2L94.8,654.4L89.1,657.9L83.7,661.6L78.6,665.6L73.8,669.8L69.4,674.2L65.2,678.8L61.4,683.6L57.8,688.5L54.7,693.7L51.9,699.0L49.4,704.4L47.3,709.9L45.6,715.6L44.2,721.3L43.2,727.2L42.6,733.0L42.5,740.5L43.1,747.8L44.4,754.9L46.3,761.6L48.7,767.9L51.4,774.0L54.5,779.8L57.6,785.3L60.9,790.7L64.0,795.9L67.1,800.9L69.9,805.9L72.5,810.7L74.8,815.4L76.8,820.0L78.4,824.5L79.5,828.7L80.7,833.7L81.8,838.5L82.7,842.9L83.4,847.2L84.0,851.5L84.4,855.9L84.6,860.7L84.6,866.0L107.7,866.0L107.6,860.1L107.4,854.7L107.0,849.5L106.4,844.6L105.6,839.6L104.6,834.6L103.4,829.5L102.1,823.9L100.7,818.2L98.9,812.6L96.8,807.2L94.4,801.8L91.7,796.5L88.9,791.4L85.8,786.4L82.7,781.5L79.6,776.6L76.5,771.7L73.6,766.8L71.0,761.8L68.8,756.7L67.2,751.4L66.0,745.9L65.5,740.2L65.5,734.2L65.9,729.4L66.6,724.6L67.6,719.8L68.9,715.2L70.4,710.6L72.3,706.1L74.4,701.6L76.8,697.3L79.5,693.1L82.5,689.1L85.8,685.2L89.3,681.4L93.2,677.8L97.3,674.4L101.6,671.2L106.2,668.2L111.1,665.4L116.2,662.9L121.6,660.7L127.2,658.7L133.0,657.0L139.0,655.6L145.2,654.5L151.7,653.7L158.2,653.3L165.0,653.3L240.0,653.2Z"/>
<path d="M570.0,653.2L655.0,653.3L661.1,653.7L666.8,654.7L672.2,656.2L677.2,658.3L681.6,661.0L685.4,664.2L688.5,667.8L691.0,671.6L693.2,675.3L695.4,678.9L697.4,682.5L699.3,686.1L701.0,689.9L702.6,693.9L704.0,698.0L705.3,702.3L706.3,706.9L707.0,711.7L707.5,716.7L707.6,722.0L707.4,726.4L706.8,730.7L705.9,734.8L704.7,738.7L703.2,742.6L701.3,746.4L699.2,750.1L696.8,753.8L694.2,757.5L691.3,761.1L688.1,764.8L684.8,768.5L681.2,772.1L677.5,775.8L673.6,779.5L669.6,783.2L665.6,787.0L661.4,790.8L657.3,794.7L653.1,798.7L649.0,802.8L645.0,807.0L641.0,811.3L637.2,815.8L633.6,820.5L630.1,825.3L626.9,830.4L623.4,837.2L617.0,862.6L639.1,866.8L644.8,843.0L646.4,838.9L648.9,834.6L651.6,830.4L654.7,826.3L657.9,822.3L661.4,818.3L665.1,814.4L668.9,810.5L672.8,806.7L676.9,802.8L680.9,799.0L685.0,795.2L689.2,791.4L693.2,787.5L697.3,783.6L701.2,779.6L705.0,775.6L708.7,771.5L712.2,767.3L715.6,763.0L718.7,758.5L721.5,753.9L724.0,749.1L726.2,744.1L728.0,738.9L729.4,733.5L730.3,727.9L730.7,722.0L730.5,715.6L730.0,709.3L729.1,703.3L727.8,697.5L726.3,691.8L724.7,686.3L722.9,680.8L721.0,675.2L718.8,669.8L715.9,664.5L712.1,659.6L707.6,655.1L702.6,651.1L697.0,647.4L690.9,644.3L684.3,641.7L677.4,639.7L670.2,638.2L662.7,637.4L655.0,637.0L570.0,637.3Z"/>
<path d="M927.0,639.3L845.0,639.0L837.4,639.2L829.9,639.7L822.6,640.7L815.5,642.1L808.6,643.9L802.0,646.1L795.7,648.7L789.6,651.7L783.9,655.0L778.5,658.7L773.4,662.7L768.7,667.0L764.4,671.6L760.5,676.5L757.0,681.6L753.9,687.0L751.1,692.6L748.8,698.4L747.0,704.4L745.5,710.5L744.4,716.9L743.8,723.4L743.6,730.0L744.0,737.2L745.0,744.1L746.6,750.8L748.8,757.1L751.5,763.0L754.7,768.6L758.2,773.9L762.0,778.8L765.9,783.5L770.0,787.9L774.1,792.2L778.1,796.3L782.2,800.4L786.1,804.3L789.9,808.2L793.6,812.1L797.0,815.9L800.2,819.8L803.1,823.6L805.6,827.5L807.9,831.3L809.8,835.0L811.4,838.8L812.7,842.5L813.2,844.9L815.9,867.7L838.8,865.5L836.0,841.2L834.9,835.5L833.3,830.4L831.6,825.3L829.5,820.2L827.1,815.3L824.3,810.6L821.2,806.1L817.8,801.7L814.2,797.6L810.5,793.6L806.7,789.7L802.8,786.0L799.0,782.3L795.1,778.7L791.3,775.1L787.4,771.6L783.7,767.9L780.0,764.2L776.7,760.2L773.7,755.9L771.3,751.3L769.3,746.5L767.9,741.3L767.0,735.8L766.7,730.0L766.7,724.4L767.2,719.0L767.9,713.8L769.0,708.7L770.3,703.8L772.0,699.0L774.0,694.5L776.2,690.1L778.8,686.0L781.6,682.0L784.8,678.2L788.3,674.7L792.1,671.4L796.2,668.4L800.6,665.7L805.2,663.2L810.2,661.0L815.4,659.2L820.9,657.7L826.6,656.5L832.5,655.7L838.7,655.3L845.0,655.3L927.0,655.2Z"/>
<path d="M1248.0,653.2L1335.0,653.3L1341.4,653.7L1347.4,654.5L1353.1,655.8L1358.5,657.6L1363.4,659.9L1367.7,662.6L1371.6,665.8L1374.9,669.3L1377.8,672.8L1380.3,676.4L1382.8,680.0L1385.2,683.4L1387.4,686.9L1389.5,690.6L1391.5,694.3L1393.3,698.1L1394.9,702.0L1396.4,706.0L1397.8,710.1L1398.9,714.4L1399.9,718.7L1400.7,723.2L1401.2,727.7L1401.6,732.3L1401.6,737.0L1401.4,741.8L1400.7,746.3L1399.7,750.6L1398.4,754.7L1396.7,758.7L1394.8,762.7L1392.5,766.6L1390.0,770.6L1387.2,774.5L1384.2,778.5L1381.1,782.6L1377.8,786.7L1374.3,791.0L1370.8,795.4L1367.3,800.0L1363.9,804.7L1360.6,809.7L1357.4,815.0L1354.5,820.5L1351.9,826.3L1349.6,832.5L1347.7,839.9L1345.7,864.9L1368.5,866.3L1370.4,842.5L1371.4,837.6L1372.9,832.6L1374.8,827.9L1377.1,823.2L1379.6,818.6L1382.4,814.2L1385.5,809.8L1388.7,805.5L1392.0,801.3L1395.4,797.0L1398.8,792.8L1402.2,788.5L1405.6,784.1L1408.8,779.7L1411.9,775.1L1414.8,770.4L1417.5,765.5L1419.8,760.3L1421.8,754.9L1423.3,749.3L1424.2,743.3L1424.7,737.0L1424.6,731.4L1424.2,725.9L1423.6,720.5L1422.7,715.1L1421.6,709.9L1420.2,704.6L1418.7,699.5L1417.0,694.4L1415.2,689.3L1413.3,684.3L1411.2,679.2L1408.8,674.2L1405.9,669.3L1402.4,664.6L1398.4,660.3L1393.8,656.2L1388.8,652.4L1383.4,649.0L1377.5,645.9L1371.3,643.3L1364.6,641.1L1357.6,639.3L1350.3,638.1L1342.8,637.3L1335.0,637.0L1248.0,637.3Z"/>
<path d="M1602.0,637.3L1510.0,637.0L1502.2,637.3L1494.6,638.1L1487.3,639.7L1480.4,641.9L1473.8,644.6L1467.8,647.9L1462.2,651.7L1457.2,655.9L1452.6,660.4L1448.5,665.3L1445.0,670.4L1441.8,675.8L1439.1,681.4L1436.8,687.2L1434.9,693.1L1433.4,699.3L1432.2,705.5L1431.4,711.9L1431.0,718.4L1430.9,725.0L1431.2,731.7L1431.8,738.6L1433.3,744.8L1435.4,750.6L1438.4,756.0L1442.0,760.9L1446.0,765.5L1450.4,769.7L1455.0,773.7L1459.9,777.4L1464.9,780.8L1470.1,784.1L1475.4,787.3L1480.7,790.5L1486.0,793.6L1491.3,796.7L1496.5,799.9L1501.7,803.1L1506.8,806.3L1511.7,809.6L1516.5,813.0L1521.0,816.5L1525.3,820.0L1529.3,823.6L1532.9,827.3L1536.2,830.9L1539.1,834.5L1541.6,838.1L1543.7,841.6L1545.4,845.0L1545.1,846.6L1549.1,868.8L1572.0,865.2L1567.4,840.5L1567.0,834.2L1565.1,829.0L1562.5,824.0L1559.2,819.2L1555.4,814.8L1551.2,810.6L1546.7,806.6L1542.0,802.8L1537.1,799.2L1532.1,795.7L1527.0,792.3L1521.8,789.0L1516.7,785.8L1511.6,782.6L1506.6,779.5L1501.7,776.4L1497.0,773.4L1492.3,770.4L1487.9,767.5L1483.6,764.6L1479.5,761.8L1475.5,759.1L1471.5,756.4L1467.6,753.8L1463.8,751.0L1460.4,748.0L1457.8,744.5L1456.0,740.6L1454.8,736.6L1454.2,730.7L1453.9,724.8L1453.9,719.1L1454.3,713.5L1454.8,708.0L1455.7,702.6L1456.9,697.5L1458.3,692.5L1460.0,687.8L1461.9,683.2L1464.1,678.9L1466.6,674.8L1469.5,671.0L1472.6,667.5L1476.0,664.3L1479.8,661.4L1484.0,658.9L1488.5,656.8L1493.4,655.1L1498.6,654.0L1504.2,653.3L1510.0,653.3L1602.0,653.2Z"/>
<path d="M380.8,717.5L367.6,777.1L354.3,836.8L341.1,896.4L327.9,956.0L314.6,1015.7L301.4,1075.3L323.1,1078.6L336.1,1018.9L349.0,959.3L361.9,899.6L374.9,839.9L387.8,780.3L400.8,720.6Z"/>
<path d="M454.2,718.1L442.1,784.0L430.0,849.9L417.9,915.9L405.7,981.8L393.6,1047.9L392.5,1054.5L391.4,1060.9L390.2,1067.2L389.0,1073.3L387.8,1079.3L386.4,1085.2L385.0,1090.8L383.5,1096.3L381.9,1101.6L380.3,1106.8L378.5,1111.7L376.5,1116.5L374.5,1121.0L372.3,1125.3L370.1,1129.4L367.6,1133.3L365.1,1137.0L363.4,1139.2L291.6,1201.5L312.3,1215.6L384.6,1151.5L388.6,1147.2L391.9,1142.7L394.9,1138.0L397.7,1133.2L400.3,1128.2L402.6,1123.0L404.8,1117.6L406.8,1112.1L408.6,1106.5L410.3,1100.8L411.9,1094.9L413.3,1088.8L414.6,1082.7L415.8,1076.5L417.0,1070.1L418.1,1063.7L419.1,1057.1L420.1,1050.5L431.1,984.5L442.1,918.5L453.0,852.5L464.0,786.5L475.0,720.5Z"/>
<path d="M1071.7,721.0L1076.6,781.0L1081.6,841.0L1086.5,901.0L1091.4,961.0L1096.3,1021.1L1101.2,1081.1L1123.6,1079.7L1118.4,1019.7L1113.2,959.7L1108.0,899.7L1102.7,839.7L1097.5,779.7L1092.3,719.7Z"/>
<path d="M1145.8,721.3L1153.8,795.3L1161.9,869.4L1169.9,943.4L1178.0,1017.5L1187.2,1096.5L1187.5,1102.7L1187.3,1108.5L1186.8,1113.8L1185.8,1118.8L1184.5,1123.4L1182.9,1127.8L1181.0,1131.9L1178.8,1135.9L1176.4,1139.8L1173.8,1143.6L1171.0,1147.4L1168.0,1151.1L1164.9,1154.9L1161.2,1159.2L1128.4,1204.5L1151.3,1214.4L1183.0,1169.4L1186.1,1165.5L1189.4,1161.5L1192.7,1157.4L1196.0,1153.2L1199.2,1148.7L1202.3,1144.0L1205.1,1139.1L1207.7,1133.8L1209.9,1128.2L1211.7,1122.3L1213.0,1116.0L1213.8,1109.3L1214.0,1102.2L1213.5,1094.6L1203.3,1015.6L1194.4,941.6L1185.4,867.6L1176.5,793.6L1167.6,719.7Z"/>
</g>
<g fill="#fdfdff">
<path d="M66.6,17.2L78.6,-7.8L66.5,-12.3L54.5,12.7Z"/>
<path d="M546.8,17.2L554.8,-7.8L543.6,-11.3L535.6,13.7Z"/>
<path d="M1027.3,16.9L1026.3,-8.1L1014.1,-7.6L1015.1,17.4Z"/>
<path d="M1509.9,16.4L1500.9,-8.6L1488.6,-4.6L1497.6,20.4Z"/>
<path d="M150.0,65.1L222.0,65.1L229.7,65.7L236.5,67.3L242.1,69.9L246.2,73.5L248.6,77.7L250.0,81.5L251.1,84.7L251.8,87.7L252.4,90.5L252.8,93.4L252.9,96.4L252.6,99.5L251.7,102.7L250.4,105.9L248.5,109.2L246.3,112.1L243.8,114.8L240.8,117.3L237.4,119.8L233.6,122.3L229.3,124.8L224.7,127.3L219.8,129.9L214.6,132.6L209.2,135.6L203.8,138.8L198.3,142.3L192.8,146.2L187.4,150.6L182.1,155.5L177.2,161.0L172.6,167.0L183.2,172.1L187.0,166.6L191.2,161.7L195.7,157.2L200.4,153.2L205.3,149.5L210.3,146.2L215.4,143.1L220.5,140.3L225.6,137.6L230.6,135.0L235.4,132.4L240.0,129.7L244.5,127.0L248.6,124.2L252.5,121.2L256.0,117.8L259.2,114.1L262.0,109.9L264.1,105.5L265.5,101.1L266.1,96.6L266.0,92.1L265.4,87.6L264.7,83.0L264.0,77.9L262.1,72.6L258.3,67.8L253.1,63.7L246.6,60.5L239.2,58.1L230.9,56.7L222.0,56.2L150.0,56.2Z"/>
<path d="M410.0,57.2L335.0,57.2L326.2,57.5L318.0,58.6L310.3,60.4L303.2,62.9L296.8,66.1L291.1,69.8L286.1,74.1L282.0,78.8L278.7,83.8L276.4,89.2L274.9,94.8L274.3,100.4L274.7,106.2L276.1,111.8L278.3,117.1L280.6,122.0L283.6,126.7L286.9,131.0L290.2,135.0L293.5,139.0L296.8,143.0L299.9,147.2L303.1,151.8L306.2,156.7L309.3,162.2L312.4,168.4L315.5,175.3L328.4,171.3L325.2,163.7L322.1,156.9L319.0,150.8L316.0,145.3L312.8,140.3L309.6,135.9L306.4,131.9L303.1,128.2L299.7,124.8L296.5,121.4L293.5,117.7L291.2,113.4L289.1,109.2L287.9,105.0L287.5,100.7L287.8,96.4L288.6,92.2L290.1,88.1L292.2,84.1L295.0,80.3L298.6,76.8L303.0,73.6L308.1,70.9L313.9,68.8L320.3,67.2L327.4,66.3L335.0,66.1L410.0,66.1Z"/>
<path d="M655.0,63.1L722.0,63.1L729.3,63.7L735.9,65.1L741.7,67.4L746.3,70.5L749.7,74.3L752.0,78.3L753.8,81.9L755.2,85.1L756.3,88.2L757.1,91.2L757.7,94.2L758.0,97.1L757.9,100.1L757.5,103.0L756.6,105.9L755.3,108.6L752.9,112.0L750.2,115.1L747.1,118.1L743.7,121.0L739.9,123.9L735.8,126.9L731.5,130.0L726.9,133.2L722.2,136.8L717.5,140.7L712.8,145.1L708.3,150.0L704.0,155.6L700.2,161.7L696.8,168.6L708.6,172.2L711.4,166.1L714.5,160.7L718.0,155.7L721.8,151.3L725.8,147.3L730.0,143.7L734.3,140.3L738.7,137.1L743.1,134.0L747.4,131.0L751.6,127.9L755.6,124.6L759.4,121.2L763.0,117.4L766.3,113.1L768.6,109.2L770.2,105.0L771.1,100.7L771.2,96.4L770.8,92.1L770.0,87.7L769.1,83.1L768.1,78.1L766.1,73.1L762.6,68.5L757.9,64.4L752.2,60.9L745.7,58.0L738.4,55.9L730.5,54.7L722.0,54.2L655.0,54.2Z"/>
<path d="M916.0,54.2L840.0,54.2L831.0,54.6L822.5,55.8L814.6,57.8L807.5,60.6L801.1,64.1L795.5,68.1L790.7,72.7L786.8,77.6L783.7,82.9L781.5,88.3L780.1,93.9L779.6,99.6L779.9,105.3L781.2,110.8L783.4,116.2L786.7,121.3L790.8,125.8L795.2,129.6L799.8,133.1L804.5,136.4L809.2,139.7L813.7,143.2L818.1,146.9L822.3,150.8L826.3,155.1L830.1,159.7L833.7,164.6L837.1,170.0L840.3,175.9L853.2,170.7L850.0,163.8L846.6,157.3L842.7,151.4L838.4,146.1L833.8,141.4L829.2,137.2L824.6,133.4L820.1,130.0L815.8,126.8L811.7,123.9L807.8,121.3L803.7,118.7L799.6,115.9L796.3,112.3L794.2,108.4L793.2,104.2L792.8,99.9L793.1,95.5L793.9,91.2L795.3,86.9L797.3,82.7L800.1,78.6L803.5,74.9L807.8,71.5L812.8,68.5L818.5,66.1L825.0,64.3L832.2,63.3L840.0,63.1L916.0,63.1Z"/>
<path d="M1155.0,63.1L1222.0,63.1L1229.3,63.7L1236.1,65.1L1242.1,67.3L1247.2,70.3L1251.1,74.0L1254.0,78.0L1256.3,81.8L1258.2,85.3L1259.6,88.6L1260.7,91.8L1261.5,94.9L1262.0,97.9L1262.1,100.8L1261.9,103.6L1261.2,106.3L1260.0,109.0L1257.2,113.9L1254.2,118.4L1251.0,122.7L1247.6,126.9L1244.1,131.1L1240.5,135.5L1237.0,140.2L1233.6,145.2L1230.4,150.7L1227.8,156.8L1225.6,163.5L1224.2,170.8L1237.2,172.1L1238.3,165.8L1239.9,160.0L1242.0,154.8L1244.5,149.9L1247.3,145.4L1250.5,141.0L1253.9,136.7L1257.4,132.5L1261.0,128.1L1264.6,123.5L1268.1,118.6L1271.5,113.2L1273.5,109.2L1274.8,105.0L1275.3,100.7L1275.2,96.3L1274.5,91.9L1273.5,87.3L1272.5,82.5L1270.9,77.4L1268.0,72.5L1263.8,68.0L1258.7,64.1L1252.7,60.7L1246.0,57.9L1238.5,55.9L1230.5,54.7L1222.0,54.2L1155.0,54.2Z"/>
<path d="M1415.0,54.2L1350.0,54.2L1341.5,54.5L1333.4,55.6L1325.8,57.3L1318.8,59.8L1312.4,62.8L1306.6,66.3L1301.5,70.3L1297.0,74.7L1293.3,79.4L1290.3,84.3L1288.1,89.5L1286.6,94.8L1285.9,100.2L1286.1,105.6L1287.2,111.0L1289.5,116.3L1293.4,121.2L1297.9,125.1L1302.9,128.3L1308.1,130.9L1313.4,133.2L1318.6,135.6L1323.7,138.0L1328.8,140.7L1333.7,143.6L1338.4,146.8L1342.8,150.2L1346.8,154.0L1350.4,158.0L1353.6,162.1L1356.4,166.4L1358.8,170.8L1360.8,175.5L1373.7,171.1L1371.6,164.9L1369.2,158.9L1365.9,153.4L1361.8,148.5L1357.1,144.1L1352.0,140.3L1346.9,136.8L1341.7,133.7L1336.5,130.8L1331.6,128.1L1326.9,125.6L1322.5,123.3L1318.4,121.0L1314.5,118.9L1310.6,116.9L1306.3,114.9L1302.4,112.2L1300.3,108.7L1299.4,104.8L1299.1,100.7L1299.5,96.6L1300.3,92.5L1301.8,88.4L1303.8,84.4L1306.5,80.5L1309.8,76.9L1313.7,73.5L1318.3,70.4L1323.5,67.8L1329.3,65.7L1335.7,64.2L1342.6,63.3L1350.0,63.1L1415.0,63.1Z"/>
<path d="M1665.0,63.1L1720.0,63.1L1727.3,63.6L1734.2,64.8L1740.7,66.6L1746.5,69.1L1751.5,72.3L1755.6,76.1L1758.9,80.1L1761.5,84.0L1763.7,87.7L1765.5,91.3L1766.8,94.8L1767.8,98.2L1768.4,101.6L1781.6,99.8L1780.7,95.0L1779.6,90.0L1778.3,84.9L1776.3,79.6L1773.1,74.6L1768.7,70.2L1763.5,66.2L1757.6,62.7L1751.0,59.7L1743.9,57.4L1736.3,55.7L1728.3,54.6L1720.0,54.2L1665.0,54.2Z"/>
<path d="M1760.7,131.6L1744.7,168.6L1756.6,172.2L1772.6,135.2Z"/>
<path d="M6.2,96.6L-20.8,164.6L-7.2,168.2L19.8,100.2Z"/>
<path d="M59.6,96.7L35.3,161.0L11.0,225.3L-13.3,289.6L0.9,293.2L24.9,228.9L48.8,164.6L72.8,100.2Z"/>
<path d="M519.8,97.8L505.0,159.5L490.1,221.2L475.3,282.9L488.0,285.2L502.7,223.5L517.3,161.9L532.0,100.2Z"/>
<path d="M1023.7,100.8L1029.0,162.5L1034.4,224.1L1039.7,285.8L1052.4,284.9L1047.0,223.2L1041.7,161.6L1036.4,99.9Z"/>
<path d="M1534.8,102.9L1556.3,164.6L1577.8,226.2L1599.4,287.9L1614.3,284.5L1592.2,222.8L1570.1,161.1L1548.0,99.5Z"/>
<path d="M571.7,98.4L560.8,159.3L550.0,220.3L539.1,281.3L537.9,287.1L536.5,292.1L534.9,296.4L533.1,300.1L531.0,303.4L528.5,306.5L525.4,309.5L521.7,312.5L517.1,315.5L511.5,318.8L504.3,322.8L497.5,326.9L491.2,330.9L485.2,335.0L479.6,339.1L474.4,343.4L469.6,347.7L465.2,352.2L461.4,356.8L457.9,361.6L455.0,366.5L452.7,371.7L451.0,377.0L449.8,382.5L449.4,388.1L449.6,393.8L450.7,401.1L452.5,407.9L455.2,414.2L458.8,419.9L463.1,424.8L468.1,428.9L473.8,432.0L479.9,434.0L486.1,435.3L492.1,436.3L497.9,437.1L503.8,437.9L509.7,438.5L515.8,438.9L522.0,439.1L531.0,439.2L539.2,438.8L546.8,438.2L553.8,437.2L560.2,435.9L566.1,434.4L571.6,432.7L576.7,430.7L581.5,428.5L586.0,426.1L590.3,423.5L594.3,420.8L598.3,417.9L602.1,414.9L605.9,411.8L609.6,408.6L614.1,405.0L618.7,401.8L623.4,399.1L628.3,396.8L633.4,394.9L638.7,393.4L644.2,392.2L650.0,391.4L656.0,390.7L662.4,390.3L669.2,390.1L676.4,390.0L684.0,390.0L684.0,379.7L676.2,379.8L668.8,379.9L661.7,380.2L654.8,380.7L648.2,381.4L641.7,382.4L635.4,383.7L629.3,385.4L623.3,387.6L617.4,390.2L611.8,393.2L606.3,396.7L600.9,400.8L597.0,404.1L593.4,407.1L589.9,410.0L586.3,412.7L582.8,415.2L579.1,417.5L575.3,419.7L571.3,421.6L567.0,423.4L562.3,424.9L557.2,426.3L551.6,427.4L545.4,428.3L538.5,428.9L531.0,429.2L522.5,429.1L516.9,428.8L511.7,428.3L506.7,427.6L502.0,426.7L497.5,425.6L493.3,424.3L489.2,422.8L485.2,421.0L481.0,419.1L476.6,416.8L472.3,413.7L468.8,409.6L466.3,404.7L464.5,399.1L463.5,392.9L463.3,388.4L463.5,384.0L464.2,379.7L465.3,375.5L466.9,371.3L469.1,367.1L471.7,363.0L474.9,358.9L478.5,354.9L482.7,350.9L487.3,346.9L492.5,343.0L498.0,339.1L504.1,335.1L510.6,331.2L517.5,327.2L523.6,323.8L529.0,320.3L533.7,316.8L537.8,313.2L541.4,309.3L544.4,305.1L546.9,300.4L549.0,295.2L550.7,289.5L552.1,283.2L562.8,222.2L573.4,161.2L584.1,100.2Z"/>
<path d="M1080.7,101.1L1087.5,162.1L1094.3,223.1L1101.1,284.1L1101.5,291.4L1101.2,297.6L1100.2,302.9L1098.7,307.5L1096.7,311.4L1094.3,315.0L1091.6,318.2L1088.5,321.2L1085.1,324.0L1081.5,326.7L1077.8,329.2L1071.3,333.5L1065.2,338.3L1059.9,343.4L1055.3,348.8L1051.5,354.5L1048.5,360.4L1046.2,366.6L1044.8,372.9L1044.0,379.3L1044.0,385.8L1044.7,392.3L1045.8,398.6L1047.5,404.7L1049.8,410.4L1052.9,415.7L1056.5,420.5L1060.8,424.7L1065.6,428.3L1071.0,431.1L1076.8,433.1L1082.7,434.5L1088.5,435.7L1094.3,436.7L1100.2,437.7L1106.3,438.6L1112.6,439.3L1119.2,439.8L1126.1,440.1L1135.5,440.3L1144.1,440.1L1152.1,439.5L1159.4,438.7L1166.0,437.5L1172.2,436.1L1177.8,434.5L1183.0,432.7L1187.8,430.6L1192.2,428.4L1196.4,426.0L1200.2,423.5L1203.9,420.9L1207.3,418.2L1210.5,415.4L1213.7,412.5L1216.7,409.6L1219.7,406.7L1223.4,403.3L1227.3,400.3L1231.6,397.9L1236.2,395.9L1241.2,394.5L1246.5,393.4L1252.3,392.7L1258.6,392.3L1265.5,392.1L1272.9,392.0L1281.0,392.0L1281.0,381.7L1272.8,381.8L1265.1,381.9L1257.8,382.2L1251.0,382.7L1244.4,383.5L1238.0,384.7L1231.9,386.5L1226.0,388.8L1220.4,391.7L1215.1,395.2L1210.2,399.3L1207.2,402.3L1204.2,405.1L1201.3,407.9L1198.3,410.5L1195.3,413.0L1192.2,415.4L1189.0,417.6L1185.6,419.7L1181.9,421.7L1178.0,423.5L1173.6,425.1L1168.8,426.6L1163.5,427.8L1157.5,428.9L1150.9,429.7L1143.6,430.1L1135.6,430.3L1126.7,430.1L1120.4,429.7L1114.5,429.1L1108.9,428.3L1103.7,427.3L1098.9,426.2L1094.4,424.9L1090.1,423.4L1086.0,421.8L1082.1,420.0L1078.2,418.1L1074.1,415.9L1070.0,413.4L1066.3,410.1L1063.4,406.1L1061.2,401.5L1059.6,396.4L1058.6,390.8L1057.9,385.3L1057.8,379.9L1058.2,374.7L1059.2,369.5L1060.8,364.5L1062.9,359.6L1065.7,354.8L1069.3,350.2L1073.6,345.7L1078.6,341.4L1084.5,337.4L1088.6,334.7L1092.8,331.7L1096.9,328.5L1100.9,325.0L1104.6,321.0L1108.0,316.5L1110.8,311.4L1113.0,305.5L1114.5,298.8L1115.0,291.3L1114.5,282.9L1107.5,221.9L1100.4,160.9L1093.4,99.9Z"/>
<path d="M1589.3,103.1L1615.3,169.1L1641.4,235.2L1667.4,301.2L1668.6,306.5L1668.9,310.9L1668.5,314.5L1667.5,317.5L1665.9,320.4L1663.8,323.1L1661.1,325.9L1657.8,328.7L1654.0,331.6L1649.8,334.5L1645.7,337.5L1639.3,342.8L1634.2,348.9L1630.6,355.5L1628.2,362.3L1627.0,369.2L1626.7,376.1L1627.5,383.0L1629.1,389.8L1631.6,396.2L1635.0,402.3L1639.3,407.8L1642.9,411.7L1647.0,415.2L1651.5,418.3L1656.3,421.0L1661.4,423.3L1666.7,425.2L1672.1,426.9L1677.5,428.5L1682.9,430.0L1688.4,431.4L1694.0,432.8L1699.8,434.0L1705.6,435.2L1711.7,436.3L1717.8,437.3L1724.2,438.3L1730.7,439.1L1737.3,439.8L1744.1,440.4L1751.0,440.9L1758.1,441.3L1765.3,441.6L1772.6,441.8L1780.0,442.0L1780.3,431.3L1773.1,431.1L1766.0,430.9L1759.1,430.6L1752.3,430.2L1745.7,429.7L1739.2,429.0L1732.9,428.3L1726.8,427.5L1720.9,426.6L1715.2,425.5L1709.7,424.4L1704.5,423.2L1699.4,421.8L1694.6,420.4L1690.0,418.9L1685.6,417.3L1681.3,415.6L1677.3,413.8L1673.5,411.9L1669.7,409.9L1666.1,407.9L1662.3,405.7L1658.5,403.4L1654.9,400.8L1650.5,396.9L1647.1,392.2L1644.7,387.0L1643.2,381.5L1642.5,375.8L1642.5,370.2L1643.2,364.8L1644.6,359.5L1646.9,354.4L1650.0,349.7L1654.4,345.5L1658.6,342.5L1662.9,339.4L1667.2,336.3L1671.3,333.0L1675.1,329.5L1678.6,325.7L1681.5,321.3L1683.4,316.4L1684.3,310.8L1683.9,304.5L1682.5,297.4L1656.1,231.4L1629.7,165.4L1603.3,99.4Z"/>
<path d="M429.5,578.1L434.5,548.1L435.5,543.0L436.6,537.8L437.9,532.6L439.5,527.5L441.2,522.4L443.1,517.4L445.3,512.5L447.6,507.7L450.2,503.1L453.0,498.6L456.1,494.2L459.4,490.1L463.0,486.1L466.9,482.4L471.0,479.0L475.6,475.8L480.4,473.0L485.6,470.5L491.1,468.4L497.0,466.7L503.3,465.5L509.8,464.8L517.7,464.6L525.0,464.9L531.8,465.7L538.1,466.9L543.9,468.7L549.2,470.8L554.0,473.4L558.3,476.2L562.4,479.2L566.2,482.3L569.9,485.4L573.7,488.5L577.5,491.6L581.6,494.7L585.8,497.8L590.2,500.7L594.7,503.7L600.8,506.4L607.1,508.5L613.3,510.2L619.4,511.5L625.3,512.6L631.1,513.5L637.0,514.3L643.1,514.9L649.3,515.4L655.9,515.7L662.7,515.9L670.0,515.9L670.0,505.2L663.2,505.2L656.8,505.0L650.9,504.6L645.4,504.1L640.3,503.3L635.5,502.5L630.8,501.4L626.3,500.2L621.8,498.7L617.2,496.9L612.6,494.8L607.8,492.1L603.4,489.2L599.2,486.2L594.9,483.2L590.6,480.1L586.3,476.9L581.8,473.8L577.1,470.7L572.1,467.6L566.8,464.8L561.1,462.1L555.0,459.7L548.4,457.7L541.3,456.0L533.8,454.8L525.8,454.1L517.4,453.9L508.5,454.2L500.4,455.1L492.9,456.6L485.6,458.6L478.8,461.0L472.4,463.9L466.4,467.2L460.8,470.8L455.6,474.8L450.8,479.0L446.4,483.4L442.4,488.1L438.7,492.9L435.3,497.9L432.2,503.0L429.5,508.2L426.9,513.5L424.7,518.9L422.7,524.4L420.9,529.9L419.3,535.4L418.0,540.9L416.9,546.5L411.7,576.6Z"/>
<path d="M1074.8,578.0L1074.8,530.0L1074.9,523.6L1075.4,517.4L1076.2,511.6L1077.4,506.1L1079.0,500.9L1080.9,496.0L1083.1,491.4L1085.7,487.1L1088.7,483.1L1092.2,479.4L1096.0,476.1L1100.4,473.1L1105.2,470.5L1110.4,468.3L1116.0,466.5L1121.9,465.2L1128.3,464.3L1134.9,463.8L1143.2,463.8L1150.9,464.3L1157.8,465.4L1164.0,467.1L1169.4,469.3L1174.2,471.9L1178.5,474.9L1182.3,478.1L1185.9,481.2L1189.7,484.4L1193.6,487.5L1197.9,490.5L1202.5,493.5L1207.5,496.3L1213.3,498.9L1220.2,501.5L1226.8,503.9L1233.2,506.0L1239.5,507.7L1245.7,509.3L1251.9,510.6L1257.9,511.7L1264.0,512.6L1270.0,513.4L1276.2,514.0L1282.4,514.5L1288.8,514.8L1295.3,514.9L1302.0,514.9L1302.0,504.2L1295.7,504.2L1289.6,504.0L1283.8,503.7L1278.2,503.2L1272.7,502.5L1267.4,501.7L1262.1,500.7L1256.9,499.5L1251.7,498.1L1246.4,496.4L1241.1,494.5L1235.7,492.4L1230.1,489.9L1224.5,487.2L1219.9,484.7L1215.3,481.9L1210.8,478.9L1206.4,475.9L1202.0,472.8L1197.4,469.6L1192.5,466.5L1187.2,463.5L1181.4,460.7L1175.0,458.2L1168.1,456.1L1160.4,454.6L1152.2,453.6L1143.5,453.1L1134.0,453.2L1126.2,453.8L1118.6,454.9L1111.3,456.5L1104.4,458.6L1097.8,461.2L1091.6,464.3L1085.9,467.9L1080.7,471.9L1076.0,476.3L1071.8,481.1L1068.2,486.2L1065.1,491.6L1062.6,497.3L1060.5,503.3L1058.9,509.6L1057.8,516.1L1057.1,522.9L1056.9,530.0L1056.7,578.0Z"/>
<path d="M1725.3,577.7L1712.3,526.7L1710.7,520.9L1709.7,515.3L1709.2,509.9L1709.3,504.8L1709.7,500.0L1710.7,495.4L1712.2,491.1L1714.2,487.0L1716.9,483.2L1720.3,479.7L1724.6,476.6L1729.8,474.0L1735.7,472.0L1742.4,470.6L1749.9,469.8L1779.9,467.8L1778.8,457.2L1748.6,459.2L1739.7,460.2L1731.4,462.0L1723.6,464.4L1716.6,467.6L1710.3,471.5L1704.9,476.0L1700.5,481.0L1697.1,486.4L1694.6,492.0L1692.9,497.9L1692.0,503.9L1691.7,510.1L1692.2,516.4L1693.2,522.8L1694.7,529.2L1707.2,580.1Z"/>
<path d="M-14.4,429.6L-10.5,426.3L-6.5,423.0L-2.3,419.7L2.0,416.6L6.5,413.6L11.2,410.7L16.0,408.0L21.2,405.4L26.5,403.0L32.2,400.9L38.1,398.9L44.2,397.2L50.7,395.8L57.5,394.6L64.7,393.7L72.1,393.1L80.0,392.9L79.7,382.2L71.3,382.5L63.3,383.2L55.5,384.2L48.1,385.4L41.0,387.0L34.2,388.8L27.7,390.9L21.5,393.3L15.6,395.8L9.9,398.5L4.5,401.4L-0.7,404.5L-5.6,407.7L-10.3,411.0L-14.9,414.4L-19.2,417.9L-23.4,421.4Z"/>
<path d="M-12.0,517.7L26.0,516.7L25.6,504.7L-12.4,505.7Z"/>
<path d="M-25.2,652.6L-19.7,655.0L-14.4,657.9L-9.5,661.2L-5.0,664.8L-1.2,668.8L2.2,672.9L5.0,677.1L7.5,681.1L9.6,684.9L11.3,688.7L12.6,692.3L13.5,695.9L14.1,699.2L14.6,702.6L14.7,706.0L14.4,710.4L13.8,714.5L12.8,718.6L11.4,722.5L9.6,726.4L7.5,730.2L5.0,734.0L2.1,737.8L-1.2,741.6L-4.8,745.4L-8.8,749.2L-13.2,753.0L-17.9,756.9L-23.0,760.7L-28.3,764.7L-33.9,768.6L-22.8,779.3L-16.9,775.2L-11.2,771.1L-5.7,767.0L-0.5,762.9L4.4,758.8L9.1,754.6L13.4,750.3L17.5,746.0L21.2,741.5L24.5,737.0L27.4,732.3L30.0,727.4L32.0,722.4L33.6,717.1L34.6,711.7L35.1,706.0L35.0,700.7L34.3,695.4L33.4,690.1L32.5,684.7L31.3,679.0L29.4,673.2L26.4,667.8L22.3,662.8L17.5,658.2L12.2,654.0L6.4,650.2L0.3,646.7L-6.1,643.7L-12.7,641.0L-19.6,638.7Z"/>
<path d="M240.0,637.3L165.0,637.1L157.1,637.2L149.3,637.7L141.7,638.6L134.3,639.9L127.2,641.5L120.2,643.5L113.5,645.7L107.0,648.3L100.7,651.3L94.8,654.4L89.1,657.9L83.7,661.6L78.6,665.6L73.8,669.8L69.4,674.2L65.2,678.8L61.4,683.6L57.9,688.5L54.7,693.7L51.9,699.0L49.4,704.4L47.3,709.9L45.6,715.6L44.2,721.3L43.2,727.2L42.7,733.0L42.5,740.5L43.1,747.8L44.4,754.8L46.4,761.5L48.8,767.9L51.6,773.9L54.7,779.7L57.9,785.2L61.1,790.6L64.3,795.8L67.3,800.8L70.2,805.8L72.8,810.6L75.0,815.3L76.9,820.0L78.5,824.5L79.6,828.6L80.8,833.7L81.9,838.5L82.8,842.9L83.5,847.2L84.0,851.5L84.4,855.9L84.6,860.7L84.7,866.0L105.1,866.0L105.0,860.2L104.8,854.8L104.4,849.8L103.8,844.9L103.1,840.0L102.1,835.1L101.0,829.9L99.7,824.4L98.4,818.9L96.7,813.4L94.8,807.9L92.5,802.6L89.9,797.3L87.1,792.2L84.0,787.2L80.9,782.2L77.6,777.4L74.4,772.5L71.4,767.5L68.7,762.5L66.4,757.2L64.7,751.7L63.5,746.1L62.9,740.2L62.9,734.1L63.3,729.1L64.0,724.2L65.0,719.3L66.3,714.5L67.8,709.8L69.7,705.2L71.9,700.6L74.3,696.2L77.1,691.8L80.1,687.6L83.5,683.6L87.1,679.7L91.0,676.0L95.2,672.5L99.7,669.1L104.5,666.0L109.5,663.2L114.7,660.6L120.3,658.2L126.0,656.2L132.0,654.4L138.2,653.0L144.7,651.8L151.3,651.1L158.1,650.7L165.0,650.6L240.0,650.7Z"/>
<path d="M570.0,650.7L655.0,650.6L661.3,651.1L667.3,652.2L673.0,653.9L678.1,656.2L682.7,659.1L686.5,662.7L689.5,666.6L691.9,670.7L694.0,674.7L696.0,678.5L697.9,682.2L699.7,685.9L701.3,689.8L702.8,693.8L704.2,697.9L705.4,702.3L706.4,706.9L707.1,711.7L707.5,716.7L707.7,722.0L707.4,726.4L706.9,730.7L705.9,734.8L704.7,738.7L703.2,742.6L701.4,746.4L699.2,750.1L696.8,753.8L694.2,757.5L691.3,761.1L688.1,764.8L684.8,768.5L681.2,772.1L677.5,775.8L673.6,779.5L669.6,783.2L665.6,787.0L661.4,790.8L657.3,794.7L653.2,798.7L649.0,802.8L645.0,807.0L641.0,811.3L637.2,815.8L633.6,820.5L630.1,825.3L626.9,830.4L623.4,837.2L617.0,862.6L636.5,866.3L642.2,842.3L643.9,837.8L646.4,833.4L649.2,829.1L652.3,824.9L655.6,820.8L659.1,816.7L662.8,812.7L666.6,808.8L670.6,804.9L674.6,801.1L678.7,797.3L682.8,793.5L686.9,789.7L691.0,785.8L695.0,782.0L698.9,778.1L702.7,774.1L706.3,770.1L709.8,766.0L713.1,761.7L716.1,757.4L718.9,752.9L721.4,748.3L723.6,743.4L725.4,738.4L726.8,733.2L727.7,727.7L728.1,722.0L728.0,715.7L727.5,709.6L726.6,703.7L725.4,698.0L724.1,692.4L722.6,687.0L721.1,681.5L719.6,676.0L717.6,670.4L715.0,665.1L711.5,660.1L707.2,655.6L702.3,651.4L696.8,647.7L690.8,644.5L684.3,641.9L677.4,639.8L670.2,638.3L662.7,637.4L655.0,637.1L570.0,637.3Z"/>
<path d="M927.0,639.3L845.0,639.1L837.4,639.2L829.9,639.8L822.6,640.7L815.5,642.1L808.6,643.9L802.0,646.1L795.7,648.7L789.6,651.7L783.9,655.0L778.5,658.7L773.4,662.7L768.8,667.0L764.4,671.6L760.5,676.5L757.0,681.6L753.9,687.0L751.1,692.6L748.8,698.4L747.0,704.4L745.5,710.5L744.5,716.9L743.8,723.4L743.7,730.0L744.1,737.2L745.1,744.1L746.7,750.8L749.0,757.0L751.7,763.0L754.9,768.5L758.5,773.7L762.4,778.6L766.4,783.2L770.4,787.7L774.6,791.9L778.7,796.0L782.7,800.0L786.7,803.9L790.5,807.8L794.1,811.7L797.5,815.6L800.7,819.4L803.5,823.3L806.1,827.2L808.3,831.1L810.1,834.9L811.6,838.7L812.9,842.4L813.3,844.9L815.9,867.7L836.3,865.8L833.5,841.6L832.7,836.2L831.3,831.1L829.8,826.1L828.0,821.0L825.7,816.1L823.1,811.3L820.1,806.8L816.8,802.4L813.3,798.2L809.6,794.2L805.8,790.4L801.9,786.6L798.0,783.0L794.0,779.4L790.1,775.8L786.1,772.3L782.1,768.7L778.3,764.9L774.7,760.9L771.6,756.6L768.9,751.9L766.9,746.9L765.4,741.6L764.5,736.0L764.1,730.0L764.1,724.3L764.5,718.8L765.3,713.4L766.3,708.2L767.7,703.1L769.4,698.2L771.4,693.5L773.7,689.0L776.3,684.7L779.2,680.5L782.5,676.6L786.1,673.0L790.0,669.5L794.3,666.3L798.8,663.5L803.7,660.9L808.9,658.6L814.3,656.7L820.0,655.1L825.9,653.9L832.1,653.1L838.5,652.7L845.0,652.6L927.0,652.7Z"/>
<path d="M1248.0,650.7L1335.0,650.6L1341.6,651.1L1347.9,652.0L1353.8,653.4L1359.3,655.4L1364.3,657.8L1368.8,660.8L1372.7,664.3L1375.9,668.0L1378.7,671.9L1381.1,675.7L1383.5,679.4L1385.8,683.0L1387.9,686.7L1389.9,690.3L1391.8,694.1L1393.5,698.0L1395.1,701.9L1396.6,706.0L1397.9,710.1L1399.0,714.4L1400.0,718.7L1400.7,723.2L1401.3,727.7L1401.6,732.3L1401.7,737.0L1401.4,741.8L1400.8,746.3L1399.8,750.6L1398.4,754.7L1396.8,758.7L1394.8,762.7L1392.5,766.6L1390.0,770.6L1387.2,774.5L1384.3,778.5L1381.1,782.6L1377.8,786.7L1374.3,791.0L1370.8,795.4L1367.4,800.0L1363.9,804.7L1360.6,809.7L1357.4,815.0L1354.5,820.5L1351.9,826.3L1349.7,832.5L1347.8,839.9L1345.7,864.9L1365.9,866.1L1367.8,842.2L1368.8,837.0L1370.3,831.9L1372.3,826.9L1374.6,822.1L1377.1,817.5L1380.0,812.9L1383.0,808.5L1386.2,804.1L1389.6,799.9L1393.0,795.6L1396.4,791.4L1399.8,787.1L1403.1,782.8L1406.3,778.5L1409.4,774.0L1412.3,769.4L1414.9,764.6L1417.2,759.6L1419.1,754.4L1420.6,748.9L1421.6,743.1L1422.1,737.0L1422.0,731.5L1421.7,726.1L1421.1,720.8L1420.2,715.5L1419.1,710.3L1417.9,705.2L1416.5,700.1L1414.9,695.1L1413.3,690.1L1411.6,685.0L1409.8,679.9L1407.6,674.9L1405.0,669.9L1401.7,665.2L1397.8,660.7L1393.4,656.6L1388.5,652.8L1383.2,649.3L1377.4,646.2L1371.2,643.4L1364.6,641.2L1357.6,639.4L1350.3,638.2L1342.8,637.4L1335.0,637.1L1248.0,637.3Z"/>
<path d="M1602.0,637.3L1510.0,637.1L1502.2,637.3L1494.6,638.2L1487.3,639.7L1480.4,641.9L1473.8,644.7L1467.8,647.9L1462.2,651.7L1457.2,655.9L1452.6,660.4L1448.6,665.3L1445.0,670.4L1441.8,675.8L1439.1,681.4L1436.8,687.2L1434.9,693.1L1433.4,699.3L1432.2,705.5L1431.4,711.9L1431.0,718.4L1430.9,725.0L1431.2,731.7L1431.9,738.6L1433.3,744.8L1435.6,750.5L1438.6,755.9L1442.3,760.8L1446.4,765.3L1450.9,769.4L1455.6,773.3L1460.5,776.8L1465.7,780.2L1470.9,783.4L1476.2,786.5L1481.5,789.5L1486.9,792.6L1492.2,795.7L1497.5,798.8L1502.6,802.0L1507.7,805.2L1512.6,808.6L1517.4,812.0L1521.9,815.5L1526.1,819.1L1530.1,822.8L1533.7,826.6L1536.9,830.3L1539.7,834.1L1542.2,837.7L1544.2,841.3L1545.7,844.8L1545.2,846.6L1549.2,868.8L1569.5,865.6L1565.1,841.1L1565.4,835.0L1563.8,829.8L1561.5,824.7L1558.4,819.9L1554.8,815.4L1550.6,811.1L1546.2,807.1L1541.5,803.3L1536.7,799.7L1531.7,796.1L1526.6,792.7L1521.5,789.4L1516.4,786.2L1511.3,783.0L1506.3,779.9L1501.3,776.9L1496.5,773.9L1491.9,770.9L1487.4,768.0L1483.0,765.2L1478.8,762.4L1474.6,759.7L1470.4,757.1L1466.2,754.6L1462.1,751.8L1458.4,748.7L1455.5,745.1L1453.5,741.1L1452.3,736.8L1451.6,730.8L1451.3,724.9L1451.3,719.0L1451.6,713.3L1452.2,707.7L1453.1,702.3L1454.2,697.0L1455.7,691.9L1457.4,687.0L1459.3,682.3L1461.6,677.8L1464.2,673.5L1467.1,669.5L1470.3,665.8L1473.9,662.4L1477.9,659.3L1482.4,656.6L1487.2,654.3L1492.4,652.6L1497.9,651.3L1503.8,650.7L1510.0,650.6L1602.0,650.7Z"/>
<path d="M380.8,717.5L367.6,777.1L354.4,836.8L341.1,896.4L327.9,956.0L314.6,1015.7L301.4,1075.3L320.6,1078.2L333.5,1018.6L346.5,958.9L359.5,899.2L372.5,839.6L385.4,779.9L398.4,720.2Z"/>
<path d="M454.3,718.1L442.1,784.0L430.0,849.9L417.9,915.9L405.8,981.8L393.6,1047.9L392.5,1054.5L391.4,1060.9L390.2,1067.2L389.0,1073.3L387.8,1079.3L386.4,1085.2L385.0,1090.8L383.5,1096.3L382.0,1101.6L380.3,1106.8L378.5,1111.7L376.6,1116.5L374.5,1121.0L372.4,1125.3L370.1,1129.4L367.7,1133.3L365.1,1137.0L363.5,1139.2L291.6,1201.5L309.3,1213.5L381.6,1149.8L385.4,1145.8L388.7,1141.5L391.7,1136.9L394.5,1132.2L397.0,1127.3L399.4,1122.2L401.6,1116.9L403.6,1111.5L405.4,1105.9L407.1,1100.2L408.7,1094.4L410.1,1088.4L411.5,1082.3L412.7,1076.1L413.9,1069.8L415.0,1063.4L416.1,1056.8L417.0,1050.2L428.1,984.2L439.2,918.2L450.4,852.2L461.5,786.2L472.6,720.2Z"/>
<path d="M1071.8,721.0L1076.7,781.0L1081.6,841.0L1086.5,901.0L1091.4,961.0L1096.4,1021.1L1101.3,1081.1L1121.2,1079.9L1116.0,1019.9L1110.8,959.9L1105.6,899.9L1100.4,839.9L1095.2,779.9L1090.0,719.9Z"/>
<path d="M1145.8,721.3L1153.9,795.3L1161.9,869.4L1170.0,943.4L1178.0,1017.5L1187.2,1096.5L1187.5,1102.7L1187.4,1108.5L1186.8,1113.8L1185.8,1118.8L1184.5,1123.4L1182.9,1127.8L1181.0,1131.9L1178.8,1135.9L1176.4,1139.8L1173.8,1143.6L1171.0,1147.4L1168.0,1151.1L1164.9,1154.9L1161.2,1159.2L1128.4,1204.6L1148.2,1213.1L1180.1,1168.0L1183.1,1164.1L1186.5,1160.1L1189.8,1156.1L1193.0,1151.9L1196.2,1147.5L1199.3,1143.0L1202.1,1138.2L1204.6,1133.1L1206.9,1127.6L1208.7,1121.9L1210.0,1115.7L1210.8,1109.2L1211.0,1102.2L1210.6,1094.8L1200.5,1015.8L1191.7,941.8L1182.8,867.8L1174.0,793.8L1165.1,719.8Z"/>
</g>
</g>
<ellipse cx="487" cy="286" rx="11.5" ry="4.5" fill="#c8c8ce" transform="rotate(-10 487 286)"/>
<ellipse cx="1051" cy="286" rx="11.5" ry="4.5" fill="#bcbcc2" transform="rotate(4 1051 286)"/>
<ellipse cx="1612" cy="286" rx="12.5" ry="4.5" fill="#a8a8ae" transform="rotate(15 1612 286)"/>
<ellipse cx="319" cy="1079" rx="18" ry="7" fill="#b4b4bc" transform="rotate(-8 319 1079)"/>
<ellipse cx="1119" cy="1082" rx="18.5" ry="7" fill="#86868c" transform="rotate(3 1119 1082)"/>
<g filter="url(#b4)" opacity="0.5">
<line x1="528" y1="179" x2="507" y2="267" stroke="#3a3a3a" stroke-width="24" stroke-linecap="round"/>
<line x1="1061" y1="178" x2="1070" y2="267" stroke="#3a3a3a" stroke-width="23" stroke-linecap="round"/>
<line x1="1596" y1="180" x2="1632" y2="268" stroke="#3a3a3a" stroke-width="25" stroke-linecap="round"/>
<line x1="385" y1="862" x2="346" y2="1044" stroke="#3a3a3a" stroke-width="28" stroke-linecap="round"/>
<line x1="1124" y1="863" x2="1142" y2="1046" stroke="#3a3a3a" stroke-width="28" stroke-linecap="round"/>
</g>
<polygon points="505.9,156.2 497.0,161.2 479.5,250.9 489.0,265.0 503.1,255.5 520.5,165.8 514.1,157.8" fill="#e8402a" stroke="#e8402a" stroke-width="3" stroke-linejoin="round"/>
<polygon points="516.8,160.8 520.5,165.8 503.1,255.5 489.0,265.0 498.7,254.1" fill="#b83020" opacity="0.6"/>
<polygon points="489.0,265.0 479.5,250.9 492.0,249.7 503.1,255.5" fill="#b83020" opacity="0.7"/>
<polygon points="1040.0,157.3 1033.1,164.3 1040.6,254.5 1053.0,265.0 1063.5,252.6 1056.0,162.3 1048.0,156.7" fill="#e83f24" stroke="#e83f24" stroke-width="3" stroke-linejoin="round"/>
<polygon points="1051.3,158.7 1056.0,162.3 1063.5,252.6 1053.0,265.0 1059.1,252.4" fill="#b42e1a" opacity="0.6"/>
<polygon points="1053.0,265.0 1040.6,254.5 1051.8,250.1 1063.5,252.6" fill="#b42e1a" opacity="0.7"/>
<polygon points="1572.8,158.4 1567.3,167.5 1597.2,257.1 1613.0,265.0 1620.9,249.2 1591.0,159.6 1581.2,155.6" fill="#e83f24" stroke="#e83f24" stroke-width="3" stroke-linejoin="round"/>
<polygon points="1585.1,156.9 1591.0,159.6 1620.9,249.2 1613.0,265.0 1616.2,250.1" fill="#b42e1a" opacity="0.6"/>
<polygon points="1613.0,265.0 1597.2,257.1 1607.9,249.6 1620.9,249.2" fill="#b42e1a" opacity="0.7"/>
<polygon points="359.2,836.1 348.8,841.9 313.9,1024.6 325.0,1041.0 341.4,1029.9 376.3,847.2 368.8,837.9" fill="#ee4b42" stroke="#ee4b42" stroke-width="3" stroke-linejoin="round"/>
<polygon points="372.0,841.4 376.3,847.2 341.4,1029.9 325.0,1041.0 336.3,1028.2" fill="#c83a32" opacity="0.6"/>
<polygon points="325.0,1041.0 313.9,1024.6 328.4,1023.1 341.4,1029.9" fill="#c83a32" opacity="0.7"/>
<polygon points="1098.1,838.4 1089.7,846.9 1105.8,1030.3 1121.0,1043.0 1133.7,1027.8 1117.6,844.4 1107.9,837.6" fill="#e84024" stroke="#e84024" stroke-width="3" stroke-linejoin="round"/>
<polygon points="1111.9,840.0 1117.6,844.4 1133.7,1027.8 1121.0,1043.0 1128.4,1027.6" fill="#b02c18" opacity="0.6"/>
<polygon points="1121.0,1043.0 1105.8,1030.3 1119.4,1024.9 1133.7,1027.8" fill="#b02c18" opacity="0.7"/>
<linearGradient id="bt0" gradientUnits="userSpaceOnUse" x1="-5" y1="0" x2="166" y2="0"><stop offset="0" stop-color="#6d6d6d"/><stop offset="1" stop-color="#6a6a6a"/></linearGradient>
<polygon points="166,15 172,32 147,107 138,87" fill="#2a2a2a"/>
<polygon points="-5,87 138,87 147,107 -5,107" fill="#313131"/>
<polygon points="-5,15 166,15 138,87 -5,87" fill="url(#bt0)"/>
<linearGradient id="bt1" gradientUnits="userSpaceOnUse" x1="403" y1="0" x2="656" y2="0"><stop offset="0" stop-color="#676767"/><stop offset="1" stop-color="#646464"/></linearGradient>
<polygon points="656,15 660,33 651,105 651,87" fill="#2a2a2a"/>
<polygon points="403,88 651,87 650,105 409,105" fill="#313131"/>
<polygon points="422,15 656,15 651,87 403,88" fill="url(#bt1)"/>
<linearGradient id="bt2" gradientUnits="userSpaceOnUse" x1="914" y1="0" x2="1157" y2="0"><stop offset="0" stop-color="#646464"/><stop offset="1" stop-color="#616161"/></linearGradient>
<polygon points="1148,15 1153,30 1158,88 1157,88" fill="#505050"/>
<polygon points="916,88 1157,88 1157,106 917,106" fill="#303030"/>
<polygon points="914,15 1148,15 1157,88 916,88" fill="url(#bt2)"/>
<linearGradient id="bt3" gradientUnits="userSpaceOnUse" x1="1406" y1="0" x2="1669" y2="0"><stop offset="0" stop-color="#606060"/><stop offset="1" stop-color="#5d5d5d"/></linearGradient>
<polygon points="1406,15 1402,31 1425,105 1427,88" fill="#5a5a5a"/>
<polygon points="1427,88 1669,88 1669,105 1425,105" fill="#2f2f2f"/>
<polygon points="1406,15 1638,15 1669,88 1427,88" fill="url(#bt3)"/>
<linearGradient id="bt4" gradientUnits="userSpaceOnUse" x1="226" y1="0" x2="575" y2="0"><stop offset="0" stop-color="#8b8b8b"/><stop offset="1" stop-color="#656565"/></linearGradient>
<polygon points="575,572 579,586 561,725 562,707" fill="#2a2a2a"/>
<polygon points="226,707 562,707 560,725 233,725" fill="#333333"/>
<polygon points="263,572 575,572 562,707 226,707" fill="url(#bt4)"/>
<linearGradient id="bt5" gradientUnits="userSpaceOnUse" x1="923" y1="0" x2="1257" y2="0"><stop offset="0" stop-color="#616161"/><stop offset="1" stop-color="#5e5e5e"/></linearGradient>
<polygon points="925,707 1257,707 1255,723 925,723" fill="#2c2c2c"/>
<polygon points="923,572 1236,572 1257,707 925,707" fill="url(#bt5)"/>
<linearGradient id="bt6" gradientUnits="userSpaceOnUse" x1="1581" y1="0" x2="1770" y2="0"><stop offset="0" stop-color="#5e5e5e"/><stop offset="1" stop-color="#5c5c5c"/></linearGradient>
<polygon points="1581,572 1574,588 1619,722 1616,707" fill="#585858"/>
<polygon points="1616,707 1770,707 1770,722 1619,722" fill="#2e2e2e"/>
<polygon points="1581,572 1770,572 1770,707 1616,707" fill="url(#bt6)"/>
<g fill="#000" stroke="#000" stroke-width="7" stroke-linejoin="round">
<ellipse cx="256" cy="-5" rx="17" ry="15" transform="rotate(-8 256 -5)"/>
<ellipse cx="735" cy="-5" rx="16" ry="15" transform="rotate(-8 735 -5)"/>
<ellipse cx="1210" cy="-6" rx="14" ry="15" transform="rotate(0 1210 -6)"/>
<ellipse cx="1688" cy="-5" rx="13" ry="15" transform="rotate(8 1688 -5)"/>
<path d="M144.5,179.6 C147.3,167.8 167.3,168.5 175.8,169.2 C190.1,170.3 200.4,176.6 201.5,184.0 C199.2,197.4 187.2,205.5 171.9,205.5 C155.9,205.5 143.9,194.4 144.5,179.6Z"/>
<path d="M284.5,179.6 C287.4,167.8 307.3,168.5 315.9,169.2 C330.1,170.3 340.4,176.6 341.5,184.0 C339.2,197.4 327.2,205.5 311.9,205.5 C295.9,205.5 283.9,194.4 284.5,179.6Z"/>
<path d="M679.0,179.6 C681.8,167.8 701.4,168.5 709.8,169.2 C723.8,170.3 733.9,176.6 735.0,184.0 C732.8,197.4 721.0,205.5 705.9,205.5 C690.2,205.5 678.4,194.4 679.0,179.6Z"/>
<path d="M818.0,179.6 C820.8,167.8 840.4,168.5 848.8,169.2 C862.8,170.3 872.9,176.6 874.0,184.0 C871.8,197.4 860.0,205.5 844.9,205.5 C829.2,205.5 817.4,194.4 818.0,179.6Z"/>
<path d="M1268.0,179.6 C1265.2,167.8 1245.6,168.5 1237.2,169.2 C1223.2,170.3 1213.1,176.6 1212.0,184.0 C1214.2,197.4 1226.0,205.5 1241.1,205.5 C1256.8,205.5 1268.6,194.4 1268.0,179.6Z"/>
<path d="M1408.0,179.6 C1405.2,167.8 1385.6,168.5 1377.2,169.2 C1363.2,170.3 1353.1,176.6 1352.0,184.0 C1354.2,197.4 1366.0,205.5 1381.1,205.5 C1396.8,205.5 1408.6,194.4 1408.0,179.6Z"/>
<path d="M1806.5,179.6 C1803.5,167.8 1782.9,168.5 1774.0,169.2 C1759.3,170.3 1748.7,176.6 1747.5,184.0 C1749.9,197.4 1762.2,205.5 1778.2,205.5 C1794.7,205.5 1807.1,194.4 1806.5,179.6Z"/>
<path d="M47.5,878.0 C51.5,860.4 79.9,861.5 92.0,862.6 C112.3,864.2 126.9,873.6 128.5,884.6 C125.3,904.4 108.2,916.5 86.4,916.5 C63.7,916.5 46.7,900.0 47.5,878.0Z"/>
<path d="M595.5,878.0 C599.5,860.4 627.9,861.5 640.0,862.6 C660.3,864.2 674.9,873.6 676.5,884.6 C673.3,904.4 656.2,916.5 634.4,916.5 C611.7,916.5 594.7,900.0 595.5,878.0Z"/>
<path d="M788.5,878.0 C792.5,860.4 820.1,861.5 832.0,862.6 C851.7,864.2 865.9,873.6 867.5,884.6 C864.3,904.4 847.8,916.5 826.4,916.5 C804.3,916.5 787.7,900.0 788.5,878.0Z"/>
<path d="M1414.5,878.0 C1410.5,860.4 1382.9,861.5 1371.0,862.6 C1351.3,864.2 1337.1,873.6 1335.5,884.6 C1338.7,904.4 1355.2,916.5 1376.6,916.5 C1398.7,916.5 1415.3,900.0 1414.5,878.0Z"/>
<path d="M1608.5,878.0 C1604.5,860.4 1576.1,861.5 1564.0,862.6 C1543.7,864.2 1529.1,873.6 1527.5,884.6 C1530.7,904.4 1547.8,916.5 1569.6,916.5 C1592.3,916.5 1609.3,900.0 1608.5,878.0Z"/>
<path d="M79.5,365.5 C102.0,366.6 117.3,380.3 115.7,394.6 C112.9,410.6 92.0,419.5 73.1,418.5 C69.0,402.6 77.0,381.4 79.5,365.5Z"/>
<path d="M25.5,486.5 C51.9,487.7 70.5,503.3 68.7,519.5 C65.7,537.5 41.5,547.5 19.4,546.5 C14.6,528.5 22.6,504.5 25.5,486.5Z"/>
<path d="M681.5,365.5 C697.5,366.6 711.1,380.6 710.5,395.2 C709.6,411.4 696.0,420.5 682.7,419.5 C679.8,403.3 679.8,381.7 681.5,365.5Z"/>
<path d="M667.5,488.5 C685.1,489.7 700.1,505.6 699.5,522.0 C698.5,540.4 683.5,550.5 668.8,549.5 C665.6,531.2 665.6,506.8 667.5,488.5Z"/>
<path d="M1272.5,365.5 C1288.5,366.6 1307.1,380.6 1307.5,395.2 C1308.6,411.4 1297.0,420.5 1283.7,419.5 C1280.8,403.3 1270.8,381.7 1272.5,365.5Z"/>
<path d="M1296.5,489.5 C1313.5,490.7 1333.1,506.0 1333.5,522.0 C1334.6,539.6 1322.0,549.5 1307.7,548.5 C1304.6,530.8 1294.6,507.2 1296.5,489.5Z"/>
</g>
<g filter="url(#b2)" fill="#777" opacity="0.7">
<ellipse cx="165" cy="173" rx="8" ry="3" transform="rotate(-15 165 173)"/>
<ellipse cx="305" cy="173" rx="8" ry="3" transform="rotate(-15 305 173)"/>
<ellipse cx="699" cy="173" rx="8" ry="3" transform="rotate(-15 699 173)"/>
<ellipse cx="838" cy="173" rx="8" ry="3" transform="rotate(-15 838 173)"/>
<ellipse cx="1232" cy="173" rx="8" ry="3" transform="rotate(-15 1232 173)"/>
<ellipse cx="1372" cy="173" rx="8" ry="3" transform="rotate(-15 1372 173)"/>
</g>
<g fill="none" stroke="#000" stroke-width="7">
<path d="M282,343 L895,343" stroke-dasharray="27.3 22.1"/>
<path d="M895,353 L895,1128" stroke-dasharray="27 21.8"/>
<path d="M898,1128 L95,1128" stroke-dasharray="27 21.5"/>
<path d="M280.6,353 L95,1128" stroke-dasharray="27.4 21.6"/>
<path d="M1262,621 L1535,621" stroke-dasharray="27 22"/>
<path d="M1262,621 L1320,983" stroke-dasharray="27 20"/>
<path d="M1320,983 L1670,983" stroke-dasharray="27 22"/>
<path d="M1538.5,641 L1670,983" stroke-dasharray="27.2 21.7"/>
</g>
<g fill="none" stroke="#000" stroke-width="6" stroke-linecap="round" stroke-linejoin="round">
<path d="M224,647.5 L160,647 M186.8,633.6 L160,647 L186.6,660.8" stroke-linecap="butt"/>
<path d="M429,560 L440.5,502 M448.7,530.9 L440.5,502 L421.9,525.6" stroke-linecap="butt"/>
<path d="M578,650.5 L642,650.5 M615.3,664.1 L642,650.5 L615.3,636.9" stroke-linecap="butt"/>
<path d="M374,811 L391,736 M398.4,765.1 L391,736 L371.8,759.1" stroke-linecap="butt"/>
<path d="M465,733 L453.5,808 M444.1,779.5 L453.5,808 L471.0,783.6" stroke-linecap="butt"/>
</g>
<g font-family="Liberation Serif, serif" font-size="64" fill="#000">
<text x="215" y="327" textLength="228" lengthAdjust="spacingAndGlyphs">Unit Cell</text>
<text x="172" y="924" textLength="185" lengthAdjust="spacingAndGlyphs">Atomic</text>
<text x="156" y="997" textLength="212" lengthAdjust="spacingAndGlyphs">Memory</text>
<text x="497" y="971" textLength="382" lengthAdjust="spacingAndGlyphs">Single - photon</text>
<text x="570" y="1042" textLength="237" lengthAdjust="spacingAndGlyphs">Detectors</text>
<text x="1285" y="1066" textLength="461" lengthAdjust="spacingAndGlyphs">Bell Measurement</text>
<g fill="#fff">
<text x="329" y="627" textLength="133" lengthAdjust="spacingAndGlyphs">1 X 4</text>
<text x="313" y="700" textLength="160" lengthAdjust="spacingAndGlyphs">switch</text>
</g></g>
</g>
</svg>
</body></html>
